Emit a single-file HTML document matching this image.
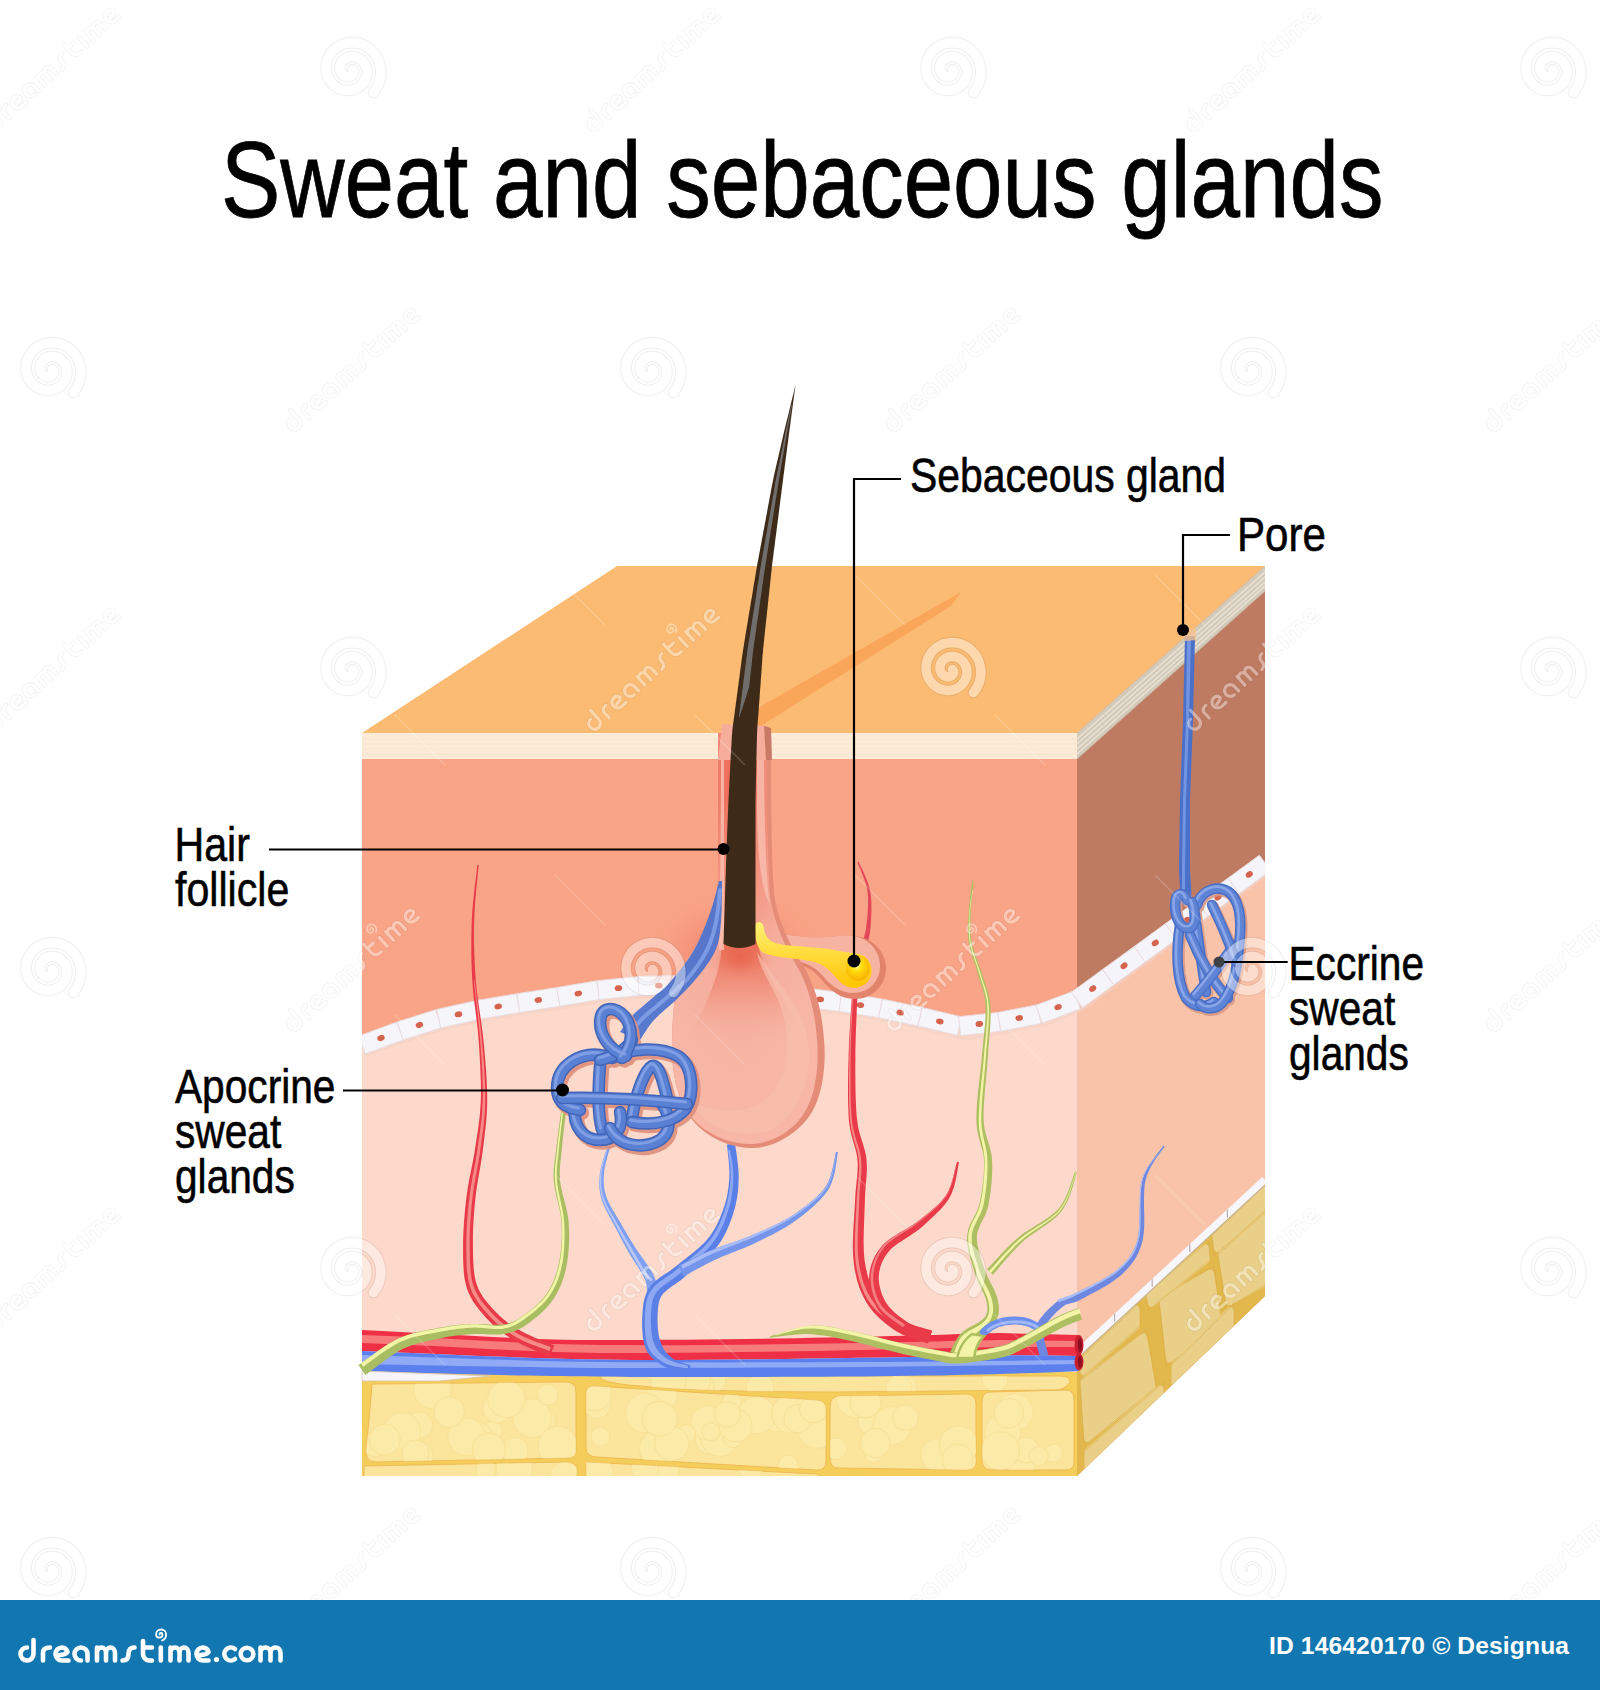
<!DOCTYPE html>
<html><head><meta charset="utf-8">
<style>
html,body{margin:0;padding:0;background:#fff;}
body{width:1600px;height:1690px;overflow:hidden;position:relative;}
svg{position:absolute;left:0;top:0;}
text{font-family:"Liberation Sans",sans-serif;}
</style></head>
<body>
<svg width="1600" height="1690" viewBox="0 0 1600 1690">
<!-- TOP FACE -->
<polygon points="362,733 617,566 1265,566 1077,733" fill="#fbbb73"/>
<path d="M756,709 L961,592 L951,606 L756,729 Z" fill="#f9a65b"/>
<!-- RIGHT FACE -->
<polygon points="1077,733 1265,566 1265,1296 1077,1476" fill="#bf7b62"/>
<polygon points="1077,733 1265,566 1265,591 1077,759" fill="#d3cab9"/>
<g stroke="#efe9df" stroke-width="1.3" opacity="0.85">
<line x1="1077" y1="739" x2="1265" y2="572"/>
<line x1="1077" y1="744" x2="1265" y2="577"/>
<line x1="1077" y1="749" x2="1265" y2="582"/>
<line x1="1077" y1="754" x2="1265" y2="586"/>
</g>
<line x1="1077" y1="759" x2="1265" y2="591" stroke="#c8b8a6" stroke-width="1"/>
<!-- right face dermis lower -->
<polygon points="1077,1000 1265,863 1265,1296 1077,1476" fill="#f9c3aa"/>
<!-- FRONT FACE -->
<rect x="362" y="733" width="715" height="743" fill="#f9a486"/>
<rect x="362" y="733" width="715" height="26" fill="#fdebd7"/>
<g stroke="#f7e3cd" stroke-width="1">
<line x1="362" y1="739" x2="1077" y2="739"/>
<line x1="362" y1="744" x2="1077" y2="744"/>
<line x1="362" y1="749" x2="1077" y2="749"/>
<line x1="362" y1="754" x2="1077" y2="754"/>
</g>
<!-- dermis lower front -->
<path d="M362,1045 C420,1028 480,1010 540,1002 C600,992 640,987 680,985 L800,996 C850,1003 900,1012 967,1028 C1000,1022 1040,1014 1077,1000 L1077,1380 L362,1380 Z" fill="#fcd9ca"/>
<clipPath id="cubeClip"><polygon points="362,733 1077,733 1265,566 1265,1296 1077,1476 362,1476"/></clipPath>
<g id="cells" clip-path="url(#cubeClip)">
<path d="M362,1045 L400,1031 L441,1018 L482,1009 L519,1003 L558,997 L599,990 L640,986 L680,985 L720,988 L760,992 L809,998 L849,1003 L890,1010 L930,1019 L967,1028 L1004,1021 L1045,1013 L1077,1000 L1265,863" fill="none" stroke="#f3d0c3" stroke-width="22" stroke-linejoin="round" opacity="0.6" transform="translate(0,1.5)"/>
<polygon points="365.3,1053.9 403.3,1039.9 396.8,1022.1 358.7,1036.1" fill="#f6f5fa" stroke="#e9dde0" stroke-width="1"/>
<ellipse cx="381.0" cy="1038.0" rx="3.8" ry="2.9" fill="#d5644f" transform="rotate(-20.2 381.0 1038.0)"/>
<polygon points="402.9,1040.0 441.6,1027.8 435.8,1009.7 397.2,1021.9" fill="#f6f5fa" stroke="#e9dde0" stroke-width="1"/>
<ellipse cx="419.4" cy="1024.9" rx="3.8" ry="2.9" fill="#d5644f" transform="rotate(-17.6 419.4 1024.9)"/>
<polygon points="440.8,1028.0 480.3,1019.1 476.2,1000.6 436.6,1009.5" fill="#f6f5fa" stroke="#e9dde0" stroke-width="1"/>
<ellipse cx="458.5" cy="1014.3" rx="3.8" ry="2.9" fill="#d5644f" transform="rotate(-12.7 458.5 1014.3)"/>
<polygon points="479.8,1019.2 519.8,1012.5 516.7,993.8 476.7,1000.5" fill="#f6f5fa" stroke="#e9dde0" stroke-width="1"/>
<ellipse cx="498.2" cy="1006.5" rx="3.8" ry="2.9" fill="#d5644f" transform="rotate(-9.5 498.2 1006.5)"/>
<polygon points="519.7,1012.5 559.8,1006.3 556.9,987.6 516.8,993.7" fill="#f6f5fa" stroke="#e9dde0" stroke-width="1"/>
<ellipse cx="538.3" cy="1000.0" rx="3.8" ry="2.9" fill="#d5644f" transform="rotate(-8.8 538.3 1000.0)"/>
<polygon points="559.9,1006.3 599.9,999.5 596.7,980.8 556.7,987.6" fill="#f6f5fa" stroke="#e9dde0" stroke-width="1"/>
<ellipse cx="578.3" cy="993.5" rx="3.8" ry="2.9" fill="#d5644f" transform="rotate(-9.7 578.3 993.5)"/>
<polygon points="599.2,999.6 639.6,995.6 637.7,976.7 597.3,980.7" fill="#f6f5fa" stroke="#e9dde0" stroke-width="1"/>
<ellipse cx="618.5" cy="988.1" rx="3.8" ry="2.9" fill="#d5644f" transform="rotate(-5.6 618.5 988.1)"/>
<polygon points="638.9,995.6 679.4,994.5 678.9,975.5 638.4,976.6" fill="#f6f5fa" stroke="#e9dde0" stroke-width="1"/>
<ellipse cx="658.9" cy="985.6" rx="3.8" ry="2.9" fill="#d5644f" transform="rotate(-1.6 658.9 985.6)"/>
<polygon points="678.5,994.5 718.9,997.4 720.3,978.5 679.8,975.5" fill="#f6f5fa" stroke="#e9dde0" stroke-width="1"/>
<ellipse cx="699.4" cy="986.5" rx="3.8" ry="2.9" fill="#d5644f" transform="rotate(4.2 699.4 986.5)"/>
<polygon points="718.6,997.4 759.0,1001.4 760.9,982.5 720.5,978.5" fill="#f6f5fa" stroke="#e9dde0" stroke-width="1"/>
<ellipse cx="739.8" cy="990.0" rx="3.8" ry="2.9" fill="#d5644f" transform="rotate(5.7 739.8 990.0)"/>
<polygon points="758.8,1001.4 799.0,1006.4 801.3,987.5 761.1,982.6" fill="#f6f5fa" stroke="#e9dde0" stroke-width="1"/>
<ellipse cx="780.1" cy="994.5" rx="3.8" ry="2.9" fill="#d5644f" transform="rotate(7.0 780.1 994.5)"/>
<polygon points="799.0,1006.3 839.2,1011.4 841.6,992.5 801.4,987.5" fill="#f6f5fa" stroke="#e9dde0" stroke-width="1"/>
<ellipse cx="820.3" cy="999.4" rx="3.8" ry="2.9" fill="#d5644f" transform="rotate(7.1 820.3 999.4)"/>
<polygon points="838.9,1011.3 878.9,1017.7 882.0,999.0 841.9,992.5" fill="#f6f5fa" stroke="#e9dde0" stroke-width="1"/>
<ellipse cx="860.4" cy="1005.1" rx="3.8" ry="2.9" fill="#d5644f" transform="rotate(9.1 860.4 1005.1)"/>
<polygon points="878.5,1017.7 918.1,1026.1 922.1,1007.5 882.4,999.1" fill="#f6f5fa" stroke="#e9dde0" stroke-width="1"/>
<ellipse cx="900.3" cy="1012.6" rx="3.8" ry="2.9" fill="#d5644f" transform="rotate(12.0 900.3 1012.6)"/>
<polygon points="917.9,1026.0 957.3,1035.4 961.7,1016.9 922.3,1007.5" fill="#f6f5fa" stroke="#e9dde0" stroke-width="1"/>
<ellipse cx="939.8" cy="1021.5" rx="3.8" ry="2.9" fill="#d5644f" transform="rotate(13.4 939.8 1021.5)"/>
<polygon points="960.6,1035.6 1000.3,1031.3 998.3,1012.4 958.5,1016.7" fill="#f6f5fa" stroke="#e9dde0" stroke-width="1"/>
<ellipse cx="979.4" cy="1024.0" rx="3.8" ry="2.9" fill="#d5644f" transform="rotate(-6.2 979.4 1024.0)"/>
<polygon points="1001.1,1031.2 1040.9,1023.5 1037.3,1004.8 997.5,1012.6" fill="#f6f5fa" stroke="#e9dde0" stroke-width="1"/>
<ellipse cx="1019.2" cy="1018.0" rx="3.8" ry="2.9" fill="#d5644f" transform="rotate(-11.0 1019.2 1018.0)"/>
<polygon points="1042.4,1023.1 1080.3,1008.9 1073.7,991.1 1035.8,1005.3" fill="#f6f5fa" stroke="#e9dde0" stroke-width="1"/>
<ellipse cx="1058.1" cy="1007.1" rx="3.8" ry="2.9" fill="#d5644f" transform="rotate(-20.5 1058.1 1007.1)"/>
<polygon points="1082.6,1007.7 1113.9,984.8 1102.7,969.5 1071.4,992.3" fill="#f5f4fa" stroke="#e9dde0" stroke-width="1"/>
<ellipse cx="1092.7" cy="988.6" rx="3.8" ry="2.9" fill="#d5644f" transform="rotate(-36.1 1092.7 988.6)"/>
<polygon points="1113.9,984.8 1145.3,962.0 1134.1,946.7 1102.7,969.5" fill="#f5f4fa" stroke="#e9dde0" stroke-width="1"/>
<ellipse cx="1124.0" cy="965.8" rx="3.8" ry="2.9" fill="#d5644f" transform="rotate(-36.1 1124.0 965.8)"/>
<polygon points="1145.3,962.0 1176.6,939.2 1165.4,923.8 1134.1,946.7" fill="#f5f4fa" stroke="#e9dde0" stroke-width="1"/>
<ellipse cx="1155.3" cy="942.9" rx="3.8" ry="2.9" fill="#d5644f" transform="rotate(-36.1 1155.3 942.9)"/>
<polygon points="1176.6,939.2 1207.9,916.3 1196.7,901.0 1165.4,923.8" fill="#f5f4fa" stroke="#e9dde0" stroke-width="1"/>
<ellipse cx="1186.7" cy="920.1" rx="3.8" ry="2.9" fill="#d5644f" transform="rotate(-36.1 1186.7 920.1)"/>
<polygon points="1207.9,916.3 1239.3,893.5 1228.1,878.2 1196.7,901.0" fill="#f5f4fa" stroke="#e9dde0" stroke-width="1"/>
<ellipse cx="1218.0" cy="897.2" rx="3.8" ry="2.9" fill="#d5644f" transform="rotate(-36.1 1218.0 897.2)"/>
<polygon points="1239.3,893.5 1270.6,870.7 1259.4,855.3 1228.1,878.2" fill="#f5f4fa" stroke="#e9dde0" stroke-width="1"/>
<ellipse cx="1249.3" cy="874.4" rx="3.8" ry="2.9" fill="#d5644f" transform="rotate(-36.1 1249.3 874.4)"/>
</g>
<g id="fat">
<rect x="362" y="1372" width="715" height="104" fill="#f5cd5a"/>
<clipPath id="fatFront"><rect x="362" y="1372" width="715" height="104"/></clipPath>
<g clip-path="url(#fatFront)">
<clipPath id="lob1"><path d="M372,1386 Q370,1384 376,1384 L566,1382 Q576,1382 576,1392 L576,1452 Q576,1458 566,1458 L376,1462 Q366,1462 366,1452 Z"/></clipPath>
<path d="M372,1386 Q370,1384 376,1384 L566,1382 Q576,1382 576,1392 L576,1452 Q576,1458 566,1458 L376,1462 Q366,1462 366,1452 Z" fill="#fbe59c" stroke="#eebb55" stroke-width="1"/>
<g opacity="0.55" clip-path="url(#lob1)">
<circle cx="419.6" cy="1425.0" r="13.1" fill="#fdeeb4" stroke="#f3d98a" stroke-width="0.8"/>
<circle cx="492.8" cy="1430.5" r="9.7" fill="#fdeeb4" stroke="#f3d98a" stroke-width="0.8"/>
<circle cx="374.6" cy="1444.9" r="11.9" fill="#fdeeb4" stroke="#f3d98a" stroke-width="0.8"/>
<circle cx="418.9" cy="1455.7" r="14.2" fill="#fdeeb4" stroke="#f3d98a" stroke-width="0.8"/>
<circle cx="539.3" cy="1420.4" r="16.0" fill="#fdeeb4" stroke="#f3d98a" stroke-width="0.8"/>
<circle cx="402.1" cy="1431.2" r="18.5" fill="#fdeeb4" stroke="#f3d98a" stroke-width="0.8"/>
<circle cx="476.6" cy="1438.4" r="16.4" fill="#fdeeb4" stroke="#f3d98a" stroke-width="0.8"/>
<circle cx="384.8" cy="1439.6" r="15.5" fill="#fdeeb4" stroke="#f3d98a" stroke-width="0.8"/>
<circle cx="432.3" cy="1390.1" r="18.5" fill="#fdeeb4" stroke="#f3d98a" stroke-width="0.8"/>
<circle cx="466.5" cy="1436.9" r="18.7" fill="#fdeeb4" stroke="#f3d98a" stroke-width="0.8"/>
<circle cx="514.8" cy="1450.6" r="13.3" fill="#fdeeb4" stroke="#f3d98a" stroke-width="0.8"/>
<circle cx="532.2" cy="1418.2" r="19.3" fill="#fdeeb4" stroke="#f3d98a" stroke-width="0.8"/>
<circle cx="547.8" cy="1394.6" r="10.5" fill="#fdeeb4" stroke="#f3d98a" stroke-width="0.8"/>
<circle cx="415.4" cy="1453.7" r="13.8" fill="#fdeeb4" stroke="#f3d98a" stroke-width="0.8"/>
<circle cx="497.3" cy="1408.5" r="14.6" fill="#fdeeb4" stroke="#f3d98a" stroke-width="0.8"/>
<circle cx="449.2" cy="1411.9" r="15.4" fill="#fdeeb4" stroke="#f3d98a" stroke-width="0.8"/>
<circle cx="488.9" cy="1449.5" r="16.5" fill="#fdeeb4" stroke="#f3d98a" stroke-width="0.8"/>
<circle cx="557.8" cy="1446.2" r="19.9" fill="#fdeeb4" stroke="#f3d98a" stroke-width="0.8"/>
<circle cx="506.3" cy="1399.1" r="18.5" fill="#fdeeb4" stroke="#f3d98a" stroke-width="0.8"/>
</g>
<clipPath id="lob2"><path d="M364,1466 L566,1462 Q577,1462 577,1470 L577,1480 L364,1480 Z"/></clipPath>
<path d="M364,1466 L566,1462 Q577,1462 577,1470 L577,1480 L364,1480 Z" fill="#fbe59c" stroke="#eebb55" stroke-width="1"/>
<g opacity="0.55" clip-path="url(#lob2)">
<circle cx="564.9" cy="1476.9" r="15.3" fill="#fdeeb4" stroke="#f3d98a" stroke-width="0.8"/>
<circle cx="514.2" cy="1468.5" r="18.1" fill="#fdeeb4" stroke="#f3d98a" stroke-width="0.8"/>
<circle cx="485.9" cy="1469.4" r="9.7" fill="#fdeeb4" stroke="#f3d98a" stroke-width="0.8"/>
</g>
<clipPath id="lob3"><path d="M594,1386 Q586,1386 586,1394 L586,1448 Q586,1456 596,1457 L816,1470 Q826,1471 826,1461 L826,1410 Q826,1400 816,1400 Z"/></clipPath>
<path d="M594,1386 Q586,1386 586,1394 L586,1448 Q586,1456 596,1457 L816,1470 Q826,1471 826,1461 L826,1410 Q826,1400 816,1400 Z" fill="#fbe59c" stroke="#eebb55" stroke-width="1"/>
<g opacity="0.55" clip-path="url(#lob3)">
<circle cx="788.1" cy="1465.2" r="10.0" fill="#fdeeb4" stroke="#f3d98a" stroke-width="0.8"/>
<circle cx="775.7" cy="1421.2" r="10.7" fill="#fdeeb4" stroke="#f3d98a" stroke-width="0.8"/>
<circle cx="658.2" cy="1448.4" r="18.6" fill="#fdeeb4" stroke="#f3d98a" stroke-width="0.8"/>
<circle cx="600.3" cy="1436.7" r="9.5" fill="#fdeeb4" stroke="#f3d98a" stroke-width="0.8"/>
<circle cx="756.7" cy="1415.2" r="18.7" fill="#fdeeb4" stroke="#f3d98a" stroke-width="0.8"/>
<circle cx="817.5" cy="1428.4" r="20.0" fill="#fdeeb4" stroke="#f3d98a" stroke-width="0.8"/>
<circle cx="661.8" cy="1395.8" r="15.6" fill="#fdeeb4" stroke="#f3d98a" stroke-width="0.8"/>
<circle cx="597.3" cy="1405.0" r="13.5" fill="#fdeeb4" stroke="#f3d98a" stroke-width="0.8"/>
<circle cx="731.6" cy="1401.9" r="9.5" fill="#fdeeb4" stroke="#f3d98a" stroke-width="0.8"/>
<circle cx="791.3" cy="1413.9" r="19.5" fill="#fdeeb4" stroke="#f3d98a" stroke-width="0.8"/>
<circle cx="798.0" cy="1418.7" r="14.1" fill="#fdeeb4" stroke="#f3d98a" stroke-width="0.8"/>
<circle cx="710.7" cy="1438.9" r="15.6" fill="#fdeeb4" stroke="#f3d98a" stroke-width="0.8"/>
<circle cx="719.7" cy="1437.1" r="19.3" fill="#fdeeb4" stroke="#f3d98a" stroke-width="0.8"/>
<circle cx="707.6" cy="1422.8" r="16.9" fill="#fdeeb4" stroke="#f3d98a" stroke-width="0.8"/>
<circle cx="645.1" cy="1412.9" r="19.8" fill="#fdeeb4" stroke="#f3d98a" stroke-width="0.8"/>
<circle cx="710.9" cy="1431.7" r="9.1" fill="#fdeeb4" stroke="#f3d98a" stroke-width="0.8"/>
<circle cx="686.3" cy="1434.1" r="9.2" fill="#fdeeb4" stroke="#f3d98a" stroke-width="0.8"/>
<circle cx="732.9" cy="1438.0" r="9.7" fill="#fdeeb4" stroke="#f3d98a" stroke-width="0.8"/>
<circle cx="735.5" cy="1425.4" r="16.5" fill="#fdeeb4" stroke="#f3d98a" stroke-width="0.8"/>
<circle cx="671.8" cy="1443.7" r="17.1" fill="#fdeeb4" stroke="#f3d98a" stroke-width="0.8"/>
<circle cx="595.1" cy="1394.6" r="16.4" fill="#fdeeb4" stroke="#f3d98a" stroke-width="0.8"/>
<circle cx="813.5" cy="1409.1" r="14.0" fill="#fdeeb4" stroke="#f3d98a" stroke-width="0.8"/>
<circle cx="727.5" cy="1414.3" r="13.0" fill="#fdeeb4" stroke="#f3d98a" stroke-width="0.8"/>
<circle cx="662.5" cy="1418.1" r="15.6" fill="#fdeeb4" stroke="#f3d98a" stroke-width="0.8"/>
<circle cx="659.7" cy="1418.7" r="17.5" fill="#fdeeb4" stroke="#f3d98a" stroke-width="0.8"/>
</g>
<clipPath id="lob4"><path d="M586,1462 L816,1474 L830,1480 L586,1480 Z"/></clipPath>
<path d="M586,1462 L816,1474 L830,1480 L586,1480 Z" fill="#fbe59c" stroke="#eebb55" stroke-width="1"/>
<g opacity="0.55" clip-path="url(#lob4)">
<circle cx="596.2" cy="1473.4" r="17.1" fill="#fdeeb4" stroke="#f3d98a" stroke-width="0.8"/>
<circle cx="661.3" cy="1468.9" r="17.8" fill="#fdeeb4" stroke="#f3d98a" stroke-width="0.8"/>
<circle cx="644.9" cy="1468.4" r="13.8" fill="#fdeeb4" stroke="#f3d98a" stroke-width="0.8"/>
<circle cx="750.6" cy="1467.3" r="12.5" fill="#fdeeb4" stroke="#f3d98a" stroke-width="0.8"/>
</g>
<clipPath id="lob5"><path d="M600,1376 L1060,1376 Q1070,1376 1070,1382 Q1065,1390 1055,1390 L836,1392 Q700,1392 640,1386 Q600,1383 600,1376 Z"/></clipPath>
<path d="M600,1376 L1060,1376 Q1070,1376 1070,1382 Q1065,1390 1055,1390 L836,1392 Q700,1392 640,1386 Q600,1383 600,1376 Z" fill="#fbe59c" stroke="#eebb55" stroke-width="1"/>
<g opacity="0.55" clip-path="url(#lob5)">
<circle cx="760.2" cy="1387.8" r="13.8" fill="#fdeeb4" stroke="#f3d98a" stroke-width="0.8"/>
<circle cx="995.0" cy="1379.2" r="12.7" fill="#fdeeb4" stroke="#f3d98a" stroke-width="0.8"/>
<circle cx="902.6" cy="1388.5" r="14.0" fill="#fdeeb4" stroke="#f3d98a" stroke-width="0.8"/>
<circle cx="711.3" cy="1378.6" r="14.8" fill="#fdeeb4" stroke="#f3d98a" stroke-width="0.8"/>
<circle cx="695.9" cy="1387.5" r="18.2" fill="#fdeeb4" stroke="#f3d98a" stroke-width="0.8"/>
<circle cx="692.6" cy="1380.6" r="17.9" fill="#fdeeb4" stroke="#f3d98a" stroke-width="0.8"/>
<circle cx="898.9" cy="1387.5" r="12.8" fill="#fdeeb4" stroke="#f3d98a" stroke-width="0.8"/>
<circle cx="668.4" cy="1380.8" r="17.7" fill="#fdeeb4" stroke="#f3d98a" stroke-width="0.8"/>
</g>
<clipPath id="lob6"><path d="M840,1396 L966,1394 Q976,1394 976,1404 L976,1462 Q976,1470 966,1470 L838,1468 Q830,1468 830,1458 L830,1406 Q830,1396 840,1396 Z"/></clipPath>
<path d="M840,1396 L966,1394 Q976,1394 976,1404 L976,1462 Q976,1470 966,1470 L838,1468 Q830,1468 830,1458 L830,1406 Q830,1396 840,1396 Z" fill="#fbe59c" stroke="#eebb55" stroke-width="1"/>
<g opacity="0.55" clip-path="url(#lob6)">
<circle cx="871.4" cy="1421.6" r="13.6" fill="#fdeeb4" stroke="#f3d98a" stroke-width="0.8"/>
<circle cx="891.9" cy="1425.8" r="19.1" fill="#fdeeb4" stroke="#f3d98a" stroke-width="0.8"/>
<circle cx="855.5" cy="1398.3" r="19.4" fill="#fdeeb4" stroke="#f3d98a" stroke-width="0.8"/>
<circle cx="955.4" cy="1465.1" r="13.8" fill="#fdeeb4" stroke="#f3d98a" stroke-width="0.8"/>
<circle cx="965.1" cy="1461.1" r="11.4" fill="#fdeeb4" stroke="#f3d98a" stroke-width="0.8"/>
<circle cx="936.9" cy="1454.9" r="16.3" fill="#fdeeb4" stroke="#f3d98a" stroke-width="0.8"/>
<circle cx="905.6" cy="1417.7" r="12.8" fill="#fdeeb4" stroke="#f3d98a" stroke-width="0.8"/>
<circle cx="865.4" cy="1402.6" r="15.5" fill="#fdeeb4" stroke="#f3d98a" stroke-width="0.8"/>
<circle cx="873.6" cy="1453.1" r="9.5" fill="#fdeeb4" stroke="#f3d98a" stroke-width="0.8"/>
<circle cx="958.7" cy="1445.2" r="19.2" fill="#fdeeb4" stroke="#f3d98a" stroke-width="0.8"/>
<circle cx="957.7" cy="1459.2" r="15.3" fill="#fdeeb4" stroke="#f3d98a" stroke-width="0.8"/>
<circle cx="835.8" cy="1448.7" r="10.9" fill="#fdeeb4" stroke="#f3d98a" stroke-width="0.8"/>
<circle cx="875.4" cy="1443.1" r="14.8" fill="#fdeeb4" stroke="#f3d98a" stroke-width="0.8"/>
</g>
<clipPath id="lob7"><path d="M990,1392 L1066,1390 Q1074,1390 1074,1400 L1074,1462 Q1074,1470 1066,1470 L992,1470 Q982,1470 982,1460 L982,1402 Q982,1392 990,1392 Z"/></clipPath>
<path d="M990,1392 L1066,1390 Q1074,1390 1074,1400 L1074,1462 Q1074,1470 1066,1470 L992,1470 Q982,1470 982,1460 L982,1402 Q982,1392 990,1392 Z" fill="#fbe59c" stroke="#eebb55" stroke-width="1"/>
<g opacity="0.55" clip-path="url(#lob7)">
<circle cx="1020.8" cy="1461.6" r="15.7" fill="#fdeeb4" stroke="#f3d98a" stroke-width="0.8"/>
<circle cx="1014.7" cy="1412.2" r="18.5" fill="#fdeeb4" stroke="#f3d98a" stroke-width="0.8"/>
<circle cx="1026.1" cy="1450.3" r="12.9" fill="#fdeeb4" stroke="#f3d98a" stroke-width="0.8"/>
<circle cx="1002.6" cy="1432.5" r="18.0" fill="#fdeeb4" stroke="#f3d98a" stroke-width="0.8"/>
<circle cx="1000.4" cy="1451.0" r="19.1" fill="#fdeeb4" stroke="#f3d98a" stroke-width="0.8"/>
<circle cx="1053.7" cy="1453.3" r="9.1" fill="#fdeeb4" stroke="#f3d98a" stroke-width="0.8"/>
<circle cx="1038.8" cy="1456.1" r="9.5" fill="#fdeeb4" stroke="#f3d98a" stroke-width="0.8"/>
<circle cx="1008.8" cy="1413.3" r="14.8" fill="#fdeeb4" stroke="#f3d98a" stroke-width="0.8"/>
</g>
</g>
<polygon points="1077,1356 1265,1183 1265,1296 1077,1476" fill="#e2b84c"/>
<clipPath id="fatRight"><polygon points="1077,1356 1265,1183 1265,1296 1077,1476"/></clipPath>
<g clip-path="url(#fatRight)">
<polygon points="1084.0,1381.6 1143.0,1337.3 1152.0,1387.0 1088.0,1437.9" fill="#e9cf87" stroke="#e9cf87" stroke-width="8" stroke-linejoin="round"/>
<polygon points="1080.0,1381.2 1147.0,1329.6 1156.0,1387.3 1084.0,1445.6" fill="none" stroke="#dcae48" stroke-width="1" stroke-linejoin="round" opacity="0.6"/>
<polygon points="1163.0,1298.9 1210.0,1273.6 1218.0,1324.3 1170.0,1358.4" fill="#e9cf87" stroke="#e9cf87" stroke-width="8" stroke-linejoin="round"/>
<polygon points="1159.0,1298.6 1214.0,1266.0 1222.0,1324.6 1166.0,1366.1" fill="none" stroke="#dcae48" stroke-width="1" stroke-linejoin="round" opacity="0.6"/>
<polygon points="1222.0,1254.6 1268.0,1214.3 1268.0,1280.3 1230.0,1301.2" fill="#e9cf87" stroke="#e9cf87" stroke-width="8" stroke-linejoin="round"/>
<polygon points="1218.0,1254.3 1272.0,1206.6 1272.0,1280.6 1226.0,1308.9" fill="none" stroke="#dcae48" stroke-width="1" stroke-linejoin="round" opacity="0.6"/>
<polygon points="1084.0,1359.6 1136.0,1309.7 1136.0,1325.7 1084.0,1371.6" fill="#e9cf87" stroke="#e9cf87" stroke-width="8" stroke-linejoin="round"/>
<polygon points="1080.0,1359.2 1140.0,1302.0 1140.0,1326.0 1080.0,1379.2" fill="none" stroke="#dcae48" stroke-width="1" stroke-linejoin="round" opacity="0.6"/>
<polygon points="1150.0,1294.8 1205.0,1248.2 1206.0,1259.3 1152.0,1303.0" fill="#e9cf87" stroke="#e9cf87" stroke-width="8" stroke-linejoin="round"/>
<polygon points="1146.0,1294.5 1209.0,1240.6 1210.0,1259.6 1148.0,1310.7" fill="none" stroke="#dcae48" stroke-width="1" stroke-linejoin="round" opacity="0.6"/>
<polygon points="1216.0,1236.1 1268.0,1186.3 1268.0,1204.3 1218.0,1248.3" fill="#e9cf87" stroke="#e9cf87" stroke-width="8" stroke-linejoin="round"/>
<polygon points="1212.0,1235.8 1272.0,1178.6 1272.0,1204.6 1214.0,1256.0" fill="none" stroke="#dcae48" stroke-width="1" stroke-linejoin="round" opacity="0.6"/>
<polygon points="1088.0,1451.9 1160.0,1389.6 1160.0,1409.6 1088.0,1475.9" fill="#e9cf87" stroke="#e9cf87" stroke-width="8" stroke-linejoin="round"/>
<polygon points="1084.0,1451.6 1164.0,1382.0 1164.0,1410.0 1084.0,1483.6" fill="none" stroke="#dcae48" stroke-width="1" stroke-linejoin="round" opacity="0.6"/>
<polygon points="1175.0,1365.8 1230.0,1311.2 1230.0,1345.2 1175.0,1395.8" fill="#e9cf87" stroke="#e9cf87" stroke-width="8" stroke-linejoin="round"/>
<polygon points="1171.0,1365.5 1234.0,1303.6 1234.0,1345.6 1171.0,1403.5" fill="none" stroke="#dcae48" stroke-width="1" stroke-linejoin="round" opacity="0.6"/>
</g>
<path d="M1079,1352 L1265,1180" stroke="#f7f6fb" stroke-width="8"/>
<path d="M1079,1357 L1265,1185" stroke="#c9b48a" stroke-width="1.2"/>
<line x1="1114.6" y1="1313.4" x2="1114.6" y2="1321.4" stroke="#b9aeb0" stroke-width="1.2"/>
<line x1="1152.2" y1="1278.8" x2="1152.2" y2="1286.8" stroke="#b9aeb0" stroke-width="1.2"/>
<line x1="1189.8" y1="1244.2" x2="1189.8" y2="1252.2" stroke="#b9aeb0" stroke-width="1.2"/>
<line x1="1227.4" y1="1209.6" x2="1227.4" y2="1217.6" stroke="#b9aeb0" stroke-width="1.2"/>
</g>
<g id="vessels">
<path d="M362,1330 C450,1334 520,1340 600,1340 C760,1340 900,1336 1000,1333 L1079,1335 L1079,1356 C1040,1355 1000,1355 960,1356 C850,1358 750,1360 650,1360 C560,1360 460,1355 362,1351 Z" fill="#ee2f45"/>
<path d="M362,1335 C450,1338 520,1344 600,1345 C760,1346 900,1342 1000,1340 L1079,1341 L1079,1347 L1000,1347 C900,1349 760,1353 600,1353 C520,1352 450,1346 362,1343 Z" fill="#f77b7a"/>
<path d="M362,1351 C460,1355 560,1360 650,1360 C750,1360 850,1358 960,1356 C1000,1355 1040,1355 1079,1356 L1079,1371 C1000,1375 900,1377 700,1377 C550,1377 450,1374 362,1371 Z" fill="#5b80ee"/>
<path d="M362,1355 C450,1358 520,1361 600,1362 C760,1363 900,1362 1079,1360 L1079,1364 C900,1367 760,1368 600,1368 C520,1367 450,1366 362,1364 Z" fill="#91aaf6"/>
<path d="M362,1371 L490,1376 L440,1381 L362,1381 Z" fill="#f7f5fb" stroke="#d8c4b0" stroke-width="0.8"/>
<ellipse cx="1079" cy="1345" rx="4.5" ry="10" fill="#c81e32"/>
<ellipse cx="1080" cy="1345" rx="2.2" ry="7" fill="#8e1020"/>
<ellipse cx="1079" cy="1362" rx="4.5" ry="8.5" fill="#c81e32"/>
<ellipse cx="1080" cy="1362" rx="2.2" ry="6" fill="#8e1020"/>
<path d="M477.3,864.9 L477.0,867.6 L476.7,870.8 L476.2,874.7 L475.7,879.0 L475.1,883.7 L474.5,888.7 L474.0,893.9 L473.4,899.2 L472.9,904.5 L472.4,909.8 L472.1,915.0 L471.8,920.0 L471.6,924.8 L471.5,929.7 L471.4,934.6 L471.3,939.6 L471.3,944.7 L471.3,949.7 L471.3,954.8 L471.4,959.9 L471.6,964.9 L471.8,970.0 L472.0,975.1 L472.3,980.1 L472.6,985.2 L473.0,990.2 L473.5,995.2 L474.1,1000.2 L474.7,1005.3 L475.4,1010.3 L476.0,1015.3 L476.6,1020.3 L477.2,1025.3 L477.8,1030.3 L478.2,1035.2 L478.6,1040.2 L479.0,1045.2 L479.3,1050.3 L479.6,1055.5 L479.9,1060.6 L480.2,1065.7 L480.4,1070.8 L480.6,1075.9 L480.8,1080.9 L480.9,1085.9 L480.9,1090.7 L480.9,1095.4 L480.8,1099.9 L480.6,1104.3 L480.3,1108.6 L480.0,1112.8 L479.6,1116.9 L479.1,1120.9 L478.6,1124.8 L478.1,1128.8 L477.5,1132.7 L476.9,1136.6 L476.3,1140.5 L475.7,1144.5 L475.1,1148.5 L474.5,1152.4 L473.8,1156.4 L473.1,1160.3 L472.3,1164.3 L471.5,1168.2 L470.7,1172.2 L469.9,1176.2 L469.1,1180.2 L468.4,1184.2 L467.7,1188.3 L467.1,1192.4 L466.5,1196.5 L466.0,1200.6 L465.6,1204.8 L465.1,1208.9 L464.7,1213.2 L464.4,1217.4 L464.0,1221.6 L463.8,1225.8 L463.5,1230.0 L463.3,1234.1 L463.2,1238.2 L463.1,1242.2 L463.1,1246.0 L463.1,1249.8 L463.1,1253.5 L463.1,1257.2 L463.2,1260.9 L463.3,1264.5 L463.5,1268.1 L463.8,1271.7 L464.1,1275.2 L464.6,1278.7 L465.3,1282.1 L466.1,1285.4 L467.0,1288.7 L468.2,1291.9 L469.6,1294.9 L471.1,1297.9 L472.7,1300.7 L474.5,1303.4 L476.3,1306.0 L478.2,1308.5 L480.1,1310.9 L482.1,1313.3 L484.1,1315.5 L486.0,1317.7 L488.0,1319.8 L490.0,1321.9 L492.1,1323.9 L494.2,1325.9 L496.3,1327.8 L498.5,1329.6 L500.7,1331.4 L503.0,1333.1 L505.3,1334.7 L507.7,1336.3 L510.1,1337.9 L512.6,1339.5 L515.1,1341.0 L517.9,1342.6 L521.0,1344.2 L524.3,1345.8 L527.6,1347.3 L531.0,1348.8 L534.3,1350.2 L537.6,1351.6 L540.7,1352.9 L543.5,1354.0 L545.9,1355.0 L548.0,1355.9 L549.6,1356.6 L554.4,1345.4 L552.7,1344.7 L550.5,1343.8 L547.9,1342.8 L545.1,1341.7 L542.1,1340.5 L538.9,1339.3 L535.6,1337.9 L532.4,1336.5 L529.2,1335.1 L526.2,1333.7 L523.4,1332.3 L520.9,1331.0 L518.5,1329.6 L516.2,1328.2 L513.9,1326.8 L511.7,1325.3 L509.6,1323.9 L507.5,1322.4 L505.5,1320.8 L503.5,1319.2 L501.6,1317.6 L499.7,1315.9 L497.9,1314.1 L496.0,1312.2 L494.1,1310.2 L492.2,1308.2 L490.3,1306.1 L488.5,1304.0 L486.7,1301.8 L484.9,1299.6 L483.3,1297.4 L481.8,1295.1 L480.4,1292.7 L479.1,1290.3 L477.9,1287.8 L477.0,1285.3 L476.1,1282.6 L475.4,1279.8 L474.8,1276.9 L474.3,1273.9 L473.9,1270.7 L473.6,1267.4 L473.4,1264.0 L473.2,1260.5 L473.1,1257.0 L473.0,1253.4 L473.0,1249.7 L472.9,1246.0 L472.9,1242.2 L472.9,1238.4 L472.9,1234.4 L473.1,1230.4 L473.2,1226.4 L473.5,1222.2 L473.7,1218.1 L474.0,1213.9 L474.3,1209.8 L474.7,1205.7 L475.1,1201.6 L475.5,1197.5 L475.9,1193.6 L476.5,1189.6 L477.1,1185.7 L477.7,1181.7 L478.4,1177.8 L479.1,1173.8 L479.8,1169.8 L480.5,1165.8 L481.1,1161.8 L481.8,1157.7 L482.4,1153.6 L482.9,1149.5 L483.4,1145.5 L483.9,1141.5 L484.4,1137.6 L484.9,1133.6 L485.3,1129.7 L485.8,1125.7 L486.2,1121.6 L486.5,1117.5 L486.8,1113.3 L487.0,1109.0 L487.2,1104.6 L487.2,1100.1 L487.2,1095.4 L487.1,1090.6 L486.9,1085.7 L486.7,1080.7 L486.4,1075.6 L486.1,1070.5 L485.7,1065.4 L485.3,1060.2 L484.8,1055.1 L484.4,1049.9 L483.9,1044.8 L483.4,1039.8 L482.9,1034.8 L482.2,1029.7 L481.6,1024.7 L480.9,1019.7 L480.1,1014.7 L479.4,1009.7 L478.7,1004.7 L478.0,999.8 L477.3,994.8 L476.7,989.8 L476.2,984.8 L475.7,979.9 L475.4,974.9 L475.1,969.9 L474.8,964.8 L474.6,959.8 L474.4,954.7 L474.2,949.7 L474.1,944.6 L474.0,939.6 L474.0,934.7 L474.0,929.7 L474.1,924.9 L474.2,920.0 L474.4,915.1 L474.6,910.0 L475.0,904.7 L475.4,899.3 L475.9,894.0 L476.3,888.8 L476.8,883.9 L477.3,879.2 L477.7,874.9 L478.1,871.0 L478.4,867.7 L478.7,865.1 Z" fill="#e83a48"/>
<path d="M473.7,980.0 L474.0,982.9 L474.4,986.6 L474.9,990.8 L475.5,995.6 L476.1,1000.8 L476.8,1006.3 L477.4,1012.0 L478.1,1017.9 L478.7,1023.7 L479.2,1029.4 L479.7,1034.9 L480.2,1040.1 L480.5,1045.1 L480.9,1050.2 L481.3,1055.3 L481.6,1060.5 L481.9,1065.6 L482.2,1070.7 L482.4,1075.8 L482.6,1080.9 L482.7,1085.8 L482.8,1090.7 L482.8,1095.4 L482.7,1100.0 L482.5,1104.4 L482.3,1108.7 L482.0,1112.9 L481.7,1117.1 L481.3,1121.1 L480.8,1125.1 L480.3,1129.0 L479.8,1133.0 L479.2,1136.9 L478.7,1140.8 L478.1,1144.8 L477.6,1148.8 L477.0,1152.8 L476.3,1156.8 L475.6,1160.8 L474.9,1164.8 L474.1,1168.7 L473.4,1172.7 L472.6,1176.7 L471.9,1180.7 L471.2,1184.7 L470.5,1188.7 L470.0,1192.8 L469.4,1196.8 L469.0,1200.9 L468.5,1205.0 L468.1,1209.2 L467.8,1213.4 L467.4,1217.6 L467.1,1221.8 L466.9,1226.0 L466.6,1230.1 L466.5,1234.2 L466.4,1238.3 L466.3,1242.2 L466.3,1246.0 L466.3,1249.8 L466.4,1253.5 L466.4,1257.1 L466.5,1260.8 L466.6,1264.3 L466.8,1267.9 L467.1,1271.3 L467.5,1274.7 L468.0,1278.1 L468.6,1281.3 L469.4,1284.5 L470.3,1287.6 L471.4,1290.6 L472.7,1293.4 L474.2,1296.2 L475.7,1298.8 L477.4,1301.4 L479.2,1303.9 L481.0,1306.3 L482.9,1308.6 L484.8,1310.9 L486.8,1313.1 L488.7,1315.2 L490.6,1317.3 L492.6,1319.3 L494.6,1321.3 L496.7,1323.2 L498.8,1325.0 L500.9,1326.8 L503.1,1328.5 L505.3,1330.2 L507.6,1331.8 L509.9,1333.3 L512.2,1334.8 L514.6,1336.3 L517.1,1337.7 L519.7,1339.1 L522.5,1340.5 L525.5,1341.9 L528.7,1343.2 L531.8,1344.4 L534.9,1345.6 L537.9,1346.7 L540.8,1347.8 L543.4,1348.7 L545.8,1349.6 L547.7,1350.3 L549.3,1350.9 L550.7,1347.1 L549.1,1346.5 L547.1,1345.8 L544.8,1344.9 L542.2,1344.0 L539.3,1343.0 L536.3,1341.9 L533.2,1340.7 L530.2,1339.5 L527.1,1338.2 L524.2,1336.9 L521.4,1335.6 L518.9,1334.3 L516.6,1332.9 L514.3,1331.5 L512.0,1330.1 L509.8,1328.6 L507.6,1327.1 L505.4,1325.5 L503.3,1323.8 L501.2,1322.1 L499.2,1320.4 L497.2,1318.6 L495.3,1316.7 L493.4,1314.7 L491.4,1312.7 L489.5,1310.6 L487.6,1308.4 L485.7,1306.3 L483.9,1304.0 L482.1,1301.7 L480.4,1299.4 L478.8,1296.9 L477.3,1294.4 L476.0,1291.8 L474.7,1289.2 L473.7,1286.4 L472.8,1283.6 L472.1,1280.6 L471.4,1277.5 L471.0,1274.3 L470.6,1271.0 L470.3,1267.6 L470.1,1264.2 L469.9,1260.6 L469.8,1257.1 L469.8,1253.4 L469.7,1249.7 L469.7,1246.0 L469.7,1242.2 L469.7,1238.3 L469.8,1234.3 L469.9,1230.3 L470.1,1226.2 L470.4,1222.0 L470.7,1217.9 L471.0,1213.7 L471.3,1209.5 L471.7,1205.4 L472.1,1201.2 L472.6,1197.2 L473.0,1193.2 L473.6,1189.2 L474.2,1185.2 L474.9,1181.2 L475.6,1177.3 L476.4,1173.3 L477.1,1169.3 L477.8,1165.3 L478.6,1161.3 L479.2,1157.3 L479.9,1153.3 L480.4,1149.2 L481.0,1145.2 L481.5,1141.2 L482.1,1137.3 L482.6,1133.3 L483.1,1129.4 L483.6,1125.4 L484.0,1121.4 L484.4,1117.3 L484.8,1113.1 L485.0,1108.9 L485.2,1104.5 L485.3,1100.0 L485.3,1095.4 L485.3,1090.6 L485.1,1085.7 L484.9,1080.8 L484.6,1075.7 L484.3,1070.6 L484.0,1065.5 L483.6,1060.3 L483.2,1055.2 L482.7,1050.1 L482.3,1045.0 L481.8,1039.9 L481.3,1034.7 L480.7,1029.2 L480.1,1023.5 L479.3,1017.7 L478.6,1011.9 L477.9,1006.2 L477.1,1000.7 L476.4,995.5 L475.8,990.7 L475.2,986.5 L474.7,982.9 L474.3,980.0 Z" fill="#f58a86"/>
<path d="M561.7,1107.7 L561.4,1109.7 L561.0,1112.3 L560.6,1115.3 L560.1,1118.6 L559.6,1122.3 L559.1,1126.2 L558.5,1130.2 L558.0,1134.2 L557.5,1138.1 L557.0,1141.9 L556.6,1145.5 L556.2,1148.7 L555.9,1151.6 L555.5,1154.4 L555.2,1157.1 L554.8,1159.7 L554.5,1162.2 L554.2,1164.7 L554.0,1167.3 L553.8,1169.9 L553.7,1172.5 L553.6,1175.3 L553.7,1178.2 L553.9,1181.3 L554.2,1184.5 L554.7,1187.9 L555.4,1191.3 L556.1,1194.7 L556.9,1198.2 L557.8,1201.7 L558.6,1205.3 L559.4,1208.8 L560.1,1212.2 L560.7,1215.6 L561.1,1219.0 L561.4,1222.3 L561.6,1225.6 L561.7,1229.1 L561.8,1232.5 L561.7,1236.0 L561.6,1239.4 L561.5,1242.9 L561.2,1246.3 L560.9,1249.7 L560.6,1252.9 L560.1,1256.2 L559.6,1259.3 L559.1,1262.3 L558.4,1265.2 L557.8,1268.0 L557.0,1270.8 L556.2,1273.5 L555.3,1276.1 L554.4,1278.7 L553.4,1281.2 L552.3,1283.6 L551.2,1286.0 L550.0,1288.3 L548.7,1290.5 L547.4,1292.7 L545.9,1294.8 L544.4,1296.8 L542.7,1298.8 L540.9,1300.8 L539.0,1302.7 L537.1,1304.6 L535.1,1306.4 L533.1,1308.2 L531.1,1309.8 L529.1,1311.4 L527.2,1312.9 L525.3,1314.3 L523.4,1315.6 L521.7,1316.8 L520.0,1318.0 L518.3,1319.0 L516.7,1319.9 L515.0,1320.7 L513.4,1321.5 L511.7,1322.2 L509.9,1322.8 L508.1,1323.4 L506.2,1323.9 L504.1,1324.3 L502.0,1324.6 L499.8,1324.8 L497.4,1324.8 L494.8,1324.8 L492.1,1324.7 L489.3,1324.5 L486.5,1324.3 L483.6,1324.1 L480.6,1324.0 L477.6,1323.9 L474.7,1323.9 L471.7,1323.9 L469.0,1324.1 L466.3,1324.3 L463.7,1324.4 L461.1,1324.6 L458.5,1324.9 L455.8,1325.1 L453.2,1325.5 L450.5,1325.8 L447.7,1326.2 L444.9,1326.7 L441.9,1327.2 L438.9,1327.8 L435.9,1328.4 L432.7,1329.0 L429.4,1329.6 L426.1,1330.3 L422.6,1331.0 L419.1,1331.8 L415.5,1332.6 L411.9,1333.6 L408.3,1334.7 L404.7,1335.9 L401.1,1337.3 L397.5,1338.9 L393.9,1340.7 L390.1,1342.8 L386.3,1345.2 L382.5,1347.7 L378.7,1350.3 L375.0,1352.9 L371.5,1355.5 L368.2,1357.9 L365.2,1360.2 L362.5,1362.2 L360.3,1363.8 L358.5,1365.1 L365.5,1374.9 L367.4,1373.6 L369.7,1371.8 L372.4,1369.8 L375.4,1367.5 L378.6,1365.0 L382.0,1362.5 L385.5,1359.9 L389.1,1357.3 L392.6,1354.9 L396.1,1352.7 L399.4,1350.7 L402.5,1349.1 L405.5,1347.8 L408.6,1346.5 L411.8,1345.3 L415.1,1344.3 L418.4,1343.3 L421.7,1342.5 L425.0,1341.7 L428.3,1340.9 L431.6,1340.2 L434.8,1339.5 L438.0,1338.9 L441.1,1338.2 L444.0,1337.6 L446.7,1337.1 L449.4,1336.6 L452.0,1336.2 L454.5,1335.8 L457.0,1335.5 L459.5,1335.2 L462.0,1334.9 L464.5,1334.7 L467.1,1334.5 L469.7,1334.3 L472.3,1334.1 L474.8,1333.9 L477.5,1333.9 L480.2,1334.0 L483.0,1334.1 L485.9,1334.2 L488.8,1334.4 L491.7,1334.5 L494.6,1334.5 L497.5,1334.5 L500.4,1334.4 L503.2,1334.1 L505.9,1333.7 L508.4,1333.1 L510.7,1332.5 L513.0,1331.8 L515.1,1331.0 L517.2,1330.1 L519.2,1329.1 L521.2,1328.1 L523.1,1326.9 L525.0,1325.7 L526.9,1324.5 L528.8,1323.1 L530.7,1321.7 L532.7,1320.1 L534.8,1318.5 L536.9,1316.8 L539.0,1314.9 L541.1,1313.0 L543.3,1311.0 L545.3,1308.9 L547.4,1306.8 L549.3,1304.5 L551.2,1302.2 L553.0,1299.8 L554.6,1297.3 L556.1,1294.8 L557.5,1292.3 L558.8,1289.7 L560.0,1287.1 L561.2,1284.3 L562.2,1281.6 L563.2,1278.7 L564.1,1275.9 L564.9,1272.9 L565.7,1269.9 L566.3,1266.9 L566.9,1263.7 L567.5,1260.5 L567.9,1257.2 L568.3,1253.8 L568.6,1250.3 L568.9,1246.8 L569.0,1243.2 L569.1,1239.6 L569.2,1236.0 L569.1,1232.4 L569.0,1228.8 L568.8,1225.3 L568.6,1221.7 L568.2,1218.1 L567.6,1214.5 L566.9,1210.9 L566.0,1207.2 L565.2,1203.7 L564.2,1200.1 L563.3,1196.7 L562.5,1193.3 L561.7,1189.9 L561.0,1186.7 L560.5,1183.7 L560.1,1180.7 L559.9,1177.9 L559.8,1175.2 L559.8,1172.6 L559.8,1170.1 L560.0,1167.7 L560.1,1165.3 L560.4,1162.8 L560.6,1160.3 L560.9,1157.8 L561.2,1155.1 L561.5,1152.3 L561.8,1149.3 L562.1,1146.1 L562.4,1142.5 L562.8,1138.7 L563.3,1134.8 L563.7,1130.8 L564.2,1126.8 L564.6,1123.0 L565.1,1119.3 L565.5,1115.9 L565.8,1112.9 L566.1,1110.3 L566.3,1108.3 Z" fill="#a9bd62"/>
<path d="M562.3,1107.9 L562.1,1109.9 L561.7,1112.5 L561.3,1115.5 L560.9,1118.9 L560.4,1122.5 L559.9,1126.4 L559.4,1130.4 L558.8,1134.4 L558.4,1138.3 L557.9,1142.1 L557.5,1145.7 L557.2,1148.9 L556.8,1151.9 L556.5,1154.7 L556.2,1157.3 L555.9,1159.9 L555.6,1162.4 L555.3,1164.9 L555.1,1167.4 L555.0,1170.0 L554.8,1172.6 L554.8,1175.3 L554.9,1178.1 L555.0,1181.1 L555.3,1184.2 L555.7,1187.5 L556.3,1190.8 L557.0,1194.2 L557.7,1197.7 L558.5,1201.2 L559.2,1204.7 L559.9,1208.2 L560.6,1211.7 L561.1,1215.2 L561.6,1218.7 L561.8,1222.1 L562.0,1225.5 L562.1,1229.0 L562.2,1232.5 L562.1,1236.0 L562.1,1239.6 L561.9,1243.1 L561.7,1246.5 L561.5,1250.0 L561.1,1253.3 L560.7,1256.6 L560.2,1259.7 L559.7,1262.7 L559.1,1265.7 L558.4,1268.5 L557.6,1271.3 L556.8,1274.0 L556.0,1276.6 L555.0,1279.2 L554.0,1281.7 L552.9,1284.1 L551.7,1286.5 L550.5,1288.8 L549.2,1291.0 L547.8,1293.2 L546.3,1295.3 L544.7,1297.4 L542.9,1299.4 L541.1,1301.4 L539.1,1303.3 L537.1,1305.2 L535.1,1306.9 L533.0,1308.7 L531.0,1310.3 L529.0,1311.9 L527.0,1313.4 L525.1,1314.8 L523.3,1316.1 L521.5,1317.4 L519.8,1318.5 L518.1,1319.6 L516.5,1320.6 L514.8,1321.6 L513.1,1322.4 L511.4,1323.2 L509.6,1323.9 L507.8,1324.5 L505.8,1325.0 L503.7,1325.4 L501.5,1325.7 L499.2,1325.9 L496.7,1325.9 L494.2,1325.7 L491.5,1325.6 L488.8,1325.3 L486.0,1325.0 L483.2,1324.8 L480.4,1324.5 L477.5,1324.3 L474.7,1324.3 L471.9,1324.3 L469.3,1324.4 L466.6,1324.6 L464.0,1324.8 L461.5,1325.0 L458.9,1325.3 L456.3,1325.6 L453.7,1325.9 L451.0,1326.3 L448.3,1326.7 L445.5,1327.2 L442.6,1327.7 L439.7,1328.3 L436.6,1328.8 L433.5,1329.4 L430.2,1329.9 L426.9,1330.5 L423.4,1331.2 L420.0,1331.9 L416.5,1332.7 L413.0,1333.5 L409.5,1334.5 L406.0,1335.6 L402.6,1336.9 L399.2,1338.3 L395.8,1339.9 L392.2,1341.9 L388.4,1344.1 L384.7,1346.5 L381.0,1349.0 L377.4,1351.5 L373.9,1354.0 L370.6,1356.4 L367.6,1358.5 L364.9,1360.5 L362.7,1362.1 L360.9,1363.3 L363.1,1366.7 L365.0,1365.4 L367.3,1363.7 L370.0,1361.8 L373.0,1359.6 L376.2,1357.2 L379.6,1354.7 L383.2,1352.2 L386.8,1349.8 L390.5,1347.4 L394.1,1345.2 L397.5,1343.3 L400.8,1341.7 L404.0,1340.4 L407.3,1339.2 L410.6,1338.1 L414.0,1337.1 L417.4,1336.3 L420.8,1335.5 L424.2,1334.8 L427.5,1334.1 L430.8,1333.5 L434.1,1332.9 L437.3,1332.3 L440.3,1331.7 L443.3,1331.2 L446.1,1330.7 L448.8,1330.2 L451.5,1329.8 L454.1,1329.4 L456.7,1329.0 L459.3,1328.7 L461.8,1328.4 L464.3,1328.2 L466.9,1328.0 L469.5,1327.8 L472.1,1327.7 L474.7,1327.6 L477.4,1327.7 L480.1,1327.8 L482.9,1328.1 L485.7,1328.3 L488.5,1328.6 L491.2,1328.8 L494.0,1329.0 L496.7,1329.1 L499.3,1329.1 L501.8,1328.9 L504.3,1328.6 L506.5,1328.1 L508.7,1327.5 L510.7,1326.8 L512.6,1326.1 L514.5,1325.2 L516.3,1324.3 L518.1,1323.3 L519.8,1322.2 L521.5,1321.1 L523.3,1319.9 L525.1,1318.6 L526.9,1317.2 L528.8,1315.8 L530.8,1314.3 L532.9,1312.7 L535.0,1311.0 L537.0,1309.2 L539.1,1307.3 L541.2,1305.4 L543.2,1303.4 L545.1,1301.4 L546.9,1299.2 L548.6,1297.0 L550.2,1294.8 L551.6,1292.5 L553.0,1290.2 L554.3,1287.8 L555.5,1285.3 L556.6,1282.8 L557.6,1280.2 L558.6,1277.5 L559.5,1274.8 L560.3,1272.0 L561.0,1269.2 L561.7,1266.3 L562.3,1263.3 L562.9,1260.1 L563.3,1256.9 L563.7,1253.6 L564.0,1250.2 L564.3,1246.7 L564.4,1243.2 L564.5,1239.6 L564.6,1236.0 L564.6,1232.5 L564.5,1228.9 L564.4,1225.4 L564.2,1221.9 L563.8,1218.4 L563.4,1214.9 L562.8,1211.3 L562.1,1207.8 L561.3,1204.2 L560.5,1200.7 L559.8,1197.2 L559.0,1193.8 L558.3,1190.4 L557.8,1187.2 L557.3,1184.0 L557.0,1180.9 L556.8,1178.0 L556.7,1175.2 L556.7,1172.6 L556.8,1170.0 L557.0,1167.6 L557.2,1165.1 L557.4,1162.6 L557.7,1160.1 L558.0,1157.5 L558.3,1154.8 L558.6,1152.0 L558.8,1149.1 L559.2,1145.9 L559.5,1142.3 L560.0,1138.5 L560.4,1134.6 L560.9,1130.6 L561.4,1126.6 L561.9,1122.7 L562.3,1119.1 L562.7,1115.7 L563.1,1112.7 L563.4,1110.1 L563.7,1108.1 Z" fill="#f2f5a6"/>
<path d="M607.7,1145.6 L607.3,1146.9 L606.8,1148.5 L606.1,1150.5 L605.4,1152.6 L604.6,1155.0 L603.8,1157.5 L603.0,1160.1 L602.2,1162.7 L601.5,1165.3 L600.9,1167.9 L600.3,1170.4 L600.0,1172.8 L599.7,1175.0 L599.5,1177.1 L599.4,1179.2 L599.3,1181.3 L599.3,1183.4 L599.3,1185.5 L599.4,1187.6 L599.6,1189.8 L599.9,1192.0 L600.3,1194.2 L600.9,1196.5 L601.5,1198.8 L602.3,1201.3 L603.2,1203.8 L604.3,1206.3 L605.5,1208.9 L606.8,1211.5 L608.2,1214.1 L609.5,1216.7 L610.9,1219.2 L612.3,1221.7 L613.6,1224.1 L614.8,1226.4 L616.0,1228.6 L617.1,1230.8 L618.1,1232.8 L619.1,1234.8 L620.1,1236.7 L621.1,1238.5 L622.1,1240.3 L623.0,1242.2 L624.0,1244.0 L625.1,1245.9 L626.2,1247.9 L627.3,1249.9 L628.5,1252.1 L629.9,1254.4 L631.4,1256.9 L633.0,1259.4 L634.6,1262.0 L636.3,1264.5 L638.0,1267.1 L639.6,1269.7 L641.1,1272.2 L642.5,1274.6 L643.7,1276.8 L644.7,1278.9 L645.5,1280.8 L646.0,1282.5 L646.4,1284.3 L646.7,1286.1 L646.9,1287.9 L646.9,1289.6 L646.9,1291.4 L646.9,1293.1 L646.8,1294.7 L646.7,1296.2 L646.6,1297.7 L646.6,1299.1 L646.6,1300.2 L657.4,1299.8 L657.3,1298.9 L657.3,1297.9 L657.3,1296.6 L657.3,1295.0 L657.4,1293.2 L657.3,1291.2 L657.2,1289.1 L657.0,1286.9 L656.7,1284.5 L656.2,1282.1 L655.5,1279.7 L654.5,1277.2 L653.4,1274.8 L652.1,1272.3 L650.6,1269.8 L648.9,1267.2 L647.2,1264.7 L645.4,1262.1 L643.6,1259.6 L641.8,1257.1 L640.1,1254.6 L638.4,1252.3 L636.9,1250.0 L635.5,1247.9 L634.2,1245.9 L633.0,1243.9 L631.8,1242.0 L630.7,1240.2 L629.6,1238.4 L628.6,1236.7 L627.5,1234.9 L626.5,1233.1 L625.4,1231.3 L624.3,1229.4 L623.2,1227.5 L622.0,1225.4 L620.7,1223.1 L619.3,1220.8 L617.9,1218.5 L616.4,1216.0 L614.9,1213.6 L613.5,1211.2 L612.0,1208.7 L610.7,1206.3 L609.4,1203.9 L608.3,1201.6 L607.3,1199.3 L606.5,1197.2 L605.8,1195.1 L605.3,1193.1 L604.8,1191.1 L604.4,1189.1 L604.1,1187.2 L603.9,1185.2 L603.8,1183.3 L603.7,1181.3 L603.7,1179.4 L603.8,1177.4 L603.9,1175.3 L604.0,1173.2 L604.2,1171.0 L604.6,1168.7 L605.1,1166.2 L605.7,1163.6 L606.3,1161.0 L607.0,1158.4 L607.6,1155.9 L608.3,1153.5 L608.9,1151.3 L609.5,1149.4 L610.0,1147.7 L610.3,1146.4 Z" fill="#7f9ff0"/>
<path d="M607.7,1145.9 L607.3,1147.2 L606.8,1148.9 L606.2,1150.8 L605.5,1153.0 L604.7,1155.3 L603.9,1157.8 L603.2,1160.4 L602.4,1163.0 L601.8,1165.6 L601.2,1168.2 L600.7,1170.6 L600.4,1172.9 L600.2,1175.1 L600.0,1177.2 L599.9,1179.3 L599.8,1181.3 L599.8,1183.4 L599.9,1185.4 L600.1,1187.5 L600.3,1189.5 L600.6,1191.7 L601.0,1193.8 L601.6,1196.0 L602.2,1198.3 L603.0,1200.6 L604.0,1203.0 L605.1,1205.5 L606.3,1208.0 L607.6,1210.6 L609.0,1213.1 L610.4,1215.6 L611.8,1218.1 L613.2,1220.6 L614.5,1223.0 L615.8,1225.3 L617.0,1227.5 L618.1,1229.7 L619.2,1231.7 L620.3,1233.6 L621.3,1235.5 L622.3,1237.3 L623.3,1239.1 L624.3,1240.9 L625.3,1242.8 L626.4,1244.6 L627.5,1246.6 L628.6,1248.6 L629.8,1250.7 L631.1,1253.0 L632.6,1255.5 L634.1,1258.2 L635.7,1261.0 L637.4,1263.9 L639.0,1266.7 L640.6,1269.5 L642.1,1272.1 L643.4,1274.5 L644.7,1276.6 L645.7,1278.4 L646.5,1279.9 L649.5,1278.1 L648.6,1276.7 L647.5,1274.9 L646.3,1272.8 L644.8,1270.4 L643.3,1267.9 L641.6,1265.2 L640.0,1262.4 L638.3,1259.5 L636.6,1256.8 L635.0,1254.1 L633.5,1251.6 L632.2,1249.3 L631.0,1247.2 L629.8,1245.2 L628.7,1243.3 L627.6,1241.5 L626.5,1239.7 L625.5,1237.9 L624.4,1236.1 L623.4,1234.3 L622.3,1232.5 L621.3,1230.5 L620.2,1228.6 L619.0,1226.5 L617.7,1224.2 L616.4,1221.9 L615.0,1219.5 L613.6,1217.1 L612.1,1214.6 L610.7,1212.1 L609.3,1209.7 L607.9,1207.2 L606.7,1204.7 L605.6,1202.3 L604.6,1200.0 L603.8,1197.7 L603.1,1195.6 L602.6,1193.4 L602.1,1191.4 L601.8,1189.3 L601.5,1187.3 L601.3,1185.3 L601.2,1183.3 L601.2,1181.3 L601.2,1179.3 L601.3,1177.3 L601.4,1175.2 L601.6,1173.1 L601.9,1170.8 L602.3,1168.4 L602.8,1165.9 L603.4,1163.3 L604.1,1160.7 L604.8,1158.1 L605.5,1155.6 L606.2,1153.2 L606.9,1151.0 L607.5,1149.1 L608.0,1147.4 L608.3,1146.1 Z" fill="#b6c6f6"/>
<path d="M727.0,1144.4 L727.1,1146.1 L727.3,1148.1 L727.6,1150.5 L727.9,1153.1 L728.2,1156.0 L728.5,1159.0 L728.8,1162.1 L729.0,1165.3 L729.2,1168.4 L729.4,1171.4 L729.4,1174.2 L729.3,1176.9 L729.2,1179.5 L729.0,1182.1 L728.7,1184.7 L728.5,1187.2 L728.1,1189.8 L727.7,1192.3 L727.3,1194.8 L726.8,1197.3 L726.2,1199.8 L725.5,1202.3 L724.8,1204.8 L723.9,1207.4 L723.0,1210.0 L722.0,1212.7 L721.0,1215.4 L719.9,1218.0 L718.8,1220.7 L717.5,1223.3 L716.2,1225.9 L714.8,1228.5 L713.3,1231.0 L711.7,1233.5 L710.0,1235.9 L708.2,1238.3 L706.3,1240.6 L704.0,1242.9 L701.6,1245.3 L699.0,1247.7 L696.2,1250.0 L693.4,1252.4 L690.5,1254.7 L687.6,1257.0 L684.7,1259.3 L681.8,1261.5 L679.1,1263.7 L676.6,1265.8 L674.3,1267.6 L672.1,1269.3 L669.8,1270.9 L667.5,1272.4 L665.1,1274.0 L662.8,1275.5 L660.5,1277.1 L658.3,1278.7 L656.1,1280.5 L653.9,1282.4 L651.9,1284.5 L650.1,1286.8 L648.5,1289.1 L647.2,1291.4 L646.1,1293.8 L645.2,1296.2 L644.5,1298.6 L643.9,1300.9 L643.5,1303.2 L643.2,1305.5 L642.9,1307.8 L642.7,1310.1 L642.5,1312.3 L642.4,1314.6 L642.2,1317.1 L642.1,1319.7 L642.1,1322.5 L642.1,1325.3 L642.2,1328.2 L642.4,1331.1 L642.6,1334.0 L642.9,1336.9 L643.4,1339.7 L643.9,1342.5 L644.6,1345.2 L645.5,1347.9 L646.5,1350.3 L647.6,1352.6 L649.1,1354.6 L650.7,1356.5 L652.4,1358.3 L654.1,1359.8 L655.9,1361.3 L657.7,1362.6 L659.5,1363.8 L661.3,1364.9 L663.2,1365.9 L665.1,1366.9 L667.3,1367.8 L669.6,1368.5 L672.0,1369.1 L674.4,1369.5 L676.8,1369.8 L679.1,1370.0 L681.3,1370.2 L683.4,1370.3 L685.3,1370.4 L687.0,1370.4 L688.3,1370.5 L689.4,1370.6 L690.6,1365.4 L689.5,1365.0 L688.1,1364.5 L686.5,1364.0 L684.7,1363.4 L682.7,1362.8 L680.8,1362.1 L678.8,1361.4 L676.8,1360.6 L675.0,1359.8 L673.4,1358.9 L672.0,1358.0 L670.9,1357.1 L669.8,1356.1 L668.6,1355.0 L667.4,1353.8 L666.4,1352.7 L665.4,1351.4 L664.5,1350.2 L663.7,1348.9 L663.0,1347.5 L662.3,1346.2 L661.8,1344.8 L661.1,1343.5 L660.5,1342.1 L660.0,1340.6 L659.5,1338.8 L659.0,1336.8 L658.6,1334.6 L658.3,1332.2 L658.0,1329.8 L657.8,1327.3 L657.6,1324.8 L657.6,1322.3 L657.5,1319.9 L657.5,1317.6 L657.6,1315.4 L657.7,1313.2 L657.8,1311.1 L657.9,1309.1 L658.1,1307.3 L658.3,1305.5 L658.6,1303.8 L658.9,1302.3 L659.3,1300.8 L659.8,1299.4 L660.4,1298.0 L661.1,1296.6 L661.9,1295.2 L662.9,1294.0 L664.0,1292.7 L665.4,1291.4 L667.1,1290.0 L668.9,1288.6 L670.9,1287.1 L673.1,1285.6 L675.4,1283.9 L677.8,1282.2 L680.3,1280.4 L682.9,1278.4 L685.4,1276.2 L687.8,1274.1 L690.4,1271.9 L693.1,1269.6 L695.9,1267.3 L698.8,1264.8 L701.7,1262.2 L704.7,1259.6 L707.5,1256.9 L710.3,1254.2 L713.0,1251.4 L715.5,1248.6 L717.8,1245.7 L719.8,1242.8 L721.7,1239.9 L723.4,1237.0 L725.0,1234.0 L726.5,1231.0 L727.8,1228.0 L729.1,1225.1 L730.2,1222.1 L731.3,1219.2 L732.3,1216.3 L733.2,1213.4 L734.1,1210.6 L734.9,1207.8 L735.6,1204.9 L736.2,1202.1 L736.8,1199.3 L737.2,1196.5 L737.6,1193.7 L738.0,1191.0 L738.2,1188.2 L738.4,1185.4 L738.5,1182.7 L738.6,1179.9 L738.7,1177.1 L738.7,1174.1 L738.5,1171.0 L738.2,1167.7 L737.9,1164.5 L737.5,1161.2 L737.1,1158.0 L736.7,1154.9 L736.3,1152.0 L735.9,1149.4 L735.5,1147.1 L735.2,1145.1 L735.0,1143.6 Z" fill="#5a7fe6" stroke="#a47f9a" stroke-width="0" stroke-linejoin="round"/>
<path d="M728.0,1150.1 L728.2,1151.4 L728.4,1153.0 L728.7,1154.9 L729.0,1157.0 L729.3,1159.3 L729.7,1161.7 L730.0,1164.2 L730.3,1166.8 L730.5,1169.4 L730.7,1172.0 L730.8,1174.5 L730.7,1177.0 L730.6,1179.4 L730.4,1181.9 L730.2,1184.5 L729.9,1187.1 L729.6,1189.8 L729.3,1192.4 L728.8,1195.1 L728.3,1197.8 L727.7,1200.5 L727.0,1203.2 L726.3,1205.8 L725.5,1208.5 L724.5,1211.2 L723.6,1213.9 L722.5,1216.7 L721.5,1219.4 L720.3,1222.2 L719.0,1224.9 L717.7,1227.7 L716.3,1230.4 L714.7,1233.0 L713.1,1235.7 L711.3,1238.3 L709.4,1240.8 L707.3,1243.3 L705.0,1245.7 L702.5,1248.2 L699.8,1250.7 L697.0,1253.2 L694.1,1255.6 L691.2,1258.0 L688.3,1260.4 L685.4,1262.7 L682.6,1264.9 L679.9,1267.1 L677.4,1269.1 L675.1,1271.0 L672.7,1272.8 L670.3,1274.5 L668.0,1276.1 L665.7,1277.6 L663.4,1279.2 L661.2,1280.7 L659.0,1282.3 L657.0,1283.9 L655.1,1285.6 L653.3,1287.4 L651.8,1289.4 L650.4,1291.4 L649.3,1293.5 L648.3,1295.5 L647.5,1297.6 L646.9,1299.7 L646.4,1301.8 L646.0,1303.9 L645.7,1306.1 L645.5,1308.2 L645.3,1310.4 L645.1,1312.6 L645.0,1314.8 L644.9,1317.2 L644.8,1319.8 L644.7,1322.4 L644.8,1325.2 L644.9,1328.0 L645.0,1330.8 L645.3,1333.5 L645.6,1336.3 L646.0,1338.9 L646.5,1341.5 L647.1,1343.9 L647.9,1346.2 L648.8,1348.3 L649.8,1350.3 L651.0,1352.1 L652.3,1353.7 L653.7,1355.2 L655.2,1356.6 L656.7,1357.9 L658.3,1359.1 L659.8,1360.2 L661.5,1361.3 L663.1,1362.2 L664.8,1363.2 L666.6,1364.0 L668.7,1364.8 L670.9,1365.4 L673.1,1366.0 L675.3,1366.4 L677.5,1366.8 L679.7,1367.1 L681.7,1367.4 L683.6,1367.7 L685.2,1367.9 L686.6,1368.1 L687.7,1368.3 L688.3,1365.7 L687.2,1365.4 L685.8,1365.0 L684.2,1364.6 L682.3,1364.2 L680.4,1363.7 L678.3,1363.2 L676.2,1362.6 L674.2,1362.0 L672.2,1361.3 L670.3,1360.5 L668.7,1359.7 L667.2,1358.8 L665.8,1357.9 L664.5,1356.9 L663.1,1355.8 L661.8,1354.7 L660.6,1353.6 L659.4,1352.4 L658.4,1351.1 L657.4,1349.8 L656.5,1348.4 L655.6,1346.9 L654.8,1345.4 L654.1,1343.8 L653.5,1342.0 L652.9,1340.0 L652.4,1337.7 L652.0,1335.3 L651.6,1332.8 L651.4,1330.2 L651.2,1327.6 L651.0,1325.0 L650.9,1322.4 L650.9,1319.9 L650.9,1317.4 L651.0,1315.2 L651.1,1313.0 L651.2,1310.8 L651.4,1308.7 L651.5,1306.7 L651.8,1304.8 L652.1,1302.9 L652.5,1301.1 L653.0,1299.4 L653.6,1297.6 L654.3,1295.9 L655.2,1294.3 L656.2,1292.6 L657.5,1291.0 L658.9,1289.5 L660.5,1288.0 L662.3,1286.5 L664.3,1285.0 L666.4,1283.5 L668.6,1281.9 L670.9,1280.3 L673.3,1278.6 L675.7,1276.8 L678.1,1274.9 L680.6,1272.9 L683.0,1270.8 L685.6,1268.6 L688.4,1266.3 L691.2,1263.9 L694.1,1261.5 L697.0,1259.0 L699.9,1256.5 L702.7,1253.9 L705.4,1251.2 L708.0,1248.6 L710.4,1245.9 L712.6,1243.2 L714.5,1240.5 L716.3,1237.8 L718.0,1235.0 L719.6,1232.1 L721.0,1229.3 L722.3,1226.4 L723.6,1223.6 L724.7,1220.7 L725.8,1217.9 L726.7,1215.0 L727.7,1212.3 L728.5,1209.5 L729.4,1206.7 L730.1,1203.9 L730.7,1201.1 L731.3,1198.4 L731.7,1195.6 L732.1,1192.8 L732.5,1190.1 L732.7,1187.4 L732.9,1184.7 L733.1,1182.1 L733.2,1179.6 L733.3,1177.0 L733.3,1174.5 L733.2,1171.8 L732.9,1169.2 L732.7,1166.5 L732.3,1163.9 L731.9,1161.3 L731.5,1158.9 L731.1,1156.6 L730.8,1154.6 L730.4,1152.7 L730.2,1151.1 L730.0,1149.9 Z" fill="#8ea8f2"/>
<path d="M836.0,1151.8 L835.6,1153.5 L835.1,1155.8 L834.6,1158.4 L834.0,1161.3 L833.4,1164.5 L832.7,1167.8 L831.8,1171.3 L830.9,1174.7 L829.8,1178.0 L828.5,1181.3 L827.0,1184.3 L825.4,1187.0 L823.5,1189.5 L821.3,1192.1 L818.9,1194.6 L816.4,1197.2 L813.6,1199.6 L810.8,1202.1 L807.8,1204.5 L804.7,1206.8 L801.6,1209.1 L798.5,1211.3 L795.4,1213.4 L792.3,1215.5 L789.2,1217.5 L786.1,1219.3 L782.9,1221.1 L779.6,1222.9 L776.3,1224.6 L772.9,1226.2 L769.5,1227.8 L766.1,1229.3 L762.6,1230.8 L759.2,1232.3 L755.7,1233.8 L752.3,1235.2 L748.9,1236.6 L745.5,1238.0 L742.0,1239.2 L738.5,1240.5 L734.9,1241.7 L731.4,1242.9 L727.9,1244.1 L724.4,1245.3 L720.9,1246.5 L717.5,1247.7 L714.2,1248.9 L710.9,1250.2 L707.7,1251.6 L704.5,1253.0 L701.2,1254.5 L698.0,1256.0 L694.9,1257.5 L691.8,1258.9 L688.9,1260.3 L686.2,1261.7 L683.8,1262.9 L681.6,1264.0 L679.8,1264.9 L678.2,1265.6 L683.8,1276.4 L685.3,1275.6 L687.1,1274.6 L689.3,1273.4 L691.7,1272.0 L694.3,1270.6 L697.1,1269.1 L700.0,1267.5 L703.0,1265.9 L706.0,1264.3 L709.1,1262.7 L712.1,1261.2 L715.1,1259.8 L718.1,1258.4 L721.2,1257.1 L724.4,1255.7 L727.7,1254.4 L731.1,1253.1 L734.6,1251.7 L738.1,1250.3 L741.7,1248.9 L745.2,1247.5 L748.7,1245.9 L752.3,1244.4 L755.7,1242.8 L759.1,1241.1 L762.5,1239.5 L765.9,1237.8 L769.3,1236.1 L772.7,1234.4 L776.1,1232.6 L779.5,1230.7 L782.9,1228.8 L786.2,1226.9 L789.4,1224.8 L792.6,1222.7 L795.7,1220.5 L798.8,1218.2 L801.9,1215.9 L804.9,1213.5 L808.0,1211.0 L811.0,1208.4 L814.0,1205.8 L816.8,1203.1 L819.6,1200.4 L822.1,1197.6 L824.5,1194.8 L826.7,1191.9 L828.6,1189.0 L830.3,1185.9 L831.7,1182.6 L832.9,1179.1 L833.9,1175.5 L834.8,1171.9 L835.4,1168.4 L836.0,1165.0 L836.5,1161.8 L836.9,1158.8 L837.3,1156.2 L837.6,1154.0 L838.0,1152.2 Z" fill="#7595ec"/>
<path d="M835.8,1155.9 L835.4,1157.5 L834.9,1159.5 L834.5,1161.8 L834.0,1164.4 L833.4,1167.2 L832.7,1170.2 L832.0,1173.2 L831.0,1176.3 L830.0,1179.4 L828.7,1182.3 L827.3,1185.1 L825.6,1187.7 L823.7,1190.2 L821.5,1192.6 L819.1,1195.0 L816.5,1197.5 L813.8,1199.9 L810.9,1202.2 L808.0,1204.5 L804.9,1206.8 L801.8,1209.0 L798.7,1211.2 L795.6,1213.2 L792.5,1215.2 L789.4,1217.2 L786.3,1219.0 L783.0,1220.8 L779.7,1222.5 L776.4,1224.1 L773.0,1225.7 L769.6,1227.3 L766.2,1228.9 L762.7,1230.4 L759.3,1231.8 L755.9,1233.3 L752.5,1234.8 L749.1,1236.2 L745.6,1237.6 L742.0,1239.0 L738.5,1240.3 L734.9,1241.6 L731.3,1242.9 L727.8,1244.1 L724.3,1245.4 L720.9,1246.6 L717.6,1247.9 L714.4,1249.2 L711.3,1250.4 L708.3,1251.7 L705.3,1253.1 L702.2,1254.5 L699.3,1256.0 L696.4,1257.4 L693.6,1258.8 L690.9,1260.2 L688.5,1261.4 L686.2,1262.6 L684.2,1263.6 L682.5,1264.5 L681.1,1265.2 L682.9,1268.8 L684.3,1268.1 L686.1,1267.1 L688.1,1266.1 L690.3,1264.9 L692.7,1263.6 L695.3,1262.2 L698.0,1260.7 L700.9,1259.3 L703.8,1257.8 L706.8,1256.3 L709.7,1254.9 L712.7,1253.6 L715.7,1252.3 L718.8,1251.0 L722.1,1249.7 L725.4,1248.4 L728.9,1247.1 L732.4,1245.7 L735.9,1244.4 L739.5,1243.0 L743.1,1241.6 L746.6,1240.2 L750.1,1238.7 L753.5,1237.2 L756.9,1235.7 L760.3,1234.1 L763.7,1232.6 L767.2,1231.0 L770.6,1229.4 L774.0,1227.8 L777.4,1226.1 L780.7,1224.3 L784.0,1222.5 L787.2,1220.7 L790.4,1218.8 L793.5,1216.8 L796.6,1214.7 L799.6,1212.5 L802.7,1210.3 L805.8,1208.0 L808.9,1205.7 L811.8,1203.3 L814.7,1200.9 L817.4,1198.4 L820.0,1195.9 L822.3,1193.4 L824.5,1190.8 L826.4,1188.3 L828.1,1185.6 L829.5,1182.7 L830.7,1179.7 L831.8,1176.6 L832.7,1173.4 L833.4,1170.3 L834.0,1167.3 L834.5,1164.5 L835.0,1161.9 L835.4,1159.6 L835.8,1157.6 L836.2,1156.1 Z" fill="#a9bbf4"/>
<path d="M857.4,862.3 L857.9,863.7 L858.6,865.5 L859.5,867.5 L860.5,869.8 L861.6,872.3 L862.7,875.0 L863.7,877.8 L864.8,880.7 L865.7,883.6 L866.5,886.5 L867.2,889.4 L867.6,892.2 L867.9,895.1 L868.1,898.2 L868.1,901.4 L868.1,904.7 L867.9,908.1 L867.7,911.5 L867.5,914.9 L867.2,918.2 L866.8,921.4 L866.5,924.4 L866.1,927.2 L865.8,929.7 L865.4,932.0 L864.9,934.1 L864.4,936.1 L863.8,938.0 L863.2,939.8 L862.6,941.5 L861.9,943.1 L861.3,944.5 L860.8,945.8 L860.2,947.1 L859.8,948.2 L859.4,949.1 L864.6,950.9 L864.8,950.0 L865.2,949.0 L865.6,947.8 L866.1,946.4 L866.7,944.9 L867.3,943.2 L867.9,941.4 L868.5,939.4 L869.0,937.3 L869.5,935.1 L869.9,932.7 L870.2,930.3 L870.5,927.7 L870.7,924.8 L870.9,921.8 L871.1,918.5 L871.3,915.2 L871.4,911.7 L871.4,908.2 L871.4,904.7 L871.3,901.3 L871.1,898.0 L870.8,894.8 L870.4,891.8 L869.8,888.8 L868.9,885.9 L868.0,882.9 L866.9,879.9 L865.7,877.0 L864.5,874.2 L863.3,871.6 L862.1,869.1 L861.0,866.9 L860.0,864.9 L859.2,863.1 L858.6,861.7 Z" fill="#e2485a"/>
<path d="M852.3,989.9 L852.1,993.0 L851.9,996.9 L851.5,1001.5 L851.2,1006.7 L850.8,1012.3 L850.4,1018.3 L850.1,1024.5 L849.7,1030.8 L849.3,1037.1 L849.0,1043.3 L848.8,1049.3 L848.6,1054.9 L848.5,1060.4 L848.3,1066.1 L848.2,1071.8 L848.1,1077.6 L848.0,1083.4 L848.0,1089.1 L848.0,1094.7 L848.1,1100.3 L848.2,1105.7 L848.4,1110.8 L848.6,1115.7 L848.9,1120.4 L849.4,1124.8 L850.1,1128.9 L850.9,1132.7 L851.7,1136.3 L852.6,1139.6 L853.6,1142.8 L854.5,1145.9 L855.3,1148.8 L856.1,1151.7 L856.7,1154.5 L857.2,1157.4 L857.5,1160.4 L857.7,1163.5 L857.7,1166.5 L857.6,1169.4 L857.5,1172.3 L857.2,1175.3 L856.9,1178.3 L856.6,1181.5 L856.3,1184.7 L855.9,1188.2 L855.6,1191.8 L855.3,1195.7 L855.1,1199.8 L854.9,1204.2 L854.6,1208.8 L854.3,1213.8 L854.0,1219.0 L853.6,1224.3 L853.3,1229.8 L853.1,1235.3 L852.9,1240.7 L852.8,1246.0 L852.9,1251.1 L853.1,1256.0 L853.5,1260.6 L854.0,1264.9 L854.6,1269.0 L855.4,1272.9 L856.2,1276.7 L857.1,1280.4 L858.2,1283.9 L859.3,1287.4 L860.6,1290.7 L862.0,1293.9 L863.5,1297.1 L865.2,1300.2 L866.9,1303.2 L868.9,1306.2 L871.0,1309.1 L873.3,1311.9 L875.7,1314.5 L878.2,1317.1 L880.8,1319.5 L883.5,1321.8 L886.1,1323.9 L888.8,1326.0 L891.4,1327.9 L894.0,1329.7 L896.6,1331.5 L899.5,1333.1 L902.5,1334.7 L905.6,1336.1 L908.7,1337.3 L911.8,1338.4 L914.8,1339.4 L917.7,1340.3 L920.3,1341.1 L922.8,1341.8 L924.9,1342.4 L926.5,1342.9 L927.9,1343.4 L932.1,1330.6 L930.5,1330.1 L928.6,1329.5 L926.4,1328.9 L924.0,1328.3 L921.4,1327.6 L918.7,1326.8 L916.0,1326.0 L913.2,1325.0 L910.5,1324.0 L908.0,1323.0 L905.6,1321.8 L903.4,1320.5 L901.1,1319.1 L898.7,1317.5 L896.2,1315.8 L893.8,1314.0 L891.4,1312.1 L889.1,1310.2 L886.8,1308.1 L884.6,1306.0 L882.5,1303.8 L880.5,1301.5 L878.7,1299.2 L877.1,1296.8 L875.5,1294.3 L874.1,1291.6 L872.7,1289.0 L871.5,1286.2 L870.3,1283.3 L869.2,1280.3 L868.2,1277.2 L867.3,1274.0 L866.5,1270.6 L865.7,1267.0 L865.1,1263.3 L864.5,1259.4 L864.1,1255.2 L863.8,1250.7 L863.7,1245.9 L863.6,1240.8 L863.7,1235.6 L863.8,1230.2 L864.0,1224.8 L864.2,1219.5 L864.4,1214.3 L864.6,1209.3 L864.8,1204.6 L864.9,1200.2 L865.0,1196.2 L865.2,1192.5 L865.5,1189.0 L865.7,1185.6 L866.0,1182.4 L866.3,1179.2 L866.6,1176.0 L866.7,1172.9 L866.9,1169.7 L866.9,1166.4 L866.7,1163.1 L866.5,1159.6 L866.0,1156.1 L865.4,1152.7 L864.6,1149.5 L863.7,1146.4 L862.8,1143.3 L861.8,1140.3 L860.8,1137.2 L859.9,1134.1 L859.0,1130.8 L858.2,1127.3 L857.6,1123.6 L857.1,1119.6 L856.6,1115.2 L856.3,1110.4 L856.0,1105.4 L855.8,1100.1 L855.6,1094.6 L855.5,1089.0 L855.4,1083.3 L855.4,1077.6 L855.3,1071.9 L855.3,1066.2 L855.4,1060.5 L855.4,1055.1 L855.4,1049.5 L855.6,1043.5 L855.7,1037.4 L855.9,1031.1 L856.2,1024.8 L856.4,1018.6 L856.7,1012.6 L856.9,1007.0 L857.2,1001.8 L857.4,997.2 L857.6,993.3 L857.7,990.1 Z" fill="#e83a48"/>
<path d="M852.7,990.0 L852.5,993.1 L852.3,997.1 L852.0,1001.7 L851.7,1006.8 L851.3,1012.5 L851.0,1018.4 L850.6,1024.6 L850.3,1030.9 L850.0,1037.2 L849.7,1043.4 L849.5,1049.4 L849.4,1055.0 L849.3,1060.5 L849.2,1066.1 L849.1,1071.8 L849.0,1077.6 L849.0,1083.3 L849.0,1089.1 L849.0,1094.7 L849.1,1100.2 L849.2,1105.5 L849.5,1110.7 L849.7,1115.5 L850.1,1120.1 L850.6,1124.3 L851.2,1128.3 L852.0,1132.0 L852.9,1135.4 L853.8,1138.7 L854.7,1141.9 L855.6,1144.9 L856.5,1147.9 L857.3,1150.8 L858.0,1153.8 L858.5,1156.9 L858.9,1160.1 L859.1,1163.3 L859.2,1166.4 L859.1,1169.5 L859.0,1172.5 L858.7,1175.6 L858.5,1178.6 L858.1,1181.8 L857.8,1185.1 L857.5,1188.5 L857.2,1192.1 L856.9,1195.9 L856.7,1200.0 L856.5,1204.3 L856.3,1209.0 L856.0,1214.0 L855.7,1219.2 L855.4,1224.5 L855.2,1229.9 L854.9,1235.4 L854.8,1240.7 L854.8,1245.9 L854.8,1251.0 L855.1,1255.7 L855.5,1260.2 L856.0,1264.3 L856.6,1268.3 L857.4,1272.1 L858.2,1275.8 L859.1,1279.3 L860.1,1282.8 L861.3,1286.1 L862.5,1289.2 L863.8,1292.3 L865.3,1295.3 L866.9,1298.2 L868.6,1300.9 L870.4,1303.6 L872.5,1306.2 L874.7,1308.7 L877.0,1311.0 L879.4,1313.2 L881.9,1315.3 L884.5,1317.3 L887.1,1319.1 L889.6,1320.9 L892.2,1322.6 L894.6,1324.1 L897.0,1325.6 L899.5,1327.0 L902.2,1328.3 L904.9,1329.5 L907.7,1330.6 L910.5,1331.5 L913.2,1332.4 L915.8,1333.2 L918.2,1333.8 L920.4,1334.5 L922.4,1335.0 L924.1,1335.5 L925.4,1335.9 L926.6,1332.1 L925.2,1331.6 L923.5,1331.1 L921.5,1330.6 L919.3,1330.0 L916.9,1329.3 L914.3,1328.6 L911.7,1327.8 L909.0,1326.9 L906.4,1325.9 L903.8,1324.8 L901.3,1323.7 L899.0,1322.4 L896.6,1320.9 L894.2,1319.4 L891.7,1317.8 L889.2,1316.1 L886.7,1314.3 L884.2,1312.5 L881.8,1310.5 L879.4,1308.4 L877.2,1306.2 L875.1,1303.9 L873.2,1301.6 L871.4,1299.1 L869.8,1296.4 L868.3,1293.7 L866.9,1290.9 L865.6,1287.9 L864.4,1284.9 L863.2,1281.7 L862.2,1278.4 L861.3,1275.0 L860.5,1271.5 L859.7,1267.7 L859.1,1263.9 L858.5,1259.8 L858.1,1255.5 L857.8,1250.9 L857.7,1245.9 L857.7,1240.8 L857.8,1235.4 L858.0,1230.1 L858.2,1224.7 L858.4,1219.3 L858.7,1214.1 L858.9,1209.1 L859.1,1204.4 L859.3,1200.0 L859.4,1196.0 L859.6,1192.3 L859.9,1188.7 L860.2,1185.3 L860.5,1182.0 L860.8,1178.9 L861.1,1175.7 L861.3,1172.7 L861.4,1169.6 L861.4,1166.4 L861.3,1163.2 L861.1,1159.9 L860.7,1156.6 L860.1,1153.4 L859.4,1150.3 L858.5,1147.3 L857.6,1144.3 L856.7,1141.3 L855.7,1138.2 L854.8,1134.9 L853.9,1131.5 L853.1,1127.9 L852.4,1124.1 L851.9,1119.9 L851.5,1115.4 L851.2,1110.6 L850.9,1105.5 L850.8,1100.2 L850.6,1094.7 L850.5,1089.1 L850.5,1083.3 L850.5,1077.6 L850.5,1071.8 L850.5,1066.1 L850.6,1060.5 L850.6,1055.0 L850.7,1049.4 L850.9,1043.4 L851.1,1037.2 L851.3,1030.9 L851.6,1024.6 L851.9,1018.5 L852.2,1012.5 L852.5,1006.9 L852.8,1001.7 L853.0,997.1 L853.2,993.2 L853.3,990.0 Z" fill="#f58a86"/>
<path d="M957.0,1161.7 L956.5,1163.4 L956.0,1165.5 L955.4,1168.0 L954.8,1170.8 L954.1,1173.8 L953.3,1176.9 L952.4,1180.1 L951.4,1183.4 L950.3,1186.5 L949.0,1189.6 L947.7,1192.4 L946.2,1194.9 L944.5,1197.3 L942.6,1199.6 L940.6,1201.9 L938.4,1204.2 L936.0,1206.4 L933.6,1208.6 L931.1,1210.8 L928.5,1212.9 L925.8,1215.1 L923.2,1217.2 L920.5,1219.3 L917.8,1221.3 L915.2,1223.3 L912.4,1225.2 L909.4,1227.0 L906.3,1228.9 L903.1,1230.7 L899.9,1232.5 L896.7,1234.4 L893.6,1236.4 L890.6,1238.4 L887.8,1240.5 L885.1,1242.7 L882.8,1245.1 L880.7,1247.5 L878.9,1249.8 L877.2,1252.3 L875.7,1254.8 L874.3,1257.3 L873.1,1259.9 L872.1,1262.5 L871.2,1265.1 L870.5,1267.7 L869.9,1270.4 L869.5,1273.0 L869.2,1275.7 L869.1,1278.4 L869.1,1281.3 L869.3,1284.1 L869.7,1287.0 L870.2,1289.8 L870.9,1292.7 L871.7,1295.5 L872.6,1298.3 L873.7,1301.0 L874.9,1303.7 L876.1,1306.3 L877.5,1308.8 L879.1,1311.2 L881.0,1313.6 L882.9,1316.0 L885.0,1318.2 L887.2,1320.4 L889.4,1322.4 L891.7,1324.4 L894.0,1326.3 L896.3,1328.1 L898.6,1329.8 L900.8,1331.4 L903.0,1332.8 L905.3,1334.3 L907.8,1335.6 L910.3,1336.7 L912.8,1337.8 L915.3,1338.7 L917.7,1339.5 L920.0,1340.3 L922.1,1340.9 L924.0,1341.5 L925.7,1342.0 L927.0,1342.4 L928.0,1342.8 L932.0,1331.2 L930.7,1330.8 L929.1,1330.4 L927.3,1329.9 L925.4,1329.4 L923.4,1328.8 L921.3,1328.2 L919.1,1327.6 L917.0,1326.8 L914.8,1326.0 L912.8,1325.1 L910.8,1324.2 L909.0,1323.2 L907.1,1321.9 L905.1,1320.6 L903.0,1319.1 L900.8,1317.5 L898.7,1315.9 L896.6,1314.2 L894.6,1312.4 L892.6,1310.6 L890.8,1308.8 L889.2,1306.9 L887.7,1305.1 L886.5,1303.2 L885.3,1301.3 L884.2,1299.2 L883.1,1297.0 L882.2,1294.7 L881.3,1292.4 L880.6,1290.1 L880.0,1287.7 L879.5,1285.3 L879.1,1283.0 L878.9,1280.7 L878.7,1278.5 L878.8,1276.3 L879.0,1274.2 L879.2,1272.0 L879.7,1269.8 L880.2,1267.7 L880.8,1265.5 L881.6,1263.4 L882.5,1261.3 L883.6,1259.2 L884.8,1257.1 L886.1,1255.0 L887.6,1252.9 L889.2,1250.9 L891.0,1249.0 L893.2,1247.1 L895.6,1245.2 L898.2,1243.3 L901.1,1241.4 L904.1,1239.5 L907.2,1237.5 L910.3,1235.4 L913.4,1233.3 L916.5,1231.2 L919.4,1228.9 L922.2,1226.7 L924.7,1224.4 L927.3,1222.1 L929.8,1219.8 L932.4,1217.4 L934.9,1215.1 L937.4,1212.6 L939.8,1210.2 L942.1,1207.7 L944.3,1205.1 L946.3,1202.5 L948.2,1199.8 L949.8,1197.1 L951.3,1194.2 L952.6,1191.0 L953.7,1187.7 L954.7,1184.3 L955.5,1180.9 L956.2,1177.6 L956.8,1174.4 L957.4,1171.3 L957.8,1168.5 L958.2,1166.0 L958.6,1163.9 L959.0,1162.3 Z" fill="#e83a48"/>
<path d="M955.8,1165.9 L955.4,1167.4 L954.9,1169.3 L954.4,1171.4 L953.8,1173.9 L953.2,1176.5 L952.5,1179.3 L951.6,1182.2 L950.7,1185.1 L949.7,1187.9 L948.5,1190.7 L947.1,1193.3 L945.6,1195.8 L944.0,1198.0 L942.1,1200.3 L940.0,1202.5 L937.9,1204.7 L935.5,1206.8 L933.1,1209.0 L930.6,1211.1 L928.1,1213.2 L925.4,1215.2 L922.8,1217.3 L920.2,1219.4 L917.6,1221.4 L914.9,1223.5 L912.0,1225.4 L909.0,1227.3 L905.9,1229.2 L902.7,1231.1 L899.6,1233.0 L896.4,1234.9 L893.4,1236.9 L890.5,1238.9 L887.9,1240.9 L885.4,1243.1 L883.2,1245.3 L881.3,1247.7 L879.6,1250.1 L878.1,1252.5 L876.7,1255.1 L875.4,1257.6 L874.3,1260.2 L873.4,1262.8 L872.6,1265.5 L871.9,1268.1 L871.4,1270.7 L871.0,1273.3 L870.8,1275.9 L870.7,1278.5 L870.7,1281.2 L870.9,1283.9 L871.3,1286.6 L871.8,1289.3 L872.4,1292.0 L873.2,1294.6 L874.1,1297.2 L875.1,1299.8 L876.2,1302.2 L877.5,1304.6 L878.8,1306.8 L880.4,1309.0 L882.3,1311.2 L884.4,1313.3 L886.7,1315.3 L889.1,1317.3 L891.6,1319.2 L894.0,1320.9 L896.3,1322.5 L898.4,1324.0 L900.3,1325.3 L901.8,1326.4 L903.0,1327.3 L905.0,1324.7 L903.8,1323.7 L902.2,1322.6 L900.2,1321.3 L898.1,1319.8 L895.8,1318.3 L893.4,1316.6 L891.0,1314.8 L888.7,1313.0 L886.5,1311.1 L884.4,1309.1 L882.7,1307.1 L881.2,1305.2 L880.0,1303.1 L878.8,1300.9 L877.7,1298.6 L876.7,1296.2 L875.8,1293.8 L875.1,1291.3 L874.4,1288.7 L873.9,1286.2 L873.5,1283.6 L873.3,1281.0 L873.2,1278.5 L873.2,1276.1 L873.4,1273.6 L873.8,1271.1 L874.2,1268.6 L874.8,1266.1 L875.6,1263.5 L876.4,1261.0 L877.4,1258.5 L878.6,1256.0 L879.9,1253.6 L881.4,1251.2 L883.0,1248.9 L884.8,1246.7 L886.8,1244.5 L889.1,1242.4 L891.6,1240.4 L894.4,1238.4 L897.4,1236.4 L900.4,1234.5 L903.6,1232.5 L906.7,1230.6 L909.8,1228.7 L912.8,1226.7 L915.7,1224.6 L918.4,1222.6 L921.0,1220.4 L923.6,1218.3 L926.2,1216.2 L928.8,1214.1 L931.4,1212.0 L933.9,1209.8 L936.3,1207.6 L938.6,1205.4 L940.8,1203.2 L942.8,1200.9 L944.7,1198.6 L946.4,1196.2 L947.9,1193.7 L949.2,1191.0 L950.3,1188.2 L951.4,1185.3 L952.3,1182.4 L953.0,1179.5 L953.7,1176.6 L954.3,1174.0 L954.9,1171.5 L955.3,1169.4 L955.8,1167.5 L956.2,1166.1 Z" fill="#f47d80"/>
<path d="M972.3,880.9 L972.2,882.3 L971.9,883.9 L971.7,885.8 L971.3,888.0 L971.0,890.4 L970.7,892.9 L970.3,895.5 L970.0,898.2 L969.7,901.0 L969.4,903.7 L969.1,906.4 L968.9,908.9 L968.8,911.5 L968.6,914.0 L968.4,916.6 L968.2,919.3 L968.0,921.9 L967.9,924.7 L967.8,927.4 L967.8,930.1 L967.8,932.9 L968.0,935.7 L968.2,938.4 L968.5,941.2 L969.0,944.0 L969.6,946.8 L970.3,949.6 L971.1,952.5 L972.0,955.3 L972.9,958.1 L973.8,960.9 L974.7,963.6 L975.7,966.4 L976.5,969.1 L977.4,971.8 L978.1,974.5 L978.9,977.2 L979.6,979.8 L980.4,982.3 L981.2,984.8 L982.0,987.2 L982.7,989.6 L983.4,992.1 L984.0,994.6 L984.6,997.3 L985.0,1000.0 L985.4,1003.0 L985.6,1006.1 L985.7,1009.5 L985.7,1013.0 L985.5,1016.6 L985.3,1020.3 L985.0,1024.2 L984.6,1028.2 L984.2,1032.3 L983.8,1036.6 L983.3,1041.0 L982.9,1045.5 L982.4,1050.1 L982.0,1054.8 L981.6,1059.7 L981.1,1064.9 L980.5,1070.4 L979.8,1076.1 L979.2,1081.9 L978.5,1087.7 L977.9,1093.6 L977.4,1099.3 L976.9,1104.9 L976.6,1110.3 L976.4,1115.4 L976.4,1120.1 L976.6,1124.5 L977.0,1128.6 L977.7,1132.4 L978.5,1136.0 L979.3,1139.3 L980.2,1142.4 L981.1,1145.4 L982.0,1148.4 L982.7,1151.2 L983.3,1154.1 L983.7,1157.1 L984.0,1160.2 L984.0,1163.6 L984.0,1167.2 L983.9,1170.9 L983.7,1174.6 L983.4,1178.3 L983.0,1182.1 L982.5,1185.8 L982.0,1189.5 L981.5,1193.1 L980.9,1196.6 L980.3,1199.9 L979.6,1203.0 L978.9,1205.8 L978.0,1208.4 L976.9,1210.9 L975.7,1213.4 L974.4,1215.9 L973.1,1218.4 L971.8,1220.9 L970.5,1223.6 L969.3,1226.3 L968.3,1229.3 L967.6,1232.4 L967.1,1235.7 L967.0,1239.0 L967.2,1242.3 L967.6,1245.6 L968.1,1249.0 L968.8,1252.3 L969.6,1255.6 L970.4,1258.8 L971.4,1262.0 L972.3,1265.1 L973.2,1268.0 L974.1,1270.9 L975.0,1273.7 L975.9,1276.5 L977.0,1279.3 L978.1,1282.0 L979.3,1284.6 L980.5,1287.1 L981.7,1289.5 L982.8,1291.8 L983.9,1293.9 L984.8,1296.0 L985.5,1297.9 L986.1,1299.6 L986.5,1301.3 L986.8,1303.0 L987.1,1304.7 L987.3,1306.3 L987.4,1307.7 L987.4,1309.0 L987.3,1310.2 L987.2,1311.4 L987.0,1312.5 L986.7,1313.5 L986.2,1314.6 L985.7,1315.7 L985.1,1316.7 L984.3,1317.7 L983.2,1318.8 L981.8,1320.0 L980.0,1321.3 L978.1,1322.7 L975.9,1324.0 L973.5,1325.2 L971.1,1326.5 L968.7,1327.8 L966.3,1329.2 L964.0,1330.9 L961.8,1332.7 L959.9,1334.8 L958.3,1336.8 L956.9,1338.9 L955.6,1340.9 L954.5,1342.9 L953.5,1344.8 L952.7,1346.6 L951.9,1348.3 L951.2,1349.7 L950.7,1350.8 L950.3,1351.5 L949.9,1352.0 L970.1,1360.0 L970.4,1358.8 L970.7,1357.3 L971.0,1355.9 L971.2,1354.4 L971.5,1352.9 L971.7,1351.4 L972.0,1349.9 L972.4,1348.4 L972.8,1347.0 L973.2,1345.6 L973.7,1344.3 L974.2,1343.3 L974.8,1342.1 L975.9,1340.8 L977.3,1339.3 L979.0,1337.7 L980.8,1336.0 L982.8,1334.2 L985.0,1332.6 L987.2,1331.0 L989.4,1329.3 L991.4,1327.4 L993.3,1325.4 L994.9,1323.3 L996.1,1321.2 L997.1,1319.2 L997.8,1317.1 L998.4,1315.1 L998.7,1313.1 L998.9,1311.0 L999.0,1309.0 L998.9,1307.0 L998.7,1305.0 L998.4,1302.9 L998.0,1300.9 L997.5,1298.7 L996.9,1296.3 L996.0,1293.9 L995.0,1291.5 L993.9,1289.2 L992.7,1286.8 L991.5,1284.5 L990.3,1282.2 L989.1,1279.8 L988.0,1277.5 L986.9,1275.1 L985.9,1272.8 L985.0,1270.3 L984.2,1267.7 L983.2,1264.8 L982.2,1261.9 L981.2,1258.9 L980.3,1255.9 L979.4,1252.9 L978.6,1250.0 L978.0,1247.0 L977.4,1244.2 L977.1,1241.4 L976.9,1238.8 L976.9,1236.3 L977.1,1234.1 L977.6,1231.9 L978.3,1229.7 L979.2,1227.4 L980.2,1225.1 L981.4,1222.6 L982.7,1220.1 L984.0,1217.4 L985.3,1214.6 L986.5,1211.6 L987.6,1208.4 L988.4,1205.0 L989.0,1201.6 L989.6,1198.1 L990.2,1194.4 L990.7,1190.7 L991.1,1186.8 L991.5,1182.9 L991.8,1179.0 L992.1,1175.1 L992.2,1171.1 L992.3,1167.3 L992.2,1163.5 L992.0,1159.8 L991.7,1156.1 L991.1,1152.7 L990.4,1149.4 L989.5,1146.2 L988.6,1143.2 L987.6,1140.2 L986.7,1137.2 L985.8,1134.1 L985.1,1130.9 L984.4,1127.5 L983.9,1123.9 L983.6,1119.9 L983.6,1115.4 L983.6,1110.6 L983.9,1105.3 L984.2,1099.9 L984.6,1094.2 L985.1,1088.4 L985.6,1082.5 L986.2,1076.7 L986.7,1071.0 L987.2,1065.5 L987.6,1060.2 L988.0,1055.2 L988.3,1050.5 L988.6,1046.0 L989.0,1041.5 L989.3,1037.1 L989.7,1032.8 L990.0,1028.7 L990.3,1024.6 L990.5,1020.6 L990.6,1016.8 L990.7,1013.0 L990.6,1009.4 L990.4,1005.9 L990.1,1002.5 L989.6,999.3 L989.1,996.4 L988.4,993.6 L987.7,990.9 L986.9,988.4 L986.1,985.9 L985.2,983.4 L984.4,981.0 L983.5,978.6 L982.7,976.1 L981.9,973.5 L981.0,970.7 L980.1,968.0 L979.1,965.2 L978.1,962.4 L977.1,959.7 L976.1,956.9 L975.2,954.2 L974.2,951.5 L973.4,948.8 L972.6,946.1 L972.0,943.4 L971.5,940.8 L971.1,938.1 L970.8,935.5 L970.6,932.8 L970.5,930.1 L970.4,927.4 L970.5,924.7 L970.5,922.0 L970.6,919.4 L970.7,916.8 L970.8,914.2 L971.0,911.6 L971.1,909.1 L971.2,906.5 L971.3,903.9 L971.6,901.2 L971.8,898.4 L972.1,895.7 L972.3,893.1 L972.6,890.6 L972.9,888.2 L973.1,886.0 L973.3,884.1 L973.5,882.4 L973.7,881.1 Z" fill="#aebf62"/>
<path d="M972.8,890.0 L972.6,890.8 L972.4,891.9 L972.2,893.1 L971.9,894.4 L971.6,895.9 L971.3,897.5 L970.9,899.2 L970.6,901.0 L970.3,902.9 L970.1,904.8 L969.9,906.9 L969.7,909.0 L969.6,911.2 L969.4,913.5 L969.2,916.0 L969.1,918.6 L968.9,921.3 L968.8,924.1 L968.8,926.9 L968.8,929.8 L968.8,932.6 L969.0,935.5 L969.2,938.3 L969.6,941.1 L970.0,943.8 L970.7,946.6 L971.4,949.3 L972.2,952.1 L973.1,954.9 L974.0,957.7 L975.0,960.4 L975.9,963.2 L976.9,966.0 L977.8,968.7 L978.6,971.5 L979.4,974.2 L980.2,976.8 L981.0,979.4 L981.8,981.9 L982.6,984.3 L983.4,986.8 L984.2,989.2 L984.9,991.7 L985.5,994.3 L986.1,997.0 L986.6,999.8 L987.0,1002.8 L987.2,1006.0 L987.4,1009.5 L987.4,1013.0 L987.3,1016.7 L987.1,1020.4 L986.8,1024.3 L986.4,1028.4 L986.1,1032.5 L985.7,1036.8 L985.2,1041.1 L984.8,1045.6 L984.4,1050.2 L984.0,1054.9 L983.6,1059.9 L983.1,1065.1 L982.6,1070.6 L982.0,1076.3 L981.4,1082.1 L980.8,1088.0 L980.2,1093.8 L979.7,1099.5 L979.3,1105.1 L979.0,1110.4 L978.8,1115.4 L978.7,1120.0 L978.8,1124.3 L979.1,1128.2 L979.6,1131.9 L980.2,1135.3 L980.9,1138.5 L981.6,1141.6 L982.3,1144.6 L983.0,1147.6 L983.6,1150.6 L984.0,1153.6 L984.4,1156.7 L984.6,1160.0 L984.6,1163.6 L984.5,1167.2 L984.4,1170.9 L984.2,1174.7 L983.9,1178.5 L983.6,1182.4 L983.2,1186.1 L982.8,1189.9 L982.3,1193.5 L981.7,1197.1 L981.1,1200.5 L980.4,1203.6 L979.7,1206.6 L978.7,1209.4 L977.6,1212.1 L976.4,1214.7 L975.1,1217.2 L973.8,1219.7 L972.5,1222.3 L971.3,1224.8 L970.2,1227.4 L969.3,1230.1 L968.7,1232.9 L968.3,1235.9 L968.2,1238.9 L968.4,1242.0 L968.8,1245.2 L969.3,1248.3 L970.0,1251.5 L970.8,1254.7 L971.7,1257.9 L972.6,1261.0 L973.5,1264.0 L974.5,1267.0 L975.4,1269.8 L976.3,1272.6 L977.2,1275.3 L978.2,1277.9 L979.4,1280.5 L980.6,1283.0 L981.8,1285.5 L983.0,1287.8 L984.1,1290.1 L985.2,1292.4 L986.1,1294.5 L987.0,1296.6 L987.6,1298.5 L988.1,1300.4 L988.5,1302.3 L988.8,1304.1 L989.0,1305.8 L989.2,1307.5 L989.2,1309.0 L989.2,1310.5 L989.0,1311.9 L988.8,1313.3 L988.4,1314.7 L987.8,1316.1 L987.2,1317.5 L986.3,1318.9 L985.3,1320.3 L983.9,1321.7 L982.3,1323.1 L980.3,1324.6 L978.3,1326.1 L975.9,1327.3 L973.6,1328.6 L971.2,1329.8 L968.9,1331.1 L966.7,1332.4 L964.7,1333.8 L962.9,1335.4 L961.4,1337.1 L960.1,1338.8 L959.0,1340.6 L958.1,1342.4 L957.2,1344.1 L956.6,1345.8 L956.0,1347.3 L955.5,1348.8 L955.1,1350.0 L954.7,1351.0 L954.5,1351.7 L954.2,1352.2 L965.8,1355.8 L966.0,1354.8 L966.2,1353.6 L966.3,1352.4 L966.4,1351.1 L966.5,1349.8 L966.7,1348.5 L966.9,1347.1 L967.1,1345.8 L967.5,1344.4 L967.9,1343.1 L968.4,1341.8 L969.1,1340.6 L970.0,1339.3 L971.2,1337.9 L972.8,1336.3 L974.6,1334.6 L976.5,1332.9 L978.6,1331.2 L980.6,1329.4 L982.8,1327.8 L984.8,1326.2 L986.7,1324.6 L988.3,1322.9 L989.7,1321.1 L990.7,1319.4 L991.5,1317.7 L992.1,1315.9 L992.6,1314.2 L992.9,1312.5 L993.1,1310.8 L993.1,1309.0 L993.1,1307.2 L992.9,1305.4 L992.6,1303.5 L992.3,1301.6 L991.9,1299.6 L991.3,1297.4 L990.5,1295.2 L989.6,1293.0 L988.6,1290.7 L987.5,1288.5 L986.3,1286.2 L985.1,1283.8 L983.9,1281.4 L982.7,1279.0 L981.6,1276.5 L980.6,1274.0 L979.7,1271.4 L978.9,1268.7 L977.9,1265.9 L977.0,1262.9 L976.0,1259.9 L975.1,1256.9 L974.2,1253.8 L973.4,1250.7 L972.7,1247.7 L972.2,1244.7 L971.8,1241.7 L971.7,1238.8 L971.7,1236.1 L972.0,1233.5 L972.6,1231.0 L973.4,1228.6 L974.3,1226.2 L975.5,1223.7 L976.7,1221.3 L978.0,1218.7 L979.3,1216.1 L980.6,1213.4 L981.7,1210.5 L982.8,1207.5 L983.6,1204.4 L984.2,1201.0 L984.8,1197.6 L985.3,1194.0 L985.8,1190.3 L986.3,1186.5 L986.6,1182.6 L987.0,1178.8 L987.2,1174.9 L987.4,1171.1 L987.5,1167.3 L987.5,1163.6 L987.4,1160.0 L987.2,1156.5 L986.9,1153.2 L986.3,1150.0 L985.7,1147.0 L985.0,1144.0 L984.3,1141.0 L983.6,1137.9 L982.9,1134.8 L982.3,1131.5 L981.8,1127.9 L981.5,1124.1 L981.3,1120.0 L981.3,1115.4 L981.5,1110.5 L981.8,1105.2 L982.1,1099.7 L982.6,1094.0 L983.1,1088.2 L983.6,1082.3 L984.2,1076.5 L984.7,1070.8 L985.2,1065.3 L985.6,1060.0 L986.0,1055.1 L986.3,1050.4 L986.7,1045.8 L987.1,1041.3 L987.5,1036.9 L987.8,1032.7 L988.2,1028.5 L988.5,1024.5 L988.7,1020.5 L988.9,1016.7 L989.0,1013.0 L988.9,1009.4 L988.8,1006.0 L988.5,1002.7 L988.1,999.6 L987.5,996.7 L986.9,993.9 L986.2,991.3 L985.5,988.8 L984.7,986.3 L983.8,983.9 L983.0,981.5 L982.2,979.0 L981.4,976.5 L980.6,973.8 L979.8,971.1 L978.9,968.4 L977.9,965.6 L977.0,962.9 L976.0,960.1 L975.0,957.3 L974.0,954.6 L973.1,951.8 L972.3,949.1 L971.6,946.3 L970.9,943.6 L970.4,940.9 L970.1,938.2 L969.8,935.4 L969.6,932.6 L969.5,929.8 L969.5,926.9 L969.6,924.1 L969.6,921.4 L969.7,918.7 L969.9,916.1 L970.0,913.6 L970.2,911.2 L970.3,909.0 L970.4,906.9 L970.6,904.9 L970.9,902.9 L971.1,901.0 L971.4,899.2 L971.7,897.5 L972.0,896.0 L972.3,894.5 L972.6,893.2 L972.8,892.0 L973.0,890.9 L973.2,890.0 Z" fill="#f3f4a8"/>
<path d="M993.0,1274.7 L994.4,1273.1 L996.1,1271.1 L998.1,1268.8 L1000.3,1266.1 L1002.6,1263.3 L1005.2,1260.3 L1007.9,1257.2 L1010.7,1254.1 L1013.5,1250.9 L1016.4,1247.9 L1019.2,1245.0 L1022.0,1242.3 L1024.9,1239.8 L1028.1,1237.3 L1031.4,1234.9 L1035.0,1232.4 L1038.6,1229.9 L1042.2,1227.5 L1045.9,1225.0 L1049.4,1222.4 L1052.8,1219.8 L1056.0,1217.0 L1058.9,1214.2 L1061.5,1211.2 L1063.8,1208.0 L1065.8,1204.6 L1067.6,1200.9 L1069.2,1197.1 L1070.6,1193.3 L1071.8,1189.6 L1073.0,1186.0 L1073.9,1182.5 L1074.8,1179.4 L1075.6,1176.6 L1076.3,1174.2 L1076.9,1172.4 L1075.1,1171.6 L1074.3,1173.5 L1073.5,1175.9 L1072.6,1178.7 L1071.5,1181.8 L1070.4,1185.1 L1069.2,1188.7 L1067.8,1192.3 L1066.2,1195.9 L1064.5,1199.4 L1062.7,1202.8 L1060.7,1206.0 L1058.5,1208.8 L1056.0,1211.3 L1053.2,1213.8 L1050.1,1216.3 L1046.7,1218.6 L1043.2,1221.0 L1039.5,1223.3 L1035.8,1225.6 L1032.0,1227.9 L1028.3,1230.2 L1024.7,1232.6 L1021.2,1235.1 L1018.0,1237.7 L1014.9,1240.4 L1011.8,1243.3 L1008.7,1246.3 L1005.6,1249.3 L1002.7,1252.4 L999.8,1255.5 L997.1,1258.4 L994.6,1261.1 L992.2,1263.7 L990.2,1265.9 L988.4,1267.8 L987.0,1269.3 Z" fill="#aebf62"/>
<path d="M991.0,1272.9 L992.4,1271.3 L994.1,1269.4 L996.1,1267.0 L998.4,1264.5 L1000.8,1261.6 L1003.4,1258.7 L1006.1,1255.6 L1009.0,1252.5 L1011.9,1249.4 L1014.8,1246.3 L1017.7,1243.4 L1020.6,1240.7 L1023.6,1238.2 L1026.9,1235.7 L1030.3,1233.3 L1033.9,1230.8 L1037.6,1228.4 L1041.3,1226.0 L1044.9,1223.6 L1048.5,1221.1 L1051.9,1218.5 L1055.0,1215.9 L1057.9,1213.2 L1060.4,1210.4 L1062.7,1207.3 L1064.7,1203.9 L1066.5,1200.4 L1068.1,1196.7 L1069.5,1192.9 L1070.8,1189.2 L1072.0,1185.6 L1073.0,1182.2 L1073.9,1179.1 L1074.8,1176.3 L1075.5,1173.9 L1076.2,1172.1 L1075.8,1171.9 L1075.1,1173.8 L1074.3,1176.2 L1073.4,1178.9 L1072.5,1182.1 L1071.4,1185.4 L1070.2,1189.0 L1068.8,1192.7 L1067.3,1196.4 L1065.7,1200.0 L1063.8,1203.4 L1061.8,1206.7 L1059.6,1209.6 L1057.1,1212.4 L1054.2,1215.0 L1051.1,1217.5 L1047.7,1220.0 L1044.1,1222.4 L1040.5,1224.7 L1036.7,1227.1 L1033.0,1229.4 L1029.4,1231.8 L1025.8,1234.2 L1022.5,1236.7 L1019.4,1239.3 L1016.4,1242.0 L1013.3,1244.8 L1010.3,1247.9 L1007.3,1250.9 L1004.4,1254.0 L1001.6,1257.1 L999.0,1260.0 L996.5,1262.8 L994.2,1265.4 L992.2,1267.6 L990.4,1269.6 L989.0,1271.1 Z" fill="#f3f4a8"/>
<path d="M1163.4,1145.6 L1162.4,1147.2 L1161.0,1148.9 L1159.4,1151.0 L1157.5,1153.3 L1155.5,1155.9 L1153.4,1158.7 L1151.3,1161.7 L1149.2,1164.9 L1147.2,1168.3 L1145.4,1171.9 L1143.8,1175.7 L1142.5,1179.6 L1141.6,1183.9 L1140.9,1188.7 L1140.4,1193.7 L1140.2,1199.1 L1140.0,1204.6 L1139.9,1210.1 L1139.7,1215.7 L1139.6,1221.1 L1139.3,1226.2 L1138.9,1231.1 L1138.3,1235.5 L1137.5,1239.4 L1136.5,1242.9 L1135.3,1246.1 L1134.1,1249.1 L1132.8,1251.8 L1131.4,1254.3 L1129.9,1256.7 L1128.3,1259.0 L1126.5,1261.1 L1124.6,1263.3 L1122.6,1265.4 L1120.4,1267.6 L1118.0,1269.8 L1115.4,1272.0 L1112.5,1274.2 L1109.2,1276.3 L1105.7,1278.5 L1102.1,1280.6 L1098.4,1282.7 L1094.7,1284.6 L1091.0,1286.5 L1087.5,1288.3 L1084.2,1290.0 L1081.1,1291.5 L1078.4,1292.9 L1076.2,1294.0 L1074.2,1294.8 L1072.5,1295.3 L1070.9,1295.8 L1069.4,1296.1 L1067.9,1296.5 L1066.4,1296.8 L1064.8,1297.3 L1063.1,1297.9 L1061.4,1298.7 L1059.5,1299.7 L1057.7,1301.1 L1055.8,1302.5 L1053.9,1304.2 L1051.9,1306.0 L1049.8,1307.9 L1047.7,1310.0 L1045.6,1312.1 L1043.6,1314.4 L1041.7,1316.7 L1040.0,1319.1 L1038.4,1321.6 L1037.1,1324.2 L1036.1,1326.8 L1035.4,1329.7 L1035.2,1332.7 L1035.3,1335.7 L1035.6,1338.7 L1036.0,1341.6 L1036.6,1344.5 L1037.3,1347.2 L1037.9,1349.7 L1038.6,1352.0 L1039.1,1354.0 L1039.5,1355.6 L1039.7,1356.8 L1048.3,1355.2 L1048.0,1353.7 L1047.5,1351.8 L1046.9,1349.7 L1046.2,1347.4 L1045.5,1345.0 L1044.9,1342.5 L1044.3,1340.0 L1043.9,1337.5 L1043.6,1335.1 L1043.5,1332.8 L1043.6,1330.9 L1043.9,1329.2 L1044.5,1327.4 L1045.5,1325.5 L1046.7,1323.5 L1048.1,1321.5 L1049.7,1319.4 L1051.4,1317.4 L1053.2,1315.4 L1055.1,1313.4 L1057.0,1311.6 L1058.9,1309.9 L1060.7,1308.3 L1062.3,1306.9 L1063.7,1305.9 L1064.9,1305.2 L1066.0,1304.6 L1067.1,1304.2 L1068.2,1303.9 L1069.6,1303.5 L1071.1,1303.2 L1072.8,1302.7 L1074.7,1302.2 L1076.8,1301.4 L1079.1,1300.4 L1081.6,1299.1 L1084.3,1297.7 L1087.3,1296.1 L1090.6,1294.3 L1094.1,1292.4 L1097.8,1290.4 L1101.6,1288.3 L1105.4,1286.2 L1109.1,1283.9 L1112.7,1281.5 L1116.1,1279.1 L1119.2,1276.7 L1122.0,1274.2 L1124.5,1271.8 L1126.8,1269.5 L1128.9,1267.2 L1130.9,1264.8 L1132.8,1262.3 L1134.6,1259.8 L1136.2,1257.1 L1137.7,1254.3 L1139.1,1251.2 L1140.3,1248.0 L1141.5,1244.4 L1142.5,1240.6 L1143.3,1236.3 L1143.9,1231.6 L1144.2,1226.5 L1144.3,1221.2 L1144.3,1215.7 L1144.1,1210.1 L1144.0,1204.6 L1144.0,1199.2 L1144.1,1193.9 L1144.3,1189.0 L1144.7,1184.4 L1145.5,1180.4 L1146.5,1176.6 L1147.9,1173.0 L1149.5,1169.5 L1151.2,1166.1 L1153.1,1162.9 L1155.1,1159.8 L1157.0,1157.0 L1158.9,1154.4 L1160.7,1152.0 L1162.2,1149.9 L1163.6,1148.0 L1164.6,1146.4 Z" fill="#6e88e2"/>
<path d="M1161.8,1149.9 L1160.8,1151.2 L1159.5,1152.8 L1157.9,1154.5 L1156.0,1156.5 L1154.1,1158.7 L1152.0,1161.1 L1150.0,1163.7 L1148.0,1166.5 L1146.0,1169.5 L1144.3,1172.8 L1142.8,1176.2 L1141.6,1179.9 L1140.7,1184.0 L1140.1,1188.6 L1139.8,1193.6 L1139.6,1198.9 L1139.5,1204.4 L1139.4,1210.0 L1139.4,1215.6 L1139.3,1221.1 L1139.1,1226.4 L1138.7,1231.3 L1138.1,1235.8 L1137.3,1239.8 L1136.2,1243.3 L1135.1,1246.5 L1133.9,1249.4 L1132.5,1252.1 L1131.1,1254.5 L1129.5,1256.8 L1127.9,1259.0 L1126.1,1261.0 L1124.1,1263.1 L1122.0,1265.1 L1119.8,1267.1 L1117.4,1269.3 L1114.7,1271.4 L1111.7,1273.6 L1108.4,1275.7 L1104.9,1277.8 L1101.2,1279.9 L1097.5,1281.9 L1093.7,1283.8 L1090.1,1285.7 L1086.5,1287.4 L1083.2,1289.0 L1080.2,1290.5 L1077.4,1291.9 L1075.0,1293.1 L1072.8,1294.2 L1070.6,1295.1 L1068.6,1295.9 L1066.8,1296.6 L1065.1,1297.2 L1063.5,1297.7 L1062.0,1298.2 L1060.7,1298.6 L1059.5,1299.0 L1058.4,1299.4 L1057.5,1299.7 L1058.5,1302.3 L1059.4,1301.9 L1060.4,1301.6 L1061.5,1301.2 L1062.9,1300.7 L1064.3,1300.2 L1065.9,1299.7 L1067.7,1299.0 L1069.6,1298.3 L1071.6,1297.4 L1073.8,1296.4 L1076.1,1295.3 L1078.6,1294.1 L1081.2,1292.7 L1084.3,1291.2 L1087.6,1289.5 L1091.1,1287.7 L1094.8,1285.8 L1098.5,1283.8 L1102.3,1281.8 L1105.9,1279.6 L1109.5,1277.5 L1112.8,1275.2 L1115.9,1273.0 L1118.6,1270.7 L1121.1,1268.5 L1123.3,1266.4 L1125.4,1264.3 L1127.4,1262.2 L1129.2,1260.1 L1131.0,1257.8 L1132.5,1255.4 L1134.0,1252.9 L1135.3,1250.1 L1136.6,1247.1 L1137.7,1243.8 L1138.7,1240.2 L1139.6,1236.1 L1140.1,1231.5 L1140.4,1226.4 L1140.6,1221.1 L1140.6,1215.6 L1140.6,1210.0 L1140.6,1204.4 L1140.6,1198.9 L1140.7,1193.6 L1141.1,1188.7 L1141.6,1184.1 L1142.4,1180.1 L1143.5,1176.5 L1145.0,1173.1 L1146.6,1169.9 L1148.5,1166.8 L1150.5,1164.0 L1152.5,1161.4 L1154.5,1159.0 L1156.4,1156.8 L1158.2,1154.8 L1159.8,1153.1 L1161.1,1151.5 L1162.2,1150.1 Z" fill="#a9bcf3"/>
<path d="M1040,1330 C1030,1318 1000,1316 984,1332" fill="none" stroke="#6c8eee" stroke-width="8" stroke-linecap="round"/>
<path d="M1038,1328 C1028,1320 1002,1319 988,1330" fill="none" stroke="#a3b9f5" stroke-width="3" stroke-linecap="round"/>
<path d="M770.1,1337.7 L772.2,1337.4 L774.7,1337.1 L777.7,1336.7 L781.0,1336.3 L784.6,1335.8 L788.4,1335.3 L792.4,1334.9 L796.4,1334.5 L800.3,1334.2 L804.1,1334.0 L807.8,1334.0 L811.1,1334.2 L814.2,1334.5 L817.3,1334.9 L820.4,1335.2 L823.5,1335.5 L826.5,1336.0 L829.7,1336.5 L832.8,1337.1 L836.1,1337.8 L839.4,1338.5 L842.8,1339.3 L846.4,1340.0 L850.0,1340.8 L853.7,1341.6 L857.6,1342.5 L861.7,1343.5 L865.8,1344.5 L870.0,1345.6 L874.2,1346.7 L878.5,1347.9 L882.7,1349.0 L886.9,1350.1 L891.0,1351.1 L895.0,1352.1 L898.9,1353.0 L902.6,1353.9 L906.3,1354.7 L910.0,1355.5 L913.7,1356.3 L917.3,1357.0 L920.8,1357.8 L924.2,1358.5 L927.5,1359.1 L930.7,1359.7 L933.7,1360.3 L936.5,1360.8 L939.1,1361.3 L941.3,1361.7 L943.2,1362.0 L944.9,1362.4 L946.4,1362.7 L947.8,1363.0 L949.2,1363.2 L950.7,1363.4 L952.3,1363.5 L954.0,1363.6 L955.8,1363.6 L958.0,1363.6 L960.4,1363.4 L963.2,1363.2 L966.3,1362.9 L969.7,1362.6 L973.3,1362.1 L977.0,1361.6 L980.8,1361.1 L984.6,1360.5 L988.3,1359.9 L991.9,1359.3 L995.3,1358.7 L998.5,1358.1 L1001.3,1357.5 L1003.7,1356.9 L1005.7,1356.4 L1007.6,1355.9 L1009.2,1355.4 L1010.8,1354.8 L1012.3,1354.2 L1013.7,1353.6 L1015.1,1352.9 L1016.7,1352.1 L1018.4,1351.3 L1020.3,1350.3 L1022.6,1349.1 L1025.4,1347.7 L1028.5,1346.1 L1031.9,1344.2 L1035.4,1342.3 L1039.1,1340.2 L1042.9,1338.1 L1046.6,1336.0 L1050.3,1334.0 L1053.8,1332.0 L1057.1,1330.2 L1060.1,1328.7 L1062.7,1327.3 L1065.0,1326.2 L1067.2,1325.2 L1069.2,1324.4 L1071.1,1323.6 L1072.9,1322.9 L1074.6,1322.3 L1076.1,1321.8 L1077.5,1321.3 L1078.8,1320.8 L1080.0,1320.4 L1081.2,1320.0 L1082.2,1319.7 L1077.8,1308.3 L1077.0,1308.6 L1076.1,1309.0 L1074.9,1309.4 L1073.6,1309.8 L1072.1,1310.4 L1070.4,1311.0 L1068.6,1311.6 L1066.6,1312.4 L1064.5,1313.3 L1062.3,1314.3 L1059.9,1315.4 L1057.3,1316.7 L1054.5,1318.1 L1051.4,1319.8 L1048.1,1321.7 L1044.5,1323.7 L1040.8,1325.8 L1037.1,1327.9 L1033.4,1330.0 L1029.7,1332.1 L1026.3,1334.1 L1023.0,1335.9 L1020.0,1337.5 L1017.4,1338.9 L1015.1,1340.1 L1013.1,1341.1 L1011.5,1341.9 L1010.0,1342.7 L1008.8,1343.3 L1007.7,1343.8 L1006.7,1344.2 L1005.6,1344.6 L1004.3,1345.0 L1002.8,1345.5 L1000.9,1346.0 L998.7,1346.5 L996.1,1347.1 L993.2,1347.7 L989.9,1348.3 L986.5,1348.9 L982.9,1349.6 L979.2,1350.1 L975.5,1350.7 L971.9,1351.2 L968.4,1351.7 L965.2,1352.0 L962.2,1352.4 L959.6,1352.6 L957.4,1352.7 L955.6,1352.8 L954.1,1352.8 L952.9,1352.8 L951.8,1352.7 L950.8,1352.5 L949.7,1352.4 L948.5,1352.1 L947.0,1351.8 L945.3,1351.5 L943.3,1351.1 L940.9,1350.7 L938.3,1350.3 L935.5,1349.8 L932.6,1349.3 L929.5,1348.7 L926.2,1348.1 L922.8,1347.5 L919.4,1346.8 L915.8,1346.1 L912.2,1345.3 L908.5,1344.6 L904.8,1343.8 L901.1,1343.0 L897.4,1342.1 L893.5,1341.2 L889.4,1340.2 L885.3,1339.2 L881.0,1338.1 L876.8,1337.0 L872.5,1335.9 L868.2,1334.9 L864.0,1333.9 L859.9,1332.9 L855.8,1332.0 L852.0,1331.2 L848.4,1330.5 L844.8,1329.8 L841.4,1329.0 L838.0,1328.4 L834.7,1327.7 L831.3,1327.1 L828.0,1326.6 L824.7,1326.1 L821.3,1325.7 L817.9,1325.5 L814.5,1325.6 L810.9,1325.8 L807.2,1326.3 L803.4,1327.0 L799.4,1327.8 L795.4,1328.8 L791.4,1329.8 L787.6,1331.0 L783.8,1332.1 L780.3,1333.2 L777.1,1334.2 L774.2,1335.1 L771.8,1335.8 L769.9,1336.3 Z" fill="#aebf62"/>
<path d="M775.1,1335.3 L776.8,1334.9 L779.0,1334.4 L781.5,1333.7 L784.4,1333.0 L787.4,1332.2 L790.7,1331.4 L794.1,1330.6 L797.6,1329.9 L801.1,1329.3 L804.5,1328.8 L807.9,1328.5 L811.0,1328.4 L814.1,1328.5 L817.2,1328.7 L820.3,1329.0 L823.5,1329.4 L826.7,1329.9 L829.9,1330.4 L833.2,1331.1 L836.5,1331.7 L839.9,1332.4 L843.4,1333.2 L847.0,1334.0 L850.6,1334.7 L854.4,1335.5 L858.3,1336.4 L862.4,1337.4 L866.6,1338.5 L870.8,1339.5 L875.0,1340.6 L879.3,1341.8 L883.5,1342.9 L887.7,1343.9 L891.8,1345.0 L895.8,1345.9 L899.6,1346.8 L903.3,1347.7 L907.0,1348.5 L910.7,1349.3 L914.3,1350.1 L917.9,1350.8 L921.4,1351.5 L924.8,1352.2 L928.1,1352.9 L931.3,1353.5 L934.2,1354.0 L937.1,1354.5 L939.7,1355.0 L941.9,1355.4 L943.9,1355.7 L945.5,1356.1 L947.0,1356.4 L948.4,1356.6 L949.7,1356.9 L951.1,1357.0 L952.5,1357.2 L954.0,1357.2 L955.8,1357.2 L957.8,1357.2 L960.1,1357.0 L962.9,1356.8 L966.0,1356.5 L969.3,1356.2 L972.9,1355.7 L976.6,1355.2 L980.3,1354.7 L984.1,1354.1 L987.8,1353.5 L991.3,1352.9 L994.7,1352.3 L997.7,1351.7 L1000.5,1351.1 L1002.8,1350.5 L1004.8,1350.0 L1006.6,1349.5 L1008.1,1349.0 L1009.5,1348.5 L1010.9,1348.0 L1012.2,1347.4 L1013.6,1346.7 L1015.1,1346.0 L1016.7,1345.1 L1018.7,1344.1 L1021.0,1343.0 L1023.7,1341.6 L1026.8,1339.9 L1030.1,1338.1 L1033.7,1336.1 L1037.4,1334.1 L1041.1,1332.0 L1044.9,1329.9 L1048.5,1327.8 L1052.0,1325.8 L1055.4,1324.0 L1058.4,1322.4 L1061.0,1321.1 L1063.4,1319.9 L1065.7,1318.9 L1067.8,1318.0 L1069.8,1317.2 L1071.6,1316.5 L1073.3,1315.8 L1074.9,1315.3 L1076.3,1314.8 L1077.6,1314.3 L1078.8,1313.9 L1079.9,1313.6 L1080.8,1313.2 L1079.2,1308.8 L1078.3,1309.1 L1077.3,1309.5 L1076.1,1309.9 L1074.8,1310.3 L1073.3,1310.8 L1071.7,1311.4 L1069.9,1312.1 L1068.0,1312.8 L1066.0,1313.7 L1063.8,1314.6 L1061.4,1315.7 L1059.0,1316.9 L1056.2,1318.4 L1053.2,1320.0 L1049.8,1321.8 L1046.3,1323.8 L1042.6,1325.9 L1038.9,1328.0 L1035.2,1330.2 L1031.5,1332.2 L1028.0,1334.2 L1024.7,1336.0 L1021.7,1337.7 L1019.0,1339.0 L1016.7,1340.2 L1014.7,1341.2 L1013.1,1342.1 L1011.6,1342.8 L1010.3,1343.5 L1009.1,1344.0 L1008.0,1344.5 L1006.7,1345.0 L1005.3,1345.4 L1003.7,1345.9 L1001.8,1346.4 L999.5,1346.9 L996.9,1347.5 L993.9,1348.1 L990.6,1348.7 L987.1,1349.4 L983.4,1350.0 L979.7,1350.6 L976.0,1351.1 L972.3,1351.6 L968.8,1352.1 L965.5,1352.4 L962.5,1352.7 L959.9,1353.0 L957.6,1353.1 L955.7,1353.2 L954.1,1353.2 L952.7,1353.1 L951.5,1353.0 L950.3,1352.9 L949.1,1352.7 L947.8,1352.4 L946.3,1352.1 L944.6,1351.8 L942.7,1351.4 L940.3,1351.0 L937.7,1350.6 L934.9,1350.1 L932.0,1349.6 L928.8,1349.0 L925.6,1348.4 L922.2,1347.7 L918.7,1347.0 L915.1,1346.3 L911.5,1345.5 L907.8,1344.8 L904.1,1344.0 L900.4,1343.2 L896.6,1342.3 L892.7,1341.3 L888.6,1340.3 L884.5,1339.3 L880.2,1338.2 L876.0,1337.1 L871.7,1336.0 L867.4,1335.0 L863.3,1333.9 L859.2,1333.0 L855.2,1332.1 L851.4,1331.3 L847.7,1330.5 L844.1,1329.8 L840.6,1329.1 L837.2,1328.3 L833.8,1327.7 L830.5,1327.1 L827.2,1326.5 L823.9,1326.1 L820.7,1325.7 L817.4,1325.6 L814.2,1325.5 L811.0,1325.6 L807.6,1325.9 L804.2,1326.4 L800.7,1327.1 L797.2,1328.0 L793.7,1328.9 L790.3,1329.9 L787.1,1330.9 L784.0,1331.8 L781.2,1332.7 L778.7,1333.5 L776.6,1334.2 L774.9,1334.7 Z" fill="#f3f4a8"/>
<path d="M957,1358 C960,1345 966,1338 972,1334 L984,1336 C978,1342 975,1350 974,1358 Z" fill="#f3f4a8" stroke="#aebf62" stroke-width="2.5"/>
</g>
<defs>
<radialGradient id="glow" cx="0.5" cy="0.5" r="0.5">
<stop offset="0" stop-color="#ee6f5a" stop-opacity="0.95"/>
<stop offset="0.45" stop-color="#f28670" stop-opacity="0.6"/>
<stop offset="1" stop-color="#f9a486" stop-opacity="0"/>
</radialGradient>
<radialGradient id="bulbG" cx="0.45" cy="0.12" r="0.75">
<stop offset="0" stop-color="#ea5e4c"/>
<stop offset="0.25" stop-color="#f18a76"/>
<stop offset="0.6" stop-color="#f6ad9c"/>
<stop offset="1" stop-color="#f7b6a6"/>
</radialGradient>
<radialGradient id="sebG" cx="0.45" cy="0.4" r="0.6">
<stop offset="0" stop-color="#fff7b0"/>
<stop offset="0.35" stop-color="#ffdf10"/>
<stop offset="1" stop-color="#f9b000"/>
</radialGradient>
<linearGradient id="ductY" x1="0" y1="0" x2="0" y2="1">
<stop offset="0" stop-color="#fff176"/>
<stop offset="1" stop-color="#ffc400"/>
</linearGradient>
<radialGradient id="bulbRed" cx="0.5" cy="0.5" r="0.5">
<stop offset="0" stop-color="#e8583f" stop-opacity="0.9"/>
<stop offset="0.3" stop-color="#ea6a52" stop-opacity="0.75"/>
<stop offset="0.65" stop-color="#f08a74" stop-opacity="0.35"/>
<stop offset="1" stop-color="#f6ad9c" stop-opacity="0"/>
</radialGradient>
<clipPath id="bulbClip"><path d="M718,733 L718,880 C716,905 705,935 686,962 C676,980 672,1010 672,1047 C672,1080 680,1108 698,1124 C714,1138 733,1144 750,1144 C772,1144 795,1130 806,1110 C817,1090 819,1060 817,1040 C815,1012 809,988 798,968 C786,948 776,928 771,902 C768,882 767,820 767,733 Z"/></clipPath>
<linearGradient id="vaseG" x1="0" y1="0" x2="0" y2="1">
<stop offset="0" stop-color="#e4553e" stop-opacity="0.9"/>
<stop offset="0.45" stop-color="#ec7a63" stop-opacity="0.55"/>
<stop offset="1" stop-color="#f6ad9c" stop-opacity="0"/>
</linearGradient>
</defs>
<!-- glow around follicle -->
<ellipse cx="735" cy="955" rx="95" ry="70" fill="url(#glow)"/>
<!-- sebaceous gland outer -->
<path d="M770,932 C790,936 812,938 828,937 C838,936 845,935 855,936 C873,938 886,952 886,968 C886,986 872,999 855,999 C840,999 830,990 822,980 C815,972 808,966 796,964 C786,962 778,960 770,958 Z" fill="#e2836c"/>
<path d="M770,932 C790,936 812,938 828,937 C838,936 845,935 853,936 C869,938 880,951 880,966 C880,982 868,993 853,993 C840,993 830,985 823,976 C816,968 808,963 796,961 C786,959 778,957 770,955 Z" fill="#f7b3a1"/>
<!-- follicle outer (with shadow edge) -->
<path d="M718,733 L718,880 C716,905 705,935 686,962 C676,980 672,1010 672,1047 C672,1080 680,1110 700,1128 C716,1142 735,1148 752,1148 C775,1148 800,1132 812,1112 C824,1092 826,1060 824,1040 C822,1010 815,985 803,965 C790,945 780,925 775,900 C772,880 771,820 771,733 Z" fill="#e48c77"/>
<path d="M718,733 L718,880 C716,905 705,935 686,962 C676,980 672,1010 672,1047 C672,1080 680,1108 698,1124 C714,1138 733,1144 750,1144 C772,1144 795,1130 806,1110 C817,1090 819,1060 817,1040 C815,1012 809,988 798,968 C786,948 776,928 771,902 C768,882 767,820 767,733 Z" fill="url(#bulbG)"/>
<path d="M722,940 C722,972 708,1000 688,1040 L808,1040 C786,1000 760,972 758,940 Z" fill="url(#vaseG)" clip-path="url(#bulbClip)"/>
<ellipse cx="740" cy="958" rx="40" ry="30" fill="url(#bulbRed)" opacity="0.6" clip-path="url(#bulbClip)"/>
<!-- lighter inner lower lobe of bulb -->
<path d="M757,952 C770,975 800,1000 808,1040 C814,1075 800,1115 770,1130 C740,1140 705,1130 690,1100 C705,1110 740,1118 765,1100 C790,1080 792,1040 780,1005 C772,985 760,970 757,952 Z" fill="#f8bfae" opacity="0.7"/>
<!-- sheath light inner strips -->
<path d="M721,733 L724,733 L724,950 L719,950 C720,900 721,850 721,733 Z" fill="#f9c0b2" opacity="0.8"/>
<path d="M757,733 L764,733 C764,820 766,880 770,905 C762,890 757,860 757,800 Z" fill="#f9c0b2" opacity="0.8"/>
<!-- follicle top notch above surface -->
<path d="M722,724 L768,726 L771,760 L718,760 Z" fill="#f6ad9b"/>
<path d="M764,726 L771,728 L772,760 L766,760 Z" fill="#c97a66"/>
<!-- sebaceous yellow duct + gland -->
<path d="M755,928 C755,920 763,920 764,928 C765,938 770,943 784,945 C805,947 825,948 840,951 C850,953 856,953 862,955 C872,960 874,972 869,980 C862,990 848,990 840,982 C834,976 828,966 815,962 C798,958 772,958 762,952 C756,946 755,936 755,928 Z" fill="url(#ductY)"/>
<ellipse cx="858" cy="968" rx="12" ry="13" fill="url(#sebG)"/>
<!-- hair shaft -->
<path d="M795.5,385.0 L795.1,386.6 L794.5,388.9 L793.9,391.6 L793.2,394.4 L792.5,397.3 L791.8,400.0 L791.2,402.5 L790.6,405.0 L790.0,407.5 L789.4,410.0 L788.8,412.5 L788.2,415.0 L787.6,417.5 L786.9,420.0 L786.3,422.5 L785.7,425.0 L785.1,427.5 L784.5,430.0 L783.9,432.5 L783.3,435.0 L782.8,437.5 L782.2,440.0 L781.6,442.5 L781.0,445.0 L780.5,447.5 L779.9,450.0 L779.3,452.5 L778.7,455.0 L778.2,457.5 L777.6,460.0 L777.0,462.5 L776.4,465.0 L775.8,467.5 L775.3,470.0 L774.7,472.5 L774.1,475.0 L773.6,477.5 L773.1,480.0 L772.6,482.5 L772.1,485.0 L771.6,487.5 L771.1,490.0 L770.7,492.5 L770.2,495.0 L769.7,497.5 L769.3,500.0 L768.8,502.5 L768.3,505.0 L767.9,507.5 L767.4,510.0 L767.0,512.5 L766.5,515.0 L766.0,517.5 L765.6,520.0 L765.1,522.5 L764.6,525.0 L764.2,527.5 L763.7,530.0 L763.2,532.5 L762.8,535.0 L762.3,537.5 L761.8,540.0 L761.4,542.5 L760.9,545.0 L760.4,547.5 L760.0,550.0 L759.5,552.5 L759.0,555.0 L758.6,557.5 L758.1,560.0 L757.6,562.5 L757.2,565.0 L756.8,567.5 L756.3,570.0 L755.9,572.5 L755.5,575.0 L755.1,577.5 L754.7,580.0 L754.2,582.5 L753.8,585.0 L753.4,587.5 L753.0,590.0 L752.6,592.5 L752.2,595.0 L751.8,597.5 L751.3,600.0 L750.9,602.5 L750.5,605.0 L750.1,607.5 L749.7,610.0 L749.2,612.5 L748.8,615.0 L748.4,617.5 L748.0,620.0 L747.6,622.5 L747.2,625.0 L746.7,627.5 L746.3,630.0 L745.9,632.5 L745.5,635.0 L745.1,637.5 L744.7,640.0 L744.3,642.5 L743.9,645.0 L743.5,647.5 L743.1,650.0 L742.7,652.5 L742.3,655.0 L742.0,657.5 L741.6,660.0 L741.3,662.5 L741.0,665.0 L740.7,667.5 L740.3,670.0 L740.0,672.5 L739.7,675.0 L739.4,677.5 L739.0,680.0 L738.7,682.5 L738.4,685.0 L738.0,687.5 L737.7,690.0 L737.4,692.5 L737.0,695.0 L736.7,697.5 L736.4,700.0 L736.0,702.5 L735.7,705.0 L735.4,707.5 L735.0,710.0 L734.7,712.5 L734.4,715.0 L734.0,717.5 L733.7,720.0 L733.3,722.5 L733.0,725.0 L732.7,727.5 L732.4,730.0 L732.2,732.5 L732.0,735.0 L731.8,737.5 L731.7,740.0 L731.5,742.5 L731.4,745.0 L731.2,747.5 L731.1,750.0 L731.0,752.5 L730.8,755.0 L730.7,757.5 L730.6,760.0 L730.5,762.5 L730.3,765.0 L730.2,767.5 L730.1,770.0 L729.9,772.5 L729.8,775.0 L729.7,777.5 L729.5,780.0 L729.4,782.5 L729.3,785.0 L729.1,787.5 L729.0,790.0 L728.9,792.5 L728.8,795.0 L728.6,797.5 L728.5,800.0 L728.4,802.5 L728.3,805.0 L728.2,807.5 L728.1,810.0 L728.0,812.5 L727.9,815.0 L727.8,817.5 L727.7,820.0 L727.6,822.5 L727.5,825.0 L727.4,827.5 L727.3,830.0 L727.2,832.5 L727.1,835.0 L727.0,837.5 L726.9,840.0 L726.8,842.5 L726.7,845.0 L726.6,847.5 L726.5,850.0 L726.4,852.5 L726.3,855.0 L726.3,857.5 L726.2,860.0 L726.1,862.5 L726.0,865.0 L725.9,867.5 L725.9,870.0 L725.8,872.5 L725.7,875.0 L725.6,877.5 L725.5,880.0 L725.5,882.5 L725.4,885.0 L725.3,887.5 L725.2,890.0 L725.1,892.5 L725.1,895.0 L725.0,897.5 L724.9,900.0 L724.8,902.5 L724.7,905.0 L724.7,907.5 L724.6,910.0 L724.5,912.5 L724.4,915.0 L724.3,917.5 L724.3,920.0 L724.2,922.5 L724.1,925.0 L724.0,927.6 L723.9,930.4 L723.8,933.2 L723.8,935.8 L723.7,938.1 L723.6,940.0 L723.6,941.3 L723.6,942.3 L723.5,942.9 L723.5,943.4 L723.5,943.7 L723.5,944.0 Q739.5,952 755.5,944 L755.5,944.0 L755.5,943.7 L755.5,943.4 L755.5,942.9 L755.5,942.3 L755.5,941.3 L755.5,940.0 L755.5,938.1 L755.5,935.8 L755.5,933.2 L755.5,930.4 L755.5,927.6 L755.5,925.0 L755.5,922.5 L755.5,920.0 L755.5,917.5 L755.5,915.0 L755.5,912.5 L755.5,910.0 L755.5,907.5 L755.5,905.0 L755.5,902.5 L755.5,900.0 L755.5,897.5 L755.5,895.0 L755.5,892.5 L755.5,890.0 L755.5,887.5 L755.5,885.0 L755.5,882.5 L755.5,880.0 L755.5,877.5 L755.5,875.0 L755.5,872.5 L755.5,870.0 L755.5,867.5 L755.5,865.0 L755.5,862.5 L755.5,860.0 L755.5,857.5 L755.5,855.0 L755.5,852.5 L755.5,850.0 L755.5,847.5 L755.5,845.0 L755.5,842.5 L755.5,840.0 L755.5,837.5 L755.5,835.0 L755.5,832.5 L755.5,830.0 L755.5,827.5 L755.5,825.0 L755.5,822.5 L755.5,820.0 L755.5,817.5 L755.5,815.0 L755.5,812.5 L755.5,810.0 L755.5,807.5 L755.5,805.0 L755.5,802.5 L755.6,800.0 L755.6,797.5 L755.6,795.0 L755.7,792.5 L755.7,790.0 L755.8,787.5 L755.8,785.0 L755.9,782.5 L755.9,780.0 L756.0,777.5 L756.1,775.0 L756.1,772.5 L756.2,770.0 L756.2,767.5 L756.3,765.0 L756.3,762.5 L756.4,760.0 L756.4,757.5 L756.5,755.0 L756.6,752.5 L756.6,750.0 L756.7,747.5 L756.7,745.0 L756.8,742.5 L756.9,740.0 L756.9,737.5 L757.0,735.0 L757.1,732.5 L757.2,730.0 L757.4,727.5 L757.5,725.0 L757.7,722.5 L757.9,720.0 L758.1,717.5 L758.3,715.0 L758.5,712.5 L758.7,710.0 L758.8,707.5 L759.0,705.0 L759.2,702.5 L759.4,700.0 L759.6,697.5 L759.7,695.0 L759.9,692.5 L760.1,690.0 L760.3,687.5 L760.5,685.0 L760.7,682.5 L760.8,680.0 L761.0,677.5 L761.2,675.0 L761.4,672.5 L761.6,670.0 L761.7,667.5 L761.9,665.0 L762.1,662.5 L762.3,660.0 L762.4,657.5 L762.6,655.0 L762.9,652.5 L763.1,650.0 L763.3,647.5 L763.6,645.0 L763.8,642.5 L764.1,640.0 L764.3,637.5 L764.6,635.0 L764.9,632.5 L765.1,630.0 L765.4,627.5 L765.7,625.0 L765.9,622.5 L766.2,620.0 L766.5,617.5 L766.8,615.0 L767.0,612.5 L767.3,610.0 L767.6,607.5 L767.8,605.0 L768.1,602.5 L768.4,600.0 L768.6,597.5 L768.9,595.0 L769.2,592.5 L769.4,590.0 L769.7,587.5 L770.0,585.0 L770.2,582.5 L770.5,580.0 L770.8,577.5 L771.0,575.0 L771.3,572.5 L771.6,570.0 L771.8,567.5 L772.1,565.0 L772.4,562.5 L772.7,560.0 L773.1,557.5 L773.4,555.0 L773.7,552.5 L774.0,550.0 L774.4,547.5 L774.7,545.0 L775.0,542.5 L775.3,540.0 L775.6,537.5 L776.0,535.0 L776.3,532.5 L776.6,530.0 L776.9,527.5 L777.2,525.0 L777.6,522.5 L777.9,520.0 L778.2,517.5 L778.5,515.0 L778.8,512.5 L779.2,510.0 L779.5,507.5 L779.8,505.0 L780.1,502.5 L780.4,500.0 L780.8,497.5 L781.1,495.0 L781.4,492.5 L781.7,490.0 L782.0,487.5 L782.4,485.0 L782.7,482.5 L783.0,480.0 L783.3,477.5 L783.6,475.0 L784.0,472.5 L784.3,470.0 L784.6,467.5 L784.9,465.0 L785.3,462.5 L785.6,460.0 L785.9,457.5 L786.2,455.0 L786.6,452.5 L786.9,450.0 L787.2,447.5 L787.5,445.0 L787.9,442.5 L788.2,440.0 L788.5,437.5 L788.8,435.0 L789.2,432.5 L789.5,430.0 L789.8,427.5 L790.2,425.0 L790.5,422.5 L790.8,420.0 L791.2,417.5 L791.5,415.0 L791.8,412.5 L792.2,410.0 L792.5,407.5 L792.8,405.0 L793.2,402.5 L793.5,400.0 L793.9,397.3 L794.2,394.4 L794.6,391.6 L795.0,388.9 L795.3,386.6 L795.5,385.0 Z" fill="#3d2a18"/>
<path d="M791.3,405.0 L790.0,411.0 L788.7,417.0 L787.5,423.0 L786.2,429.0 L784.9,435.0 L783.7,441.0 L782.5,447.0 L781.3,453.0 L780.1,459.0 L778.8,465.0 L777.6,471.0 L776.4,477.0 L775.2,483.0 L774.2,489.0 L773.2,495.0 L772.1,501.0 L771.1,507.0 L770.0,513.0 L769.0,519.0 L767.9,525.0 L766.9,531.0 L765.8,537.0 L764.8,543.0 L763.7,549.0 L762.7,555.0 L761.6,561.0 L760.6,567.0 L759.6,573.0 L758.7,579.0 L757.7,585.0 L756.8,591.0 L755.9,597.0 L754.9,603.0 L754.0,609.0 L753.0,615.0 L752.1,621.0 L751.1,627.0 L750.2,633.0 L749.2,639.0 L748.2,645.0 L747.3,651.0 L746.6,657.0 L745.8,663.0 L745.0,669.0 L744.3,675.0 L743.5,681.0 L742.8,687.0 L742.0,693.0 L741.2,699.0 L740.5,705.0 L739.7,711.0 L738.9,717.0 L739.4,717.0 L741.4,711.0 L743.4,705.0 L745.4,699.0 L747.3,693.0 L749.1,687.0 L749.8,681.0 L750.4,675.0 L751.1,669.0 L751.8,663.0 L752.4,657.0 L753.1,651.0 L753.9,645.0 L754.8,639.0 L755.7,633.0 L756.5,627.0 L757.4,621.0 L758.3,615.0 L759.1,609.0 L760.0,603.0 L760.8,597.0 L761.7,591.0 L762.5,585.0 L763.4,579.0 L764.2,573.0 L765.1,567.0 L766.0,561.0 L767.0,555.0 L768.0,549.0 L768.9,543.0 L769.9,537.0 L770.8,531.0 L771.8,525.0 L772.7,519.0 L773.7,513.0 L774.6,507.0 L775.6,501.0 L776.5,495.0 L777.5,489.0 L778.4,483.0 L779.4,477.0 L780.4,471.0 L781.5,465.0 L782.5,459.0 L783.6,453.0 L784.6,447.0 L785.7,441.0 L786.7,435.0 L787.7,429.0 L788.8,423.0 L789.9,417.0 L790.9,411.0 L792.0,405.0 Z" fill="#6f6e6d"/>
<g id="apocrine">
<path d="M719.0,881.0 L718.4,883.4 L717.5,886.6 L716.6,890.4 L715.5,894.7 L714.3,899.2 L713.0,903.9 L711.5,908.5 L710.0,913.0 L708.4,917.4 L706.7,922.0 L704.8,926.8 L702.9,931.6 L700.8,936.3 L698.7,941.1 L696.4,945.6 L694.0,950.0 L691.4,954.2 L688.7,958.5 L685.8,962.6 L682.8,966.6 L679.8,970.5 L676.8,974.2 L673.8,977.7 L671.0,981.0 L668.3,984.0 L665.5,986.7 L662.8,989.1 L660.2,991.4 L657.6,993.6 L655.0,995.7 L652.5,997.9 L650.0,1000.0 L647.6,1002.1 L645.1,1004.2 L642.8,1006.2 L640.4,1008.2 L638.2,1010.1 L636.0,1012.1 L633.9,1014.0 L632.0,1016.0 L630.1,1018.1 L628.3,1020.4 L626.5,1022.7 L624.9,1025.0 L623.4,1027.2 L622.0,1029.1 L620.9,1030.8 L620.0,1032.0 L640.0,1040.0 L641.0,1038.5 L642.3,1036.5 L643.8,1034.1 L645.5,1031.4 L647.4,1028.5 L649.5,1025.6 L651.7,1022.7 L654.0,1020.0 L656.5,1017.4 L659.3,1014.7 L662.4,1012.0 L665.5,1009.2 L668.7,1006.5 L671.9,1003.7 L675.0,1000.9 L678.0,998.0 L680.9,995.1 L683.8,992.2 L686.7,989.2 L689.5,986.2 L692.3,983.2 L695.0,980.1 L697.6,977.1 L700.0,974.0 L702.4,970.9 L704.7,967.9 L706.9,964.8 L709.1,961.7 L711.1,958.6 L712.9,955.4 L714.6,952.2 L716.0,949.0 L717.2,945.8 L718.1,942.7 L718.9,939.6 L719.4,936.5 L719.9,933.2 L720.3,929.8 L720.6,926.1 L721.0,922.0 L721.3,917.3 L721.6,911.8 L721.7,905.8 L721.8,899.8 L721.9,894.0 L721.9,888.7 L722.0,884.3 L722.0,881.0 Z" fill="#4a72cf" opacity="0.93"/>
<path d="M720.0,890.0 L719.7,892.5 L719.4,895.8 L719.0,899.8 L718.6,904.2 L718.0,908.9 L717.4,913.5 L716.8,918.0 L716.0,922.0 L715.2,925.7 L714.3,929.3 L713.4,932.8 L712.4,936.2 L711.3,939.7 L710.1,943.1 L708.6,946.5 L707.0,950.0 L705.1,953.5 L703.1,957.1 L700.8,960.8 L698.4,964.4 L695.9,967.9 L693.3,971.4 L690.7,974.8 L688.0,978.0 L685.2,981.1 L682.3,984.0 L679.3,986.8 L676.2,989.6 L673.1,992.2 L670.0,994.9 L666.9,997.4 L664.0,1000.0 L661.1,1002.5 L658.1,1005.1 L655.2,1007.5 L652.2,1009.9 L649.4,1012.3 L646.8,1014.6 L644.3,1016.8 L642.0,1019.0 L639.9,1021.2 L638.0,1023.4 L636.2,1025.6 L634.6,1027.7 L633.2,1029.6 L631.9,1031.4 L630.9,1032.9 L630.0,1034.0" fill="none" stroke="#87a5ea" stroke-width="4" stroke-linecap="round" opacity="0.8"/>
<g transform="translate(2.5,3)" fill="none" stroke="#dd8f7c" stroke-width="13.5" stroke-linecap="round" stroke-linejoin="round" opacity="0.9">
<path d="M600,1066 C598,1090 598,1115 602,1130"/>
<path d="M632,1118 C636,1092 645,1070 652,1066 C660,1064 664,1086 668,1102"/>
<path d="M575,1106 C572,1128 585,1140 600,1140 C615,1140 624,1128 620,1112"/>
<path d="M610,1128 C618,1146 642,1150 660,1140 C674,1130 668,1112 662,1104"/>
<path d="M612,1058 C630,1048 660,1046 678,1056 C694,1066 694,1095 686,1108 C676,1122 652,1126 632,1122"/>
<path d="M606,1056 C580,1050 557,1066 557,1088 C557,1102 566,1108 580,1110"/>
<path d="M632,1040 C626,1050 616,1056 600,1060"/>
<path d="M626,1056 C608,1050 597,1032 601,1016 C605,1004 621,1008 628,1022 C634,1036 630,1048 622,1058"/>
<path d="M562,1098 C600,1097 650,1100 687,1104"/>
</g>
<path d="M600,1066 C598,1090 598,1115 602,1130" fill="none" stroke="#4064b8" stroke-width="12.5" stroke-linecap="round" stroke-linejoin="round"/>
<path d="M600,1066 C598,1090 598,1115 602,1130" fill="none" stroke="#5a80d4" stroke-width="9.5" stroke-linecap="round" stroke-linejoin="round"/>
<path d="M600,1066 C598,1090 598,1115 602,1130" fill="none" stroke="#8eabea" stroke-width="3.125" stroke-linecap="round" stroke-linejoin="round" opacity="0.7" transform="translate(-1.5,-2)"/>
<path d="M632,1118 C636,1092 645,1070 652,1066 C660,1064 664,1086 668,1102" fill="none" stroke="#4064b8" stroke-width="12.5" stroke-linecap="round" stroke-linejoin="round"/>
<path d="M632,1118 C636,1092 645,1070 652,1066 C660,1064 664,1086 668,1102" fill="none" stroke="#5a80d4" stroke-width="9.5" stroke-linecap="round" stroke-linejoin="round"/>
<path d="M632,1118 C636,1092 645,1070 652,1066 C660,1064 664,1086 668,1102" fill="none" stroke="#8eabea" stroke-width="3.125" stroke-linecap="round" stroke-linejoin="round" opacity="0.7" transform="translate(-1.5,-2)"/>
<path d="M575,1106 C572,1128 585,1140 600,1140 C615,1140 624,1128 620,1112" fill="none" stroke="#4064b8" stroke-width="12.5" stroke-linecap="round" stroke-linejoin="round"/>
<path d="M575,1106 C572,1128 585,1140 600,1140 C615,1140 624,1128 620,1112" fill="none" stroke="#5a80d4" stroke-width="9.5" stroke-linecap="round" stroke-linejoin="round"/>
<path d="M575,1106 C572,1128 585,1140 600,1140 C615,1140 624,1128 620,1112" fill="none" stroke="#8eabea" stroke-width="3.125" stroke-linecap="round" stroke-linejoin="round" opacity="0.7" transform="translate(-1.5,-2)"/>
<path d="M610,1128 C618,1146 642,1150 660,1140 C674,1130 668,1112 662,1104" fill="none" stroke="#4064b8" stroke-width="12.5" stroke-linecap="round" stroke-linejoin="round"/>
<path d="M610,1128 C618,1146 642,1150 660,1140 C674,1130 668,1112 662,1104" fill="none" stroke="#5a80d4" stroke-width="9.5" stroke-linecap="round" stroke-linejoin="round"/>
<path d="M610,1128 C618,1146 642,1150 660,1140 C674,1130 668,1112 662,1104" fill="none" stroke="#8eabea" stroke-width="3.125" stroke-linecap="round" stroke-linejoin="round" opacity="0.7" transform="translate(-1.5,-2)"/>
<path d="M612,1058 C630,1048 660,1046 678,1056 C694,1066 694,1095 686,1108 C676,1122 652,1126 632,1122" fill="none" stroke="#4064b8" stroke-width="12.5" stroke-linecap="round" stroke-linejoin="round"/>
<path d="M612,1058 C630,1048 660,1046 678,1056 C694,1066 694,1095 686,1108 C676,1122 652,1126 632,1122" fill="none" stroke="#5a80d4" stroke-width="9.5" stroke-linecap="round" stroke-linejoin="round"/>
<path d="M612,1058 C630,1048 660,1046 678,1056 C694,1066 694,1095 686,1108 C676,1122 652,1126 632,1122" fill="none" stroke="#8eabea" stroke-width="3.125" stroke-linecap="round" stroke-linejoin="round" opacity="0.7" transform="translate(-1.5,-2)"/>
<path d="M606,1056 C580,1050 557,1066 557,1088 C557,1102 566,1108 580,1110" fill="none" stroke="#4064b8" stroke-width="12.5" stroke-linecap="round" stroke-linejoin="round"/>
<path d="M606,1056 C580,1050 557,1066 557,1088 C557,1102 566,1108 580,1110" fill="none" stroke="#5a80d4" stroke-width="9.5" stroke-linecap="round" stroke-linejoin="round"/>
<path d="M606,1056 C580,1050 557,1066 557,1088 C557,1102 566,1108 580,1110" fill="none" stroke="#8eabea" stroke-width="3.125" stroke-linecap="round" stroke-linejoin="round" opacity="0.7" transform="translate(-1.5,-2)"/>
<path d="M632,1040 C626,1050 616,1056 600,1060" fill="none" stroke="#4064b8" stroke-width="12.5" stroke-linecap="round" stroke-linejoin="round"/>
<path d="M632,1040 C626,1050 616,1056 600,1060" fill="none" stroke="#5a80d4" stroke-width="9.5" stroke-linecap="round" stroke-linejoin="round"/>
<path d="M632,1040 C626,1050 616,1056 600,1060" fill="none" stroke="#8eabea" stroke-width="3.125" stroke-linecap="round" stroke-linejoin="round" opacity="0.7" transform="translate(-1.5,-2)"/>
<path d="M626,1056 C608,1050 597,1032 601,1016 C605,1004 621,1008 628,1022 C634,1036 630,1048 622,1058" fill="none" stroke="#4064b8" stroke-width="12.5" stroke-linecap="round" stroke-linejoin="round"/>
<path d="M626,1056 C608,1050 597,1032 601,1016 C605,1004 621,1008 628,1022 C634,1036 630,1048 622,1058" fill="none" stroke="#5a80d4" stroke-width="9.5" stroke-linecap="round" stroke-linejoin="round"/>
<path d="M626,1056 C608,1050 597,1032 601,1016 C605,1004 621,1008 628,1022 C634,1036 630,1048 622,1058" fill="none" stroke="#8eabea" stroke-width="3.125" stroke-linecap="round" stroke-linejoin="round" opacity="0.7" transform="translate(-1.5,-2)"/>
<path d="M562,1098 C600,1097 650,1100 687,1104" fill="none" stroke="#4064b8" stroke-width="12.5" stroke-linecap="round" stroke-linejoin="round"/>
<path d="M562,1098 C600,1097 650,1100 687,1104" fill="none" stroke="#5a80d4" stroke-width="9.5" stroke-linecap="round" stroke-linejoin="round"/>
<path d="M562,1098 C600,1097 650,1100 687,1104" fill="none" stroke="#8eabea" stroke-width="3.125" stroke-linecap="round" stroke-linejoin="round" opacity="0.7" transform="translate(-1.5,-2)"/>
</g>
<g id="eccrine">
<path d="M1185,636 L1195,636 L1193,720 L1190,800 L1190,870 L1192,905 L1181,905 L1179,870 L1180,800 L1183,720 Z" fill="#4b70c9"/>
<path d="M1187,640 L1191,640 L1189,720 L1186,800 L1185,870 L1185,900 L1182,900 L1182,870 L1183,800 L1186,720 Z" fill="#7d9de6" opacity="0.8"/>
<path d="M1183,630 L1196,628 L1196,640 L1185,641 Z" fill="#f6c28c" opacity="0.8"/>
<g transform="translate(1.5,2)" fill="none" stroke="#d99a86" stroke-width="11.5" stroke-linecap="round" stroke-linejoin="round" opacity="0.9">
<path d="M1195,915 C1198,940 1202,965 1206,992"/>
<path d="M1190,935 C1200,960 1215,985 1228,998"/>
<path d="M1234,945 C1220,965 1205,985 1195,996"/>
<path d="M1180,925 C1176,950 1176,980 1186,998 C1194,1008 1206,1008 1214,1002"/>
<path d="M1197,905 C1200,893 1212,887 1222,889 C1236,892 1242,910 1240,935 C1238,960 1236,985 1222,1003 C1215,1010 1205,1010 1200,1004"/>
<path d="M1212,905 C1222,925 1230,945 1236,962"/>
<path d="M1187,900 C1183,890 1175,893 1175,905 C1175,920 1182,930 1190,928 C1196,926 1196,912 1192,902"/>
</g>
<path d="M1195,915 C1198,940 1202,965 1206,992" fill="none" stroke="#4a6fc6" stroke-width="10.5" stroke-linecap="round" stroke-linejoin="round"/>
<path d="M1195,915 C1198,940 1202,965 1206,992" fill="none" stroke="#5f84d6" stroke-width="7.5" stroke-linecap="round" stroke-linejoin="round"/>
<path d="M1195,915 C1198,940 1202,965 1206,992" fill="none" stroke="#9ab4ee" stroke-width="2.625" stroke-linecap="round" stroke-linejoin="round" opacity="0.7" transform="translate(-1.5,-2)"/>
<path d="M1190,935 C1200,960 1215,985 1228,998" fill="none" stroke="#4a6fc6" stroke-width="10.5" stroke-linecap="round" stroke-linejoin="round"/>
<path d="M1190,935 C1200,960 1215,985 1228,998" fill="none" stroke="#5f84d6" stroke-width="7.5" stroke-linecap="round" stroke-linejoin="round"/>
<path d="M1190,935 C1200,960 1215,985 1228,998" fill="none" stroke="#9ab4ee" stroke-width="2.625" stroke-linecap="round" stroke-linejoin="round" opacity="0.7" transform="translate(-1.5,-2)"/>
<path d="M1234,945 C1220,965 1205,985 1195,996" fill="none" stroke="#4a6fc6" stroke-width="10.5" stroke-linecap="round" stroke-linejoin="round"/>
<path d="M1234,945 C1220,965 1205,985 1195,996" fill="none" stroke="#5f84d6" stroke-width="7.5" stroke-linecap="round" stroke-linejoin="round"/>
<path d="M1234,945 C1220,965 1205,985 1195,996" fill="none" stroke="#9ab4ee" stroke-width="2.625" stroke-linecap="round" stroke-linejoin="round" opacity="0.7" transform="translate(-1.5,-2)"/>
<path d="M1180,925 C1176,950 1176,980 1186,998 C1194,1008 1206,1008 1214,1002" fill="none" stroke="#4a6fc6" stroke-width="10.5" stroke-linecap="round" stroke-linejoin="round"/>
<path d="M1180,925 C1176,950 1176,980 1186,998 C1194,1008 1206,1008 1214,1002" fill="none" stroke="#5f84d6" stroke-width="7.5" stroke-linecap="round" stroke-linejoin="round"/>
<path d="M1180,925 C1176,950 1176,980 1186,998 C1194,1008 1206,1008 1214,1002" fill="none" stroke="#9ab4ee" stroke-width="2.625" stroke-linecap="round" stroke-linejoin="round" opacity="0.7" transform="translate(-1.5,-2)"/>
<path d="M1197,905 C1200,893 1212,887 1222,889 C1236,892 1242,910 1240,935 C1238,960 1236,985 1222,1003 C1215,1010 1205,1010 1200,1004" fill="none" stroke="#4a6fc6" stroke-width="10.5" stroke-linecap="round" stroke-linejoin="round"/>
<path d="M1197,905 C1200,893 1212,887 1222,889 C1236,892 1242,910 1240,935 C1238,960 1236,985 1222,1003 C1215,1010 1205,1010 1200,1004" fill="none" stroke="#5f84d6" stroke-width="7.5" stroke-linecap="round" stroke-linejoin="round"/>
<path d="M1197,905 C1200,893 1212,887 1222,889 C1236,892 1242,910 1240,935 C1238,960 1236,985 1222,1003 C1215,1010 1205,1010 1200,1004" fill="none" stroke="#9ab4ee" stroke-width="2.625" stroke-linecap="round" stroke-linejoin="round" opacity="0.7" transform="translate(-1.5,-2)"/>
<path d="M1212,905 C1222,925 1230,945 1236,962" fill="none" stroke="#4a6fc6" stroke-width="10.5" stroke-linecap="round" stroke-linejoin="round"/>
<path d="M1212,905 C1222,925 1230,945 1236,962" fill="none" stroke="#5f84d6" stroke-width="7.5" stroke-linecap="round" stroke-linejoin="round"/>
<path d="M1212,905 C1222,925 1230,945 1236,962" fill="none" stroke="#9ab4ee" stroke-width="2.625" stroke-linecap="round" stroke-linejoin="round" opacity="0.7" transform="translate(-1.5,-2)"/>
<path d="M1187,900 C1183,890 1175,893 1175,905 C1175,920 1182,930 1190,928 C1196,926 1196,912 1192,902" fill="none" stroke="#4a6fc6" stroke-width="10.5" stroke-linecap="round" stroke-linejoin="round"/>
<path d="M1187,900 C1183,890 1175,893 1175,905 C1175,920 1182,930 1190,928 C1196,926 1196,912 1192,902" fill="none" stroke="#5f84d6" stroke-width="7.5" stroke-linecap="round" stroke-linejoin="round"/>
<path d="M1187,900 C1183,890 1175,893 1175,905 C1175,920 1182,930 1190,928 C1196,926 1196,912 1192,902" fill="none" stroke="#9ab4ee" stroke-width="2.625" stroke-linecap="round" stroke-linejoin="round" opacity="0.7" transform="translate(-1.5,-2)"/>
</g>
<g id="watermark">
<defs><g id="wmText">
<path d="M33.5,1640 V1654 A6.5,6.5 0 1 1 27,1647.5"/>
<path d="M43,1660.5 V1653 Q43,1647.5 50,1647.5"/>
<path d="M68.5,1660.5 H62 A6.5,6.5 0 0 1 62,1647.5 A5.5,5.5 0 0 1 67.5,1652 Q65,1655 59.5,1655"/>
<path d="M87.5,1660.5 V1654 A6.5,6.5 0 1 0 81,1660.5"/>
<path d="M97,1660.5 V1647.5 M97,1653 A4.5,5.5 0 0 1 106,1653 V1660.5 M106,1653 A4.5,5.5 0 0 1 115,1653 V1660.5"/>
<path d="M122.5,1660.5 Q128.5,1660.5 128.5,1654 Q128.5,1647.5 134.5,1647.5"/>
<path d="M143,1641 V1654 A6.5,6.5 0 0 0 149.5,1660.5 H152 M143,1647.5 H152"/>
<path d="M160.8,1647.5 V1660.5"/>
<path d="M170.5,1660.5 V1647.5 M170.5,1653 A4.5,5.5 0 0 1 179.5,1653 V1660.5 M179.5,1653 A4.5,5.5 0 0 1 188.5,1653 V1660.5"/>
<path d="M208.5,1660.5 H203 A6.5,6.5 0 0 1 203,1647.5 A5.5,5.5 0 0 1 208.5,1652 Q206,1655 200.5,1655"/>
</g><path id="wmSym" d="M161,1634.5 m-1.5,0 a1.5,1.5 0 1 1 3,0 a3.2,3.2 0 0 1 -6.4,0 a5,5 0 0 1 10,0 a6.6,6.6 0 0 1 -4,6"/><path id="wmSpiral" d="M2.5,-0.4 L2.7,-0.2 L2.9,-0.0 L3.1,0.2 L3.2,0.5 L3.3,0.8 L3.4,1.2 L3.5,1.5 L3.5,1.9 L3.5,2.3 L3.4,2.7 L3.3,3.1 L3.2,3.5 L3.0,3.9 L2.7,4.3 L2.4,4.7 L2.1,5.1 L1.7,5.4 L1.3,5.7 L0.9,6.0 L0.4,6.2 L-0.2,6.4 L-0.7,6.6 L-1.3,6.7 L-1.9,6.7 L-2.6,6.7 L-3.2,6.6 L-3.9,6.5 L-4.5,6.3 L-5.1,6.1 L-5.8,5.7 L-6.4,5.3 L-6.9,4.9 L-7.5,4.4 L-8.0,3.8 L-8.5,3.2 L-8.9,2.5 L-9.3,1.8 L-9.6,1.0 L-9.8,0.2 L-10.0,-0.6 L-10.1,-1.5 L-10.1,-2.4 L-10.0,-3.3 L-9.9,-4.2 L-9.7,-5.1 L-9.4,-6.0 L-9.0,-6.9 L-8.5,-7.7 L-8.0,-8.6 L-7.3,-9.3 L-6.6,-10.1 L-5.8,-10.8 L-5.0,-11.4 L-4.1,-12.0 L-3.1,-12.4 L-2.1,-12.8 L-1.0,-13.2 L0.1,-13.4 L1.3,-13.5 L2.4,-13.5 L3.6,-13.5 L4.8,-13.3 L6.0,-13.0 L7.2,-12.6 L8.3,-12.1 L9.4,-11.5 L10.5,-10.8 L11.5,-10.0 L12.5,-9.1 L13.3,-8.1 L14.1,-7.1 L14.9,-5.9 L15.5,-4.7 L16.0,-3.4 L16.4,-2.1 L16.7,-0.7 L16.9,0.7 L17.0,2.2 L16.9,3.6 L16.7,5.1 L16.4,6.6 L16.0,8.0 L15.4,9.4 L14.7,10.8 L13.9,12.1 L12.9,13.4 L11.9,14.6 L10.7,15.7 L9.4,16.7 L8.1,17.6 L6.6,18.4 L5.1,19.1 L3.5,19.6 L1.9,20.0 L0.2,20.3 L-1.6,20.4 L-3.3,20.4 L-5.1,20.2 L-6.8,19.9 L-8.6,19.5 L-10.3,18.8 L-11.9,18.0 L-13.5,17.1 L-15.0,16.1 L-16.5,14.9 L-17.8,13.5 L-19.1,12.1 L-20.2,10.5 L-21.2,8.9 L-22.0,7.1 L-22.7,5.3 L-23.3,3.4 L-23.6,1.4 L-23.9,-0.6 L-23.9,-2.6 L-23.8,-4.7 L-23.5,-6.7 L-23.0,-8.8 L-22.4,-10.7 L-21.5,-12.7 L-20.5,-14.6 L-19.4,-16.4 L-18.1,-18.1 L-16.6,-19.7 L-15.0,-21.2 L-13.2,-22.5 L-11.4,-23.7 L-9.4,-24.8 L-7.3,-25.7 L-5.2,-26.4 L-3.0,-26.9 L-0.7,-27.2 L1.6,-27.4 L4.0,-27.3 L6.3,-27.1 L8.6,-26.6 L10.9,-26.0 L13.1,-25.2 L15.3,-24.1 L17.4,-22.9 L19.4,-21.5 L21.3,-19.9 L23.0,-18.1 L24.6,-16.2 L26.1,-14.2 L27.4,-12.0 L28.4,-9.7 L29.3,-7.3 L30.0,-4.9 L30.5,-2.3 L30.8,0.2 L30.9,2.9 L30.7,5.5 L30.3,8.1 L29.7,10.7 L28.9,13.2 L27.8,15.7 L26.5,18.1 L25.1,20.4 L23.4,22.6"/>
<mask id="txMask" maskUnits="userSpaceOnUse" x="0" y="1600" width="300" height="90"><use href="#wmText" stroke="#fff" stroke-width="5.2" fill="none" stroke-linecap="round" stroke-linejoin="round"/><use href="#wmText" stroke="#000" stroke-width="3.4" fill="none" stroke-linecap="round" stroke-linejoin="round"/></mask>
<mask id="spMask" maskUnits="userSpaceOnUse" x="-50" y="-50" width="100" height="100"><use href="#wmSpiral" stroke="#fff" stroke-width="11.5" fill="none" stroke-linecap="round"/><use href="#wmSpiral" stroke="#000" stroke-width="9.5" fill="none" stroke-linecap="round"/></mask></defs>
<g transform="translate(50,70) rotate(-42.6) scale(0.9) translate(-112.5,-1652)" fill="none" stroke-linecap="round" stroke-linejoin="round"><rect x="0" y="1600" width="300" height="90" fill="#000" fill-opacity="0.06" stroke="none" mask="url(#txMask)"/><use href="#wmText" stroke="#fff" stroke-opacity="0.4" stroke-width="3.6"/><use href="#wmSym" stroke="#fff" stroke-opacity="0.4" stroke-width="1.8"/></g>
<g stroke="#fff" stroke-opacity="0.18" stroke-width="1.5"><line x1="-45" y1="-25" x2="5" y2="25"/><line x1="95" y1="115" x2="145" y2="165"/></g>
<g transform="translate(350,70)" fill="none" stroke-linecap="round"><rect x="-50" y="-50" width="100" height="100" fill="#000" fill-opacity="0.07" stroke="none" mask="url(#spMask)"/><use href="#wmSpiral" stroke="#fff" stroke-opacity="0.42" stroke-width="9.5"/></g>
<g stroke="#fff" stroke-opacity="0.18" stroke-width="1.5"><line x1="255" y1="-25" x2="305" y2="25"/><line x1="395" y1="115" x2="445" y2="165"/></g>
<g transform="translate(650,70) rotate(-42.6) scale(0.9) translate(-112.5,-1652)" fill="none" stroke-linecap="round" stroke-linejoin="round"><rect x="0" y="1600" width="300" height="90" fill="#000" fill-opacity="0.06" stroke="none" mask="url(#txMask)"/><use href="#wmText" stroke="#fff" stroke-opacity="0.4" stroke-width="3.6"/><use href="#wmSym" stroke="#fff" stroke-opacity="0.4" stroke-width="1.8"/></g>
<g stroke="#fff" stroke-opacity="0.18" stroke-width="1.5"><line x1="555" y1="-25" x2="605" y2="25"/><line x1="695" y1="115" x2="745" y2="165"/></g>
<g transform="translate(950,70)" fill="none" stroke-linecap="round"><rect x="-50" y="-50" width="100" height="100" fill="#000" fill-opacity="0.07" stroke="none" mask="url(#spMask)"/><use href="#wmSpiral" stroke="#fff" stroke-opacity="0.42" stroke-width="9.5"/></g>
<g stroke="#fff" stroke-opacity="0.18" stroke-width="1.5"><line x1="855" y1="-25" x2="905" y2="25"/><line x1="995" y1="115" x2="1045" y2="165"/></g>
<g transform="translate(1250,70) rotate(-42.6) scale(0.9) translate(-112.5,-1652)" fill="none" stroke-linecap="round" stroke-linejoin="round"><rect x="0" y="1600" width="300" height="90" fill="#000" fill-opacity="0.06" stroke="none" mask="url(#txMask)"/><use href="#wmText" stroke="#fff" stroke-opacity="0.4" stroke-width="3.6"/><use href="#wmSym" stroke="#fff" stroke-opacity="0.4" stroke-width="1.8"/></g>
<g stroke="#fff" stroke-opacity="0.18" stroke-width="1.5"><line x1="1155" y1="-25" x2="1205" y2="25"/><line x1="1295" y1="115" x2="1345" y2="165"/></g>
<g transform="translate(1550,70)" fill="none" stroke-linecap="round"><rect x="-50" y="-50" width="100" height="100" fill="#000" fill-opacity="0.07" stroke="none" mask="url(#spMask)"/><use href="#wmSpiral" stroke="#fff" stroke-opacity="0.42" stroke-width="9.5"/></g>
<g stroke="#fff" stroke-opacity="0.18" stroke-width="1.5"><line x1="1455" y1="-25" x2="1505" y2="25"/><line x1="1595" y1="115" x2="1645" y2="165"/></g>
<g transform="translate(50,370)" fill="none" stroke-linecap="round"><rect x="-50" y="-50" width="100" height="100" fill="#000" fill-opacity="0.07" stroke="none" mask="url(#spMask)"/><use href="#wmSpiral" stroke="#fff" stroke-opacity="0.42" stroke-width="9.5"/></g>
<g stroke="#fff" stroke-opacity="0.18" stroke-width="1.5"><line x1="-45" y1="275" x2="5" y2="325"/><line x1="95" y1="415" x2="145" y2="465"/></g>
<g transform="translate(350,370) rotate(-42.6) scale(0.9) translate(-112.5,-1652)" fill="none" stroke-linecap="round" stroke-linejoin="round"><rect x="0" y="1600" width="300" height="90" fill="#000" fill-opacity="0.06" stroke="none" mask="url(#txMask)"/><use href="#wmText" stroke="#fff" stroke-opacity="0.4" stroke-width="3.6"/><use href="#wmSym" stroke="#fff" stroke-opacity="0.4" stroke-width="1.8"/></g>
<g stroke="#fff" stroke-opacity="0.18" stroke-width="1.5"><line x1="255" y1="275" x2="305" y2="325"/><line x1="395" y1="415" x2="445" y2="465"/></g>
<g transform="translate(650,370)" fill="none" stroke-linecap="round"><rect x="-50" y="-50" width="100" height="100" fill="#000" fill-opacity="0.07" stroke="none" mask="url(#spMask)"/><use href="#wmSpiral" stroke="#fff" stroke-opacity="0.42" stroke-width="9.5"/></g>
<g stroke="#fff" stroke-opacity="0.18" stroke-width="1.5"><line x1="555" y1="275" x2="605" y2="325"/><line x1="695" y1="415" x2="745" y2="465"/></g>
<g transform="translate(950,370) rotate(-42.6) scale(0.9) translate(-112.5,-1652)" fill="none" stroke-linecap="round" stroke-linejoin="round"><rect x="0" y="1600" width="300" height="90" fill="#000" fill-opacity="0.06" stroke="none" mask="url(#txMask)"/><use href="#wmText" stroke="#fff" stroke-opacity="0.4" stroke-width="3.6"/><use href="#wmSym" stroke="#fff" stroke-opacity="0.4" stroke-width="1.8"/></g>
<g stroke="#fff" stroke-opacity="0.18" stroke-width="1.5"><line x1="855" y1="275" x2="905" y2="325"/><line x1="995" y1="415" x2="1045" y2="465"/></g>
<g transform="translate(1250,370)" fill="none" stroke-linecap="round"><rect x="-50" y="-50" width="100" height="100" fill="#000" fill-opacity="0.07" stroke="none" mask="url(#spMask)"/><use href="#wmSpiral" stroke="#fff" stroke-opacity="0.42" stroke-width="9.5"/></g>
<g stroke="#fff" stroke-opacity="0.18" stroke-width="1.5"><line x1="1155" y1="275" x2="1205" y2="325"/><line x1="1295" y1="415" x2="1345" y2="465"/></g>
<g transform="translate(1550,370) rotate(-42.6) scale(0.9) translate(-112.5,-1652)" fill="none" stroke-linecap="round" stroke-linejoin="round"><rect x="0" y="1600" width="300" height="90" fill="#000" fill-opacity="0.06" stroke="none" mask="url(#txMask)"/><use href="#wmText" stroke="#fff" stroke-opacity="0.4" stroke-width="3.6"/><use href="#wmSym" stroke="#fff" stroke-opacity="0.4" stroke-width="1.8"/></g>
<g stroke="#fff" stroke-opacity="0.18" stroke-width="1.5"><line x1="1455" y1="275" x2="1505" y2="325"/><line x1="1595" y1="415" x2="1645" y2="465"/></g>
<g transform="translate(50,670) rotate(-42.6) scale(0.9) translate(-112.5,-1652)" fill="none" stroke-linecap="round" stroke-linejoin="round"><rect x="0" y="1600" width="300" height="90" fill="#000" fill-opacity="0.06" stroke="none" mask="url(#txMask)"/><use href="#wmText" stroke="#fff" stroke-opacity="0.4" stroke-width="3.6"/><use href="#wmSym" stroke="#fff" stroke-opacity="0.4" stroke-width="1.8"/></g>
<g stroke="#fff" stroke-opacity="0.18" stroke-width="1.5"><line x1="-45" y1="575" x2="5" y2="625"/><line x1="95" y1="715" x2="145" y2="765"/></g>
<g transform="translate(350,670)" fill="none" stroke-linecap="round"><rect x="-50" y="-50" width="100" height="100" fill="#000" fill-opacity="0.07" stroke="none" mask="url(#spMask)"/><use href="#wmSpiral" stroke="#fff" stroke-opacity="0.42" stroke-width="9.5"/></g>
<g stroke="#fff" stroke-opacity="0.18" stroke-width="1.5"><line x1="255" y1="575" x2="305" y2="625"/><line x1="395" y1="715" x2="445" y2="765"/></g>
<g transform="translate(650,670) rotate(-42.6) scale(0.9) translate(-112.5,-1652)" fill="none" stroke-linecap="round" stroke-linejoin="round"><rect x="0" y="1600" width="300" height="90" fill="#000" fill-opacity="0.06" stroke="none" mask="url(#txMask)"/><use href="#wmText" stroke="#fff" stroke-opacity="0.4" stroke-width="3.6"/><use href="#wmSym" stroke="#fff" stroke-opacity="0.4" stroke-width="1.8"/></g>
<g stroke="#fff" stroke-opacity="0.18" stroke-width="1.5"><line x1="555" y1="575" x2="605" y2="625"/><line x1="695" y1="715" x2="745" y2="765"/></g>
<g transform="translate(950,670)" fill="none" stroke-linecap="round"><rect x="-50" y="-50" width="100" height="100" fill="#000" fill-opacity="0.07" stroke="none" mask="url(#spMask)"/><use href="#wmSpiral" stroke="#fff" stroke-opacity="0.42" stroke-width="9.5"/></g>
<g stroke="#fff" stroke-opacity="0.18" stroke-width="1.5"><line x1="855" y1="575" x2="905" y2="625"/><line x1="995" y1="715" x2="1045" y2="765"/></g>
<g transform="translate(1250,670) rotate(-42.6) scale(0.9) translate(-112.5,-1652)" fill="none" stroke-linecap="round" stroke-linejoin="round"><rect x="0" y="1600" width="300" height="90" fill="#000" fill-opacity="0.06" stroke="none" mask="url(#txMask)"/><use href="#wmText" stroke="#fff" stroke-opacity="0.4" stroke-width="3.6"/><use href="#wmSym" stroke="#fff" stroke-opacity="0.4" stroke-width="1.8"/></g>
<g stroke="#fff" stroke-opacity="0.18" stroke-width="1.5"><line x1="1155" y1="575" x2="1205" y2="625"/><line x1="1295" y1="715" x2="1345" y2="765"/></g>
<g transform="translate(1550,670)" fill="none" stroke-linecap="round"><rect x="-50" y="-50" width="100" height="100" fill="#000" fill-opacity="0.07" stroke="none" mask="url(#spMask)"/><use href="#wmSpiral" stroke="#fff" stroke-opacity="0.42" stroke-width="9.5"/></g>
<g stroke="#fff" stroke-opacity="0.18" stroke-width="1.5"><line x1="1455" y1="575" x2="1505" y2="625"/><line x1="1595" y1="715" x2="1645" y2="765"/></g>
<g transform="translate(50,970)" fill="none" stroke-linecap="round"><rect x="-50" y="-50" width="100" height="100" fill="#000" fill-opacity="0.07" stroke="none" mask="url(#spMask)"/><use href="#wmSpiral" stroke="#fff" stroke-opacity="0.42" stroke-width="9.5"/></g>
<g stroke="#fff" stroke-opacity="0.18" stroke-width="1.5"><line x1="-45" y1="875" x2="5" y2="925"/><line x1="95" y1="1015" x2="145" y2="1065"/></g>
<g transform="translate(350,970) rotate(-42.6) scale(0.9) translate(-112.5,-1652)" fill="none" stroke-linecap="round" stroke-linejoin="round"><rect x="0" y="1600" width="300" height="90" fill="#000" fill-opacity="0.06" stroke="none" mask="url(#txMask)"/><use href="#wmText" stroke="#fff" stroke-opacity="0.4" stroke-width="3.6"/><use href="#wmSym" stroke="#fff" stroke-opacity="0.4" stroke-width="1.8"/></g>
<g stroke="#fff" stroke-opacity="0.18" stroke-width="1.5"><line x1="255" y1="875" x2="305" y2="925"/><line x1="395" y1="1015" x2="445" y2="1065"/></g>
<g transform="translate(650,970)" fill="none" stroke-linecap="round"><rect x="-50" y="-50" width="100" height="100" fill="#000" fill-opacity="0.07" stroke="none" mask="url(#spMask)"/><use href="#wmSpiral" stroke="#fff" stroke-opacity="0.42" stroke-width="9.5"/></g>
<g stroke="#fff" stroke-opacity="0.18" stroke-width="1.5"><line x1="555" y1="875" x2="605" y2="925"/><line x1="695" y1="1015" x2="745" y2="1065"/></g>
<g transform="translate(950,970) rotate(-42.6) scale(0.9) translate(-112.5,-1652)" fill="none" stroke-linecap="round" stroke-linejoin="round"><rect x="0" y="1600" width="300" height="90" fill="#000" fill-opacity="0.06" stroke="none" mask="url(#txMask)"/><use href="#wmText" stroke="#fff" stroke-opacity="0.4" stroke-width="3.6"/><use href="#wmSym" stroke="#fff" stroke-opacity="0.4" stroke-width="1.8"/></g>
<g stroke="#fff" stroke-opacity="0.18" stroke-width="1.5"><line x1="855" y1="875" x2="905" y2="925"/><line x1="995" y1="1015" x2="1045" y2="1065"/></g>
<g transform="translate(1250,970)" fill="none" stroke-linecap="round"><rect x="-50" y="-50" width="100" height="100" fill="#000" fill-opacity="0.07" stroke="none" mask="url(#spMask)"/><use href="#wmSpiral" stroke="#fff" stroke-opacity="0.42" stroke-width="9.5"/></g>
<g stroke="#fff" stroke-opacity="0.18" stroke-width="1.5"><line x1="1155" y1="875" x2="1205" y2="925"/><line x1="1295" y1="1015" x2="1345" y2="1065"/></g>
<g transform="translate(1550,970) rotate(-42.6) scale(0.9) translate(-112.5,-1652)" fill="none" stroke-linecap="round" stroke-linejoin="round"><rect x="0" y="1600" width="300" height="90" fill="#000" fill-opacity="0.06" stroke="none" mask="url(#txMask)"/><use href="#wmText" stroke="#fff" stroke-opacity="0.4" stroke-width="3.6"/><use href="#wmSym" stroke="#fff" stroke-opacity="0.4" stroke-width="1.8"/></g>
<g stroke="#fff" stroke-opacity="0.18" stroke-width="1.5"><line x1="1455" y1="875" x2="1505" y2="925"/><line x1="1595" y1="1015" x2="1645" y2="1065"/></g>
<g transform="translate(50,1270) rotate(-42.6) scale(0.9) translate(-112.5,-1652)" fill="none" stroke-linecap="round" stroke-linejoin="round"><rect x="0" y="1600" width="300" height="90" fill="#000" fill-opacity="0.06" stroke="none" mask="url(#txMask)"/><use href="#wmText" stroke="#fff" stroke-opacity="0.4" stroke-width="3.6"/><use href="#wmSym" stroke="#fff" stroke-opacity="0.4" stroke-width="1.8"/></g>
<g stroke="#fff" stroke-opacity="0.18" stroke-width="1.5"><line x1="-45" y1="1175" x2="5" y2="1225"/><line x1="95" y1="1315" x2="145" y2="1365"/></g>
<g transform="translate(350,1270)" fill="none" stroke-linecap="round"><rect x="-50" y="-50" width="100" height="100" fill="#000" fill-opacity="0.07" stroke="none" mask="url(#spMask)"/><use href="#wmSpiral" stroke="#fff" stroke-opacity="0.42" stroke-width="9.5"/></g>
<g stroke="#fff" stroke-opacity="0.18" stroke-width="1.5"><line x1="255" y1="1175" x2="305" y2="1225"/><line x1="395" y1="1315" x2="445" y2="1365"/></g>
<g transform="translate(650,1270) rotate(-42.6) scale(0.9) translate(-112.5,-1652)" fill="none" stroke-linecap="round" stroke-linejoin="round"><rect x="0" y="1600" width="300" height="90" fill="#000" fill-opacity="0.06" stroke="none" mask="url(#txMask)"/><use href="#wmText" stroke="#fff" stroke-opacity="0.4" stroke-width="3.6"/><use href="#wmSym" stroke="#fff" stroke-opacity="0.4" stroke-width="1.8"/></g>
<g stroke="#fff" stroke-opacity="0.18" stroke-width="1.5"><line x1="555" y1="1175" x2="605" y2="1225"/><line x1="695" y1="1315" x2="745" y2="1365"/></g>
<g transform="translate(950,1270)" fill="none" stroke-linecap="round"><rect x="-50" y="-50" width="100" height="100" fill="#000" fill-opacity="0.07" stroke="none" mask="url(#spMask)"/><use href="#wmSpiral" stroke="#fff" stroke-opacity="0.42" stroke-width="9.5"/></g>
<g stroke="#fff" stroke-opacity="0.18" stroke-width="1.5"><line x1="855" y1="1175" x2="905" y2="1225"/><line x1="995" y1="1315" x2="1045" y2="1365"/></g>
<g transform="translate(1250,1270) rotate(-42.6) scale(0.9) translate(-112.5,-1652)" fill="none" stroke-linecap="round" stroke-linejoin="round"><rect x="0" y="1600" width="300" height="90" fill="#000" fill-opacity="0.06" stroke="none" mask="url(#txMask)"/><use href="#wmText" stroke="#fff" stroke-opacity="0.4" stroke-width="3.6"/><use href="#wmSym" stroke="#fff" stroke-opacity="0.4" stroke-width="1.8"/></g>
<g stroke="#fff" stroke-opacity="0.18" stroke-width="1.5"><line x1="1155" y1="1175" x2="1205" y2="1225"/><line x1="1295" y1="1315" x2="1345" y2="1365"/></g>
<g transform="translate(1550,1270)" fill="none" stroke-linecap="round"><rect x="-50" y="-50" width="100" height="100" fill="#000" fill-opacity="0.07" stroke="none" mask="url(#spMask)"/><use href="#wmSpiral" stroke="#fff" stroke-opacity="0.42" stroke-width="9.5"/></g>
<g stroke="#fff" stroke-opacity="0.18" stroke-width="1.5"><line x1="1455" y1="1175" x2="1505" y2="1225"/><line x1="1595" y1="1315" x2="1645" y2="1365"/></g>
<g transform="translate(50,1570)" fill="none" stroke-linecap="round"><rect x="-50" y="-50" width="100" height="100" fill="#000" fill-opacity="0.07" stroke="none" mask="url(#spMask)"/><use href="#wmSpiral" stroke="#fff" stroke-opacity="0.42" stroke-width="9.5"/></g>
<g stroke="#fff" stroke-opacity="0.18" stroke-width="1.5"><line x1="-45" y1="1475" x2="5" y2="1525"/><line x1="95" y1="1615" x2="145" y2="1665"/></g>
<g transform="translate(350,1570) rotate(-42.6) scale(0.9) translate(-112.5,-1652)" fill="none" stroke-linecap="round" stroke-linejoin="round"><rect x="0" y="1600" width="300" height="90" fill="#000" fill-opacity="0.06" stroke="none" mask="url(#txMask)"/><use href="#wmText" stroke="#fff" stroke-opacity="0.4" stroke-width="3.6"/><use href="#wmSym" stroke="#fff" stroke-opacity="0.4" stroke-width="1.8"/></g>
<g stroke="#fff" stroke-opacity="0.18" stroke-width="1.5"><line x1="255" y1="1475" x2="305" y2="1525"/><line x1="395" y1="1615" x2="445" y2="1665"/></g>
<g transform="translate(650,1570)" fill="none" stroke-linecap="round"><rect x="-50" y="-50" width="100" height="100" fill="#000" fill-opacity="0.07" stroke="none" mask="url(#spMask)"/><use href="#wmSpiral" stroke="#fff" stroke-opacity="0.42" stroke-width="9.5"/></g>
<g stroke="#fff" stroke-opacity="0.18" stroke-width="1.5"><line x1="555" y1="1475" x2="605" y2="1525"/><line x1="695" y1="1615" x2="745" y2="1665"/></g>
<g transform="translate(950,1570) rotate(-42.6) scale(0.9) translate(-112.5,-1652)" fill="none" stroke-linecap="round" stroke-linejoin="round"><rect x="0" y="1600" width="300" height="90" fill="#000" fill-opacity="0.06" stroke="none" mask="url(#txMask)"/><use href="#wmText" stroke="#fff" stroke-opacity="0.4" stroke-width="3.6"/><use href="#wmSym" stroke="#fff" stroke-opacity="0.4" stroke-width="1.8"/></g>
<g stroke="#fff" stroke-opacity="0.18" stroke-width="1.5"><line x1="855" y1="1475" x2="905" y2="1525"/><line x1="995" y1="1615" x2="1045" y2="1665"/></g>
<g transform="translate(1250,1570)" fill="none" stroke-linecap="round"><rect x="-50" y="-50" width="100" height="100" fill="#000" fill-opacity="0.07" stroke="none" mask="url(#spMask)"/><use href="#wmSpiral" stroke="#fff" stroke-opacity="0.42" stroke-width="9.5"/></g>
<g stroke="#fff" stroke-opacity="0.18" stroke-width="1.5"><line x1="1155" y1="1475" x2="1205" y2="1525"/><line x1="1295" y1="1615" x2="1345" y2="1665"/></g>
<g transform="translate(1550,1570) rotate(-42.6) scale(0.9) translate(-112.5,-1652)" fill="none" stroke-linecap="round" stroke-linejoin="round"><rect x="0" y="1600" width="300" height="90" fill="#000" fill-opacity="0.06" stroke="none" mask="url(#txMask)"/><use href="#wmText" stroke="#fff" stroke-opacity="0.4" stroke-width="3.6"/><use href="#wmSym" stroke="#fff" stroke-opacity="0.4" stroke-width="1.8"/></g>
<g stroke="#fff" stroke-opacity="0.18" stroke-width="1.5"><line x1="1455" y1="1475" x2="1505" y2="1525"/><line x1="1595" y1="1615" x2="1645" y2="1665"/></g>
</g>
<!-- title -->
<text transform="translate(221,217) scale(0.824,1)" font-size="108" fill="#000" stroke="#000" stroke-width="0.8">Sweat and sebaceous glands</text>
<!-- labels -->
<g id="labels" font-size="49" fill="#000" stroke="#000" stroke-width="0.6">
<text transform="translate(910,492) scale(0.835,1)">Sebaceous gland</text>
<text transform="translate(1237,551) scale(0.86,1)">Pore</text>
<text transform="translate(174.5,861) scale(0.84,1)">Hair</text>
<text transform="translate(175,906) scale(0.84,1)">follicle</text>
<text transform="translate(175,1102.5) scale(0.83,1)">Apocrine</text>
<text transform="translate(175,1148) scale(0.83,1)">sweat</text>
<text transform="translate(175,1192.5) scale(0.83,1)">glands</text>
<text transform="translate(1288.5,979.5) scale(0.83,1)">Eccrine</text>
<text transform="translate(1289,1025) scale(0.83,1)">sweat</text>
<text transform="translate(1289,1070) scale(0.83,1)">glands</text>
</g>
<g fill="none" stroke="#000" stroke-width="2.2">
<polyline points="901,479 854,479 854,960"/>
<polyline points="1230,535 1183,535 1183,630"/>
<line x1="269" y1="849.5" x2="723" y2="849.5"/>
<line x1="343" y1="1090.5" x2="562" y2="1090.5"/>
<line x1="1287.7" y1="962" x2="1219" y2="962" stroke-width="2"/>
</g>
<g fill="#000">
<circle cx="854" cy="961" r="6.5"/>
<circle cx="1183" cy="630" r="6"/>
<circle cx="723.5" cy="849" r="6"/>
<circle cx="562.5" cy="1090" r="6.5"/>
<circle cx="1219" cy="962" r="5.5" fill="#3e4147"/>
</g>
<!-- footer -->
<rect x="0" y="1600" width="1600" height="90" fill="#1277b0"/>
<g fill="none" stroke="#fff" stroke-width="4.6" stroke-linecap="round" stroke-linejoin="round">
<path d="M33.5,1640 V1654 A6.5,6.5 0 1 1 27,1647.5"/>
<path d="M43,1660.5 V1653 Q43,1647.5 50,1647.5"/>
<path d="M68.5,1660.5 H62 A6.5,6.5 0 0 1 62,1647.5 A5.5,5.5 0 0 1 67.5,1652 Q65,1655 59.5,1655"/>
<path d="M87.5,1660.5 V1654 A6.5,6.5 0 1 0 81,1660.5"/>
<path d="M97,1660.5 V1647.5 M97,1653 A4.5,5.5 0 0 1 106,1653 V1660.5 M106,1653 A4.5,5.5 0 0 1 115,1653 V1660.5"/>
<path d="M122.5,1660.5 Q128.5,1660.5 128.5,1654 Q128.5,1647.5 134.5,1647.5"/>
<path d="M143,1641 V1654 A6.5,6.5 0 0 0 149.5,1660.5 H152 M143,1647.5 H152"/>
<path d="M160.8,1647.5 V1660.5"/>
<path d="M170.5,1660.5 V1647.5 M170.5,1653 A4.5,5.5 0 0 1 179.5,1653 V1660.5 M179.5,1653 A4.5,5.5 0 0 1 188.5,1653 V1660.5"/>
<path d="M208.5,1660.5 H203 A6.5,6.5 0 0 1 203,1647.5 A5.5,5.5 0 0 1 208.5,1652 Q206,1655 200.5,1655"/>
<path d="M235,1649 A6.5,6.5 0 1 0 235,1659"/>
<circle cx="247" cy="1654" r="6.3"/>
<path d="M260.5,1660.5 V1647.5 M260.5,1653 A5,5.5 0 0 1 270.5,1653 V1660.5 M270.5,1653 A5,5.5 0 0 1 280.5,1653 V1660.5"/>
</g>
<circle cx="216.5" cy="1659.5" r="2.6" fill="#fff"/>
<path d="M161,1634.5 m-1.5,0 a1.5,1.5 0 1 1 3,0 a3.2,3.2 0 0 1 -6.4,0 a5,5 0 0 1 10,0 a6.6,6.6 0 0 1 -4,6" fill="none" stroke="#fff" stroke-width="1.8" stroke-linecap="round"/>
<text x="1269" y="1653.5" font-size="24.6" fill="#fff" font-weight="bold" textLength="300" lengthAdjust="spacing">ID 146420170 © Designua</text>
</svg>
</body></html>
